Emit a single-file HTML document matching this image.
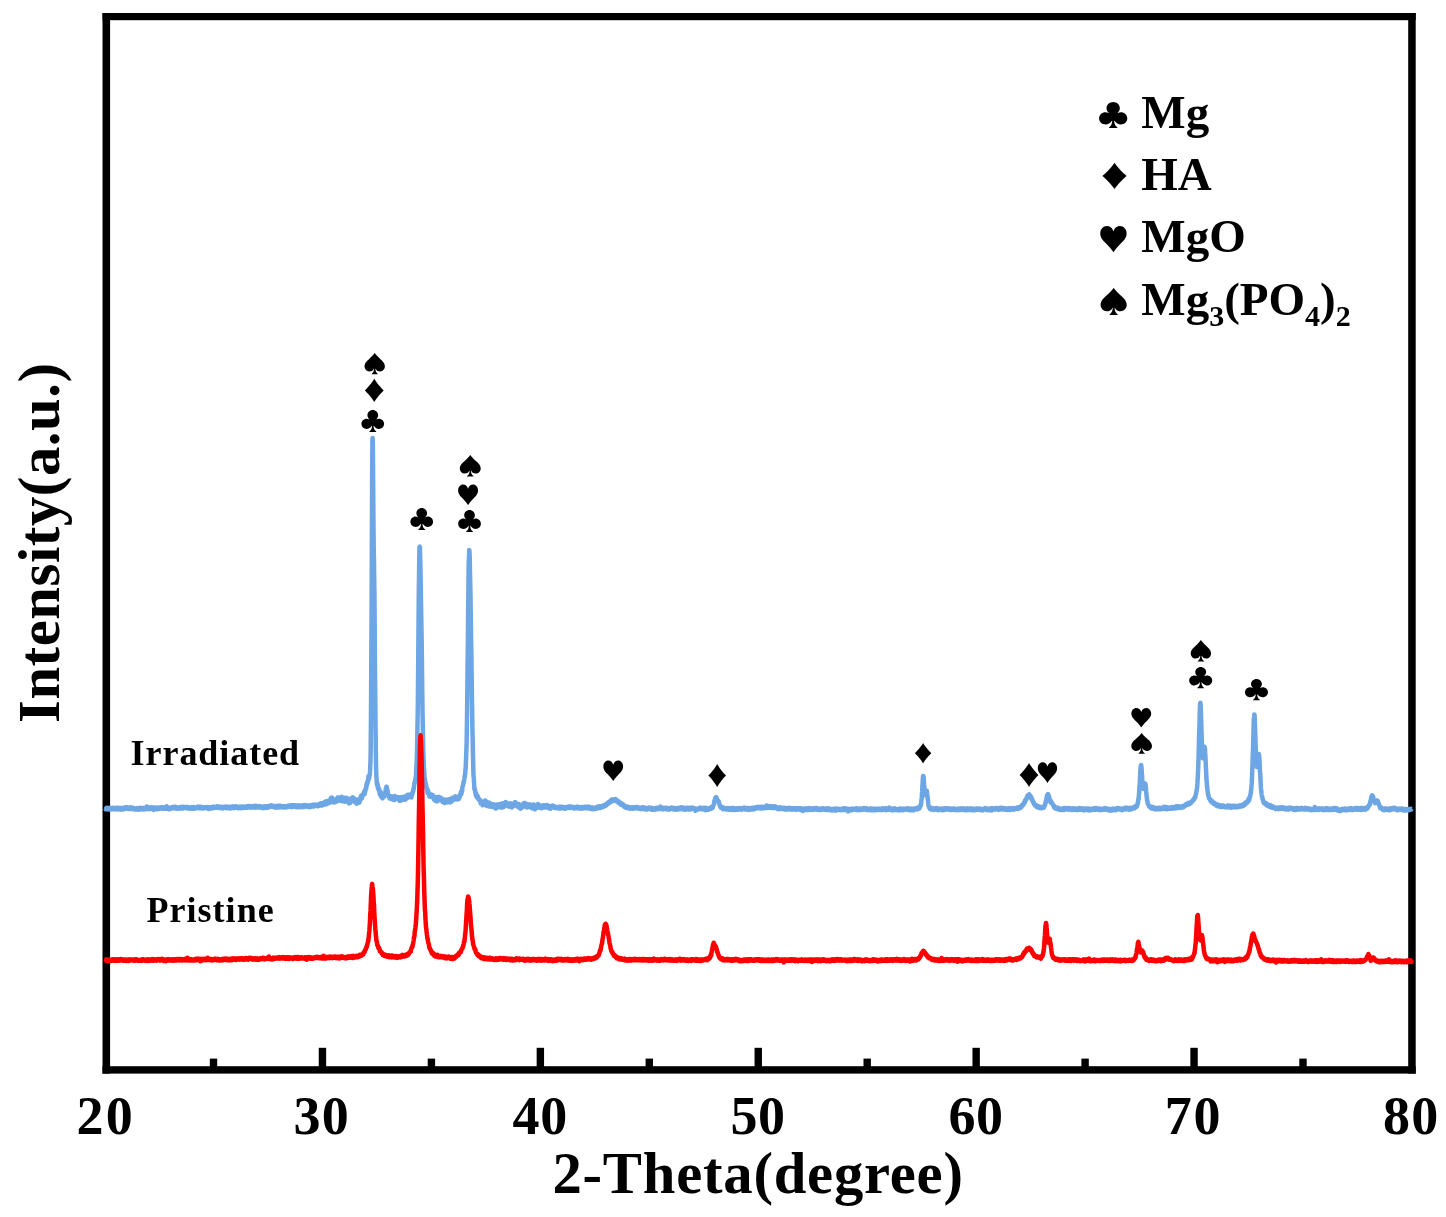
<!DOCTYPE html>
<html lang="en"><head><meta charset="utf-8"><title>XRD patterns: Irradiated vs Pristine</title>
<style>html,body{margin:0;padding:0;background:#fff}body{width:1446px;height:1217px;overflow:hidden}svg{display:block}text{font-family:'Liberation Serif','DejaVu Serif',serif;font-weight:bold;fill:#000}.s text{font-family:'Noto Sans CJK SC','DejaVu Sans',sans-serif;font-weight:normal}</style></head><body>
<svg width="1446" height="1217" viewBox="0 0 1446 1217">
<rect x="0" y="0" width="1446" height="1217" fill="#fff"/>
<g fill="#000">
<rect x="102.5" y="13.0" width="7.6" height="1060.6"/>
<rect x="1408.2" y="13.0" width="7.5" height="1060.6"/>
<rect x="102.5" y="13.0" width="1313.2" height="7.2"/>
<rect x="102.5" y="1066.2" width="1313.2" height="7.4"/>
<rect x="209.80" y="1058.6" width="7.4" height="8.6"/>
<rect x="318.75" y="1047.8" width="7.4" height="19.4"/>
<rect x="427.70" y="1058.6" width="7.4" height="8.6"/>
<rect x="536.65" y="1047.8" width="7.4" height="19.4"/>
<rect x="645.60" y="1058.6" width="7.4" height="8.6"/>
<rect x="754.55" y="1047.8" width="7.4" height="19.4"/>
<rect x="863.50" y="1058.6" width="7.4" height="8.6"/>
<rect x="972.45" y="1047.8" width="7.4" height="19.4"/>
<rect x="1081.40" y="1058.6" width="7.4" height="8.6"/>
<rect x="1190.35" y="1047.8" width="7.4" height="19.4"/>
<rect x="1299.30" y="1058.6" width="7.4" height="8.6"/>
</g>
<g fill="none" stroke-linejoin="round" stroke-linecap="butt">
<polyline stroke="#6da6e4" stroke-width="4.5" points="105.5,808.7 105.7,809.3 105.9,809.1 106.2,808.2 106.4,808.1 106.6,809.1 106.8,807.7 107.0,809.2 107.2,809.2 107.5,808.5 107.7,808.3 107.9,808.2 108.1,808.1 108.3,808.5 108.6,808.5 108.8,808.7 109.0,809.5 109.2,809.1 109.4,809.0 109.6,809.5 109.9,808.1 110.1,807.8 110.3,808.9 110.5,807.9 110.7,807.9 110.9,808.6 111.2,808.5 111.4,809.4 111.6,808.8 111.8,808.6 112.0,808.8 112.3,808.3 112.5,807.9 112.7,808.1 112.9,809.1 113.1,808.3 113.3,808.4 113.6,807.8 113.8,809.2 114.0,808.1 114.2,808.2 114.4,809.2 114.7,808.5 114.9,809.1 115.1,808.8 115.3,809.0 115.5,808.0 115.7,808.7 116.0,808.6 116.2,809.3 116.4,808.3 116.6,808.8 116.8,807.7 117.0,808.3 117.3,808.2 117.5,808.0 117.7,809.2 117.9,808.4 118.1,809.5 118.4,808.9 118.6,808.9 118.8,808.9 119.0,809.0 119.2,808.1 119.4,808.6 119.7,808.2 119.9,808.4 120.1,807.9 120.3,809.6 120.5,808.2 120.8,809.1 121.0,808.5 121.2,809.5 121.4,809.0 121.6,808.1 121.8,809.3 122.1,809.5 122.3,809.4 122.5,808.8 122.7,808.0 122.9,808.0 123.1,809.4 123.4,808.6 123.6,808.0 123.8,809.3 124.0,808.8 124.2,808.4 124.5,808.0 124.7,808.0 124.9,807.7 125.1,807.3 125.3,808.8 125.5,808.0 125.8,808.2 126.0,807.7 126.2,808.5 126.4,807.3 126.6,808.0 126.9,807.4 127.1,807.3 127.3,808.8 127.5,808.3 127.7,807.9 127.9,808.0 128.2,808.9 128.4,808.0 128.6,808.4 128.8,808.6 129.0,808.0 129.3,808.3 129.5,808.7 129.7,809.0 129.9,807.6 130.1,808.9 130.3,807.2 130.6,808.4 130.8,808.5 131.0,807.5 131.2,808.1 131.4,808.9 131.6,807.4 131.9,808.6 132.1,808.9 132.3,808.4 132.5,808.7 132.7,807.8 133.0,807.9 133.2,808.2 133.4,807.8 133.6,808.2 133.8,809.3 134.0,808.7 134.3,808.2 134.5,808.2 134.7,809.4 134.9,808.5 135.1,809.4 135.4,808.5 135.6,808.6 135.8,809.2 136.0,809.0 136.2,808.7 136.4,808.6 136.7,809.4 136.9,808.5 137.1,809.5 137.3,808.1 137.5,808.7 137.7,808.9 138.0,809.7 138.2,808.5 138.4,809.4 138.6,809.2 138.8,809.2 139.1,808.9 139.3,809.6 139.5,808.3 139.7,808.5 139.9,808.1 140.1,807.8 140.4,808.0 140.6,809.3 140.8,809.1 141.0,807.8 141.2,808.5 141.5,808.4 141.7,808.6 141.9,808.7 142.1,808.1 142.3,809.3 142.5,808.3 142.8,809.5 143.0,808.9 143.2,808.0 143.4,807.9 143.6,808.5 143.9,809.2 144.1,809.3 144.3,809.2 144.5,808.0 144.7,809.3 144.9,809.1 145.2,809.3 145.4,808.6 145.6,809.2 145.8,807.5 146.0,807.5 146.2,808.9 146.5,808.0 146.7,806.5 146.9,807.9 147.1,808.6 147.3,807.6 147.6,808.5 147.8,807.8 148.0,808.5 148.2,807.3 148.4,808.0 148.6,809.2 148.9,808.4 149.1,808.9 149.3,808.7 149.5,808.6 149.7,807.8 150.0,808.5 150.2,807.5 150.4,808.8 150.6,809.0 150.8,808.9 151.0,807.5 151.3,807.9 151.5,807.8 151.7,807.3 151.9,808.4 152.1,808.8 152.3,807.9 152.6,808.9 152.8,808.8 153.0,807.6 153.2,808.8 153.4,808.9 153.7,807.9 153.9,810.0 154.1,808.7 154.3,807.7 154.5,807.6 154.7,808.6 155.0,808.5 155.2,808.9 155.4,808.9 155.6,808.1 155.8,808.8 156.1,809.0 156.3,809.1 156.5,807.7 156.7,807.6 156.9,808.7 157.1,807.7 157.4,808.5 157.6,809.1 157.8,807.9 158.0,807.8 158.2,808.2 158.4,808.5 158.7,807.5 158.9,808.0 159.1,807.6 159.3,808.4 159.5,808.8 159.8,808.0 160.0,808.0 160.2,808.1 160.4,807.5 160.6,807.5 160.8,807.7 161.1,808.0 161.3,807.3 161.5,808.4 161.7,808.3 161.9,807.8 162.2,807.5 162.4,808.8 162.6,807.7 162.8,807.7 163.0,807.6 163.2,807.4 163.5,808.8 163.7,807.5 163.9,807.6 164.1,808.6 164.3,808.3 164.6,807.5 164.8,808.0 165.0,808.8 165.2,807.9 165.4,808.5 165.6,807.5 165.9,808.5 166.1,808.8 166.3,808.8 166.5,808.4 166.7,806.3 166.9,807.4 167.2,808.2 167.4,808.6 167.6,807.8 167.8,808.0 168.0,808.4 168.3,808.9 168.5,809.2 168.7,807.8 168.9,807.8 169.1,808.9 169.3,808.5 169.6,808.6 169.8,809.1 170.0,808.8 170.2,808.7 170.4,808.6 170.7,808.0 170.9,808.3 171.1,807.6 171.3,808.5 171.5,808.5 171.7,808.4 172.0,807.9 172.2,807.7 172.4,807.8 172.6,807.0 172.8,808.3 173.0,807.7 173.3,807.3 173.5,807.6 173.7,807.8 173.9,807.3 174.1,808.0 174.4,808.2 174.6,807.2 174.8,806.8 175.0,807.8 175.2,808.3 175.4,806.8 175.7,807.8 175.9,808.1 176.1,808.3 176.3,806.9 176.5,807.0 176.8,808.7 177.0,807.2 177.2,807.3 177.4,808.2 177.6,807.9 177.8,808.4 178.1,807.5 178.3,808.8 178.5,807.5 178.7,808.6 178.9,807.4 179.2,808.0 179.4,807.2 179.6,807.6 179.8,807.5 180.0,808.2 180.2,807.7 180.5,807.0 180.7,808.6 180.9,808.5 181.1,808.6 181.3,807.3 181.5,807.6 181.8,807.2 182.0,807.0 182.2,806.8 182.4,807.7 182.6,807.1 182.9,807.2 183.1,808.5 183.3,807.7 183.5,807.1 183.7,807.9 183.9,807.1 184.2,807.6 184.4,807.0 184.6,807.5 184.8,807.6 185.0,807.3 185.3,807.2 185.5,808.0 185.7,808.1 185.9,807.0 186.1,806.9 186.3,806.9 186.6,808.2 186.8,808.1 187.0,806.9 187.2,808.2 187.4,807.1 187.6,807.5 187.9,807.5 188.1,808.4 188.3,807.0 188.5,807.5 188.7,808.0 189.0,807.3 189.2,807.5 189.4,807.9 189.6,808.6 189.8,808.4 190.0,808.5 190.3,808.3 190.5,808.2 190.7,808.5 190.9,808.2 191.1,808.2 191.4,807.4 191.6,807.1 191.8,808.3 192.0,807.4 192.2,808.7 192.4,808.1 192.7,807.6 192.9,808.6 193.1,807.2 193.3,807.9 193.5,807.0 193.7,808.7 194.0,807.9 194.2,808.4 194.4,807.4 194.6,808.3 194.8,808.2 195.1,808.2 195.3,808.6 195.5,807.9 195.7,807.7 195.9,808.2 196.1,808.2 196.4,807.4 196.6,808.0 196.8,807.1 197.0,807.6 197.2,808.0 197.5,806.7 197.7,807.8 197.9,806.6 198.1,808.2 198.3,807.5 198.5,807.4 198.8,807.9 199.0,807.6 199.2,808.1 199.4,806.7 199.6,807.6 199.9,807.6 200.1,808.3 200.3,806.8 200.5,807.3 200.7,807.9 200.9,807.7 201.2,807.0 201.4,807.9 201.6,807.2 201.8,807.1 202.0,808.4 202.2,807.2 202.5,807.8 202.7,808.2 202.9,808.1 203.1,807.8 203.3,808.4 203.6,807.7 203.8,807.9 204.0,808.3 204.2,808.1 204.4,808.0 204.6,807.4 204.9,807.8 205.1,807.4 205.3,808.0 205.5,807.4 205.7,807.4 206.0,807.9 206.2,807.4 206.4,807.1 206.6,808.2 206.8,807.3 207.0,808.2 207.3,808.2 207.5,807.6 207.7,808.1 207.9,806.9 208.1,807.5 208.3,808.3 208.6,808.9 208.8,807.8 209.0,808.0 209.2,808.1 209.4,808.0 209.7,807.8 209.9,807.3 210.1,807.5 210.3,807.3 210.5,807.4 210.7,808.5 211.0,807.4 211.2,807.5 211.4,807.4 211.6,807.8 211.8,808.3 212.1,808.1 212.3,807.3 212.5,807.2 212.7,808.2 212.9,807.4 213.1,807.8 213.4,806.6 213.6,808.0 213.8,807.1 214.0,807.4 214.2,806.9 214.5,807.3 214.7,807.9 214.9,807.7 215.1,807.0 215.3,807.6 215.5,807.0 215.8,807.0 216.0,807.3 216.2,806.7 216.4,806.8 216.6,807.5 216.8,807.6 217.1,806.3 217.3,807.5 217.5,807.8 217.7,807.1 217.9,806.4 218.2,807.6 218.4,806.8 218.6,807.5 218.8,807.1 219.0,807.5 219.2,806.8 219.5,807.3 219.7,807.5 219.9,807.7 220.1,806.8 220.3,808.2 220.6,807.1 220.8,807.3 221.0,807.2 221.2,806.8 221.4,807.4 221.6,808.0 221.9,807.9 222.1,807.0 222.3,806.9 222.5,807.3 222.7,808.1 222.9,807.6 223.2,808.4 223.4,807.8 223.6,807.6 223.8,807.8 224.0,807.8 224.3,807.1 224.5,806.8 224.7,807.1 224.9,807.2 225.1,806.6 225.3,807.1 225.6,807.5 225.8,806.7 226.0,806.7 226.2,806.7 226.4,806.9 226.7,808.2 226.9,806.6 227.1,807.0 227.3,807.1 227.5,807.7 227.7,806.8 228.0,807.7 228.2,807.1 228.4,807.4 228.6,808.3 228.8,807.3 229.0,807.8 229.3,807.5 229.5,807.6 229.7,808.3 229.9,807.1 230.1,808.6 230.4,808.4 230.6,807.9 230.8,806.7 231.0,807.7 231.2,807.6 231.4,807.9 231.7,806.8 231.9,808.1 232.1,808.0 232.3,806.6 232.5,806.9 232.8,806.5 233.0,807.9 233.2,808.0 233.4,808.1 233.6,807.4 233.8,807.4 234.1,807.4 234.3,807.2 234.5,807.9 234.7,807.4 234.9,806.8 235.2,807.0 235.4,806.2 235.6,807.5 235.8,807.6 236.0,807.1 236.2,807.8 236.5,807.7 236.7,807.0 236.9,806.6 237.1,806.7 237.3,806.8 237.5,807.2 237.8,807.4 238.0,808.3 238.2,807.1 238.4,808.2 238.6,807.9 238.9,808.2 239.1,807.4 239.3,806.8 239.5,808.1 239.7,807.0 239.9,806.8 240.2,808.0 240.4,807.7 240.6,806.9 240.8,807.1 241.0,808.2 241.3,807.0 241.5,807.7 241.7,806.8 241.9,807.9 242.1,806.6 242.3,807.4 242.6,806.5 242.8,807.3 243.0,807.9 243.2,806.6 243.4,806.9 243.6,807.8 243.9,807.5 244.1,807.0 244.3,807.6 244.5,807.2 244.7,807.8 245.0,806.7 245.2,807.6 245.4,807.3 245.6,807.5 245.8,807.0 246.0,807.7 246.3,807.6 246.5,806.9 246.7,806.2 246.9,807.8 247.1,807.3 247.4,806.5 247.6,807.4 247.8,806.6 248.0,807.0 248.2,807.5 248.4,806.8 248.7,806.5 248.9,806.6 249.1,806.2 249.3,806.5 249.5,806.6 249.7,806.2 250.0,806.1 250.2,806.8 250.4,806.5 250.6,807.3 250.8,807.7 251.1,806.6 251.3,807.1 251.5,807.1 251.7,806.2 251.9,806.2 252.1,807.6 252.4,806.9 252.6,807.5 252.8,806.2 253.0,807.0 253.2,807.5 253.5,807.5 253.7,806.0 253.9,806.7 254.1,806.4 254.3,807.1 254.5,805.9 254.8,806.3 255.0,807.2 255.2,806.6 255.4,806.6 255.6,807.6 255.9,806.4 256.1,805.9 256.3,806.5 256.5,806.1 256.7,806.0 256.9,806.8 257.2,807.5 257.4,806.9 257.6,807.0 257.8,806.5 258.0,807.0 258.2,807.3 258.5,807.1 258.7,807.3 258.9,806.9 259.1,806.1 259.3,806.8 259.6,806.7 259.8,806.3 260.0,807.2 260.2,807.5 260.4,806.3 260.6,807.1 260.9,807.5 261.1,806.8 261.3,806.5 261.5,806.7 261.7,807.1 262.0,807.4 262.2,807.3 262.4,806.7 262.6,808.0 262.8,808.2 263.0,806.7 263.3,806.9 263.5,806.7 263.7,807.8 263.9,807.9 264.1,806.4 264.3,806.9 264.6,806.6 264.8,807.1 265.0,807.9 265.2,806.5 265.4,806.7 265.7,807.1 265.9,807.1 266.1,807.4 266.3,806.8 266.5,806.4 266.7,806.7 267.0,807.9 267.2,807.5 267.4,806.2 267.6,807.4 267.8,806.5 268.1,807.3 268.3,806.0 268.5,807.6 268.7,806.3 268.9,806.7 269.1,807.0 269.4,806.7 269.6,806.1 269.8,806.1 270.0,806.3 270.2,805.7 270.5,805.9 270.7,805.7 270.9,806.3 271.1,806.1 271.3,806.6 271.5,805.9 271.8,805.5 272.0,805.9 272.2,806.6 272.4,805.7 272.6,806.0 272.8,806.7 273.1,806.1 273.3,807.0 273.5,807.1 273.7,806.1 273.9,807.0 274.2,806.0 274.4,806.0 274.6,806.7 274.8,806.9 275.0,807.5 275.2,806.1 275.5,807.2 275.7,806.8 275.9,806.3 276.1,807.7 276.3,807.2 276.6,806.1 276.8,807.5 277.0,806.1 277.2,806.1 277.4,806.5 277.6,807.5 277.9,805.8 278.1,807.4 278.3,806.7 278.5,805.6 278.7,806.6 278.9,806.4 279.2,806.7 279.4,807.0 279.6,806.9 279.8,807.3 280.0,805.8 280.3,806.9 280.5,806.3 280.7,806.9 280.9,807.0 281.1,807.2 281.3,806.0 281.6,806.3 281.8,807.2 282.0,807.3 282.2,806.3 282.4,807.5 282.7,806.4 282.9,806.4 283.1,806.8 283.3,806.4 283.5,806.3 283.7,806.5 284.0,806.6 284.2,806.2 284.4,806.1 284.6,807.4 284.8,807.0 285.0,807.3 285.3,807.5 285.5,806.5 285.7,806.5 285.9,806.4 286.1,806.4 286.4,807.1 286.6,806.6 286.8,806.5 287.0,807.1 287.2,806.3 287.4,806.2 287.7,807.1 287.9,807.1 288.1,806.2 288.3,806.7 288.5,805.6 288.8,806.2 289.0,806.3 289.2,805.8 289.4,805.9 289.6,806.2 289.8,806.3 290.1,805.6 290.3,806.5 290.5,805.3 290.7,806.9 290.9,805.8 291.2,805.7 291.4,805.6 291.6,807.0 291.8,805.8 292.0,806.3 292.2,806.9 292.5,807.0 292.7,805.3 292.9,806.2 293.1,806.2 293.3,806.4 293.5,805.8 293.8,805.8 294.0,805.3 294.2,805.3 294.4,806.3 294.6,805.4 294.9,805.5 295.1,805.9 295.3,805.5 295.5,805.4 295.7,806.9 295.9,806.0 296.2,805.8 296.4,806.6 296.6,805.5 296.8,805.9 297.0,807.2 297.3,807.2 297.5,806.8 297.7,805.7 297.9,806.1 298.1,805.7 298.3,805.9 298.6,805.5 298.8,805.9 299.0,806.7 299.2,805.7 299.4,805.8 299.6,807.2 299.9,806.1 300.1,806.1 300.3,805.7 300.5,806.9 300.7,806.8 301.0,806.6 301.2,806.6 301.4,805.6 301.6,806.1 301.8,806.5 302.0,807.1 302.3,807.0 302.5,806.7 302.7,806.3 302.9,805.3 303.1,807.0 303.4,805.5 303.6,805.5 303.8,806.6 304.0,806.8 304.2,806.6 304.4,805.9 304.7,805.4 304.9,805.0 305.1,806.5 305.3,806.7 305.5,805.4 305.8,806.5 306.0,805.9 306.2,805.6 306.4,806.0 306.6,805.2 306.8,805.9 307.1,805.4 307.3,806.3 307.5,806.1 307.7,806.8 307.9,806.8 308.1,805.8 308.4,805.7 308.6,807.1 308.8,806.3 309.0,805.6 309.2,805.5 309.5,807.1 309.7,806.2 309.9,805.2 310.1,806.1 310.3,805.9 310.5,805.7 310.8,806.7 311.0,806.8 311.2,805.3 311.4,805.2 311.6,805.6 311.9,806.4 312.1,806.1 312.3,806.1 312.5,805.8 312.7,805.1 312.9,806.2 313.2,804.7 313.4,806.1 313.6,805.1 313.8,805.5 314.0,806.5 314.2,805.8 314.5,804.9 314.7,805.4 314.9,805.7 315.1,804.6 315.3,804.9 315.6,804.6 315.8,805.6 316.0,805.3 316.2,805.6 316.4,805.2 316.6,805.7 316.9,804.9 317.1,806.3 317.3,806.3 317.5,805.3 317.7,805.3 318.0,806.1 318.2,804.7 318.4,805.6 318.6,804.5 318.8,805.7 319.0,804.7 319.3,805.2 319.5,805.7 319.7,803.8 319.9,805.5 320.1,804.9 320.3,804.4 320.6,804.2 320.8,803.4 321.0,803.5 321.2,804.8 321.4,803.3 321.7,804.9 321.9,805.5 322.1,805.4 322.3,805.0 322.5,805.0 322.7,803.1 323.0,805.0 323.2,802.9 323.4,805.0 323.6,804.8 323.8,803.9 324.1,803.3 324.3,802.4 324.5,803.6 324.7,802.7 324.9,802.5 325.1,801.9 325.4,804.0 325.6,804.4 325.8,801.7 326.0,801.3 326.2,802.5 326.5,802.3 326.7,802.6 326.9,804.1 327.1,803.4 327.3,803.1 327.5,802.1 327.8,803.4 328.0,802.3 328.2,802.2 328.4,801.8 328.6,803.3 328.8,800.5 329.1,802.5 329.3,800.8 329.5,802.4 329.7,800.9 329.9,801.0 330.2,802.3 330.4,801.0 330.6,798.9 330.8,798.3 331.0,801.3 331.2,797.7 331.5,798.5 331.7,800.7 331.9,797.4 332.1,798.9 332.3,798.9 332.6,798.7 332.8,800.0 333.0,800.9 333.2,800.4 333.4,799.7 333.6,802.5 333.9,802.5 334.1,801.0 334.3,799.7 334.5,801.2 334.7,801.3 334.9,800.6 335.2,802.3 335.4,800.6 335.6,800.8 335.8,799.3 336.0,800.6 336.3,801.3 336.5,801.1 336.7,799.1 336.9,801.4 337.1,799.6 337.3,798.1 337.6,797.7 337.8,799.9 338.0,797.6 338.2,798.7 338.4,799.2 338.7,798.9 338.9,800.5 339.1,798.7 339.3,798.3 339.5,797.8 339.7,800.3 340.0,797.6 340.2,799.7 340.4,798.2 340.6,800.3 340.8,800.0 341.0,797.2 341.3,801.2 341.5,799.7 341.7,796.8 341.9,798.8 342.1,797.7 342.4,800.1 342.6,798.6 342.8,799.3 343.0,799.2 343.2,800.5 343.4,801.3 343.7,801.4 343.9,798.9 344.1,799.5 344.3,797.8 344.5,799.5 344.8,801.7 345.0,798.5 345.2,801.1 345.4,800.8 345.6,799.8 345.8,801.6 346.1,799.5 346.3,800.9 346.5,798.4 346.7,797.9 346.9,800.7 347.2,800.3 347.4,799.8 347.6,801.2 347.8,800.2 348.0,801.3 348.2,802.1 348.5,802.6 348.7,799.6 348.9,801.7 349.1,803.4 349.3,801.0 349.5,802.5 349.8,800.2 350.0,802.7 350.2,801.7 350.4,802.8 350.6,802.2 350.9,801.8 351.1,798.2 351.3,800.4 351.5,798.5 351.7,799.2 351.9,799.5 352.2,800.3 352.4,800.0 352.6,800.8 352.8,797.3 353.0,797.8 353.3,798.5 353.5,799.7 353.7,798.3 353.9,798.7 354.1,800.0 354.3,799.7 354.6,798.7 354.8,799.0 355.0,800.6 355.2,802.6 355.4,800.8 355.6,799.4 355.9,800.8 356.1,800.0 356.3,801.1 356.5,801.6 356.7,803.8 357.0,801.6 357.2,801.8 357.4,802.4 357.6,803.2 357.8,802.3 358.0,801.0 358.3,802.2 358.5,800.8 358.7,802.2 358.9,799.5 359.1,799.0 359.4,802.6 359.6,799.9 359.8,801.5 360.0,800.7 360.2,799.6 360.4,797.6 360.7,799.4 360.9,796.0 361.1,799.1 361.3,798.8 361.5,796.4 361.8,795.4 362.0,798.1 362.2,796.5 362.4,794.8 362.6,796.1 362.8,794.4 363.1,794.2 363.3,793.9 363.5,794.9 363.7,794.3 363.9,791.9 364.1,793.2 364.4,792.1 364.6,794.1 364.8,790.7 365.0,791.5 365.2,792.0 365.5,789.5 365.7,788.4 365.9,788.8 366.1,786.9 366.3,788.4 366.5,784.2 366.8,784.4 367.0,782.6 367.2,784.6 367.4,781.7 367.6,782.5 367.9,781.6 368.1,780.7 368.3,778.1 368.5,776.2 368.7,776.8 368.9,779.3 369.2,777.8 369.4,774.9 369.6,775.6 369.8,774.9 370.0,772.5 370.2,767.7 370.5,760.5 370.7,748.1 370.9,726.4 371.1,697.5 371.3,660.6 371.6,611.1 371.8,558.0 372.0,511.6 372.2,468.0 372.4,441.1 372.6,437.9 372.9,449.0 373.1,478.4 373.3,504.6 373.5,528.6 373.7,548.2 374.0,562.7 374.2,579.1 374.4,591.9 374.6,614.7 374.8,644.8 375.0,671.7 375.3,700.5 375.5,725.8 375.7,743.2 375.9,757.4 376.1,769.5 376.3,774.2 376.6,779.9 376.8,783.5 377.0,784.4 377.2,785.4 377.4,783.6 377.7,784.9 377.9,788.3 378.1,786.5 378.3,788.5 378.5,787.3 378.7,790.4 379.0,788.6 379.2,790.0 379.4,791.6 379.6,792.5 379.8,794.4 380.1,793.1 380.3,792.0 380.5,791.5 380.7,794.9 380.9,796.3 381.1,793.3 381.4,797.3 381.6,795.1 381.8,796.3 382.0,796.6 382.2,797.0 382.5,798.4 382.7,797.2 382.9,796.2 383.1,797.5 383.3,796.4 383.5,795.8 383.8,795.9 384.0,796.8 384.2,795.8 384.4,795.4 384.6,794.0 384.8,794.6 385.1,792.6 385.3,793.3 385.5,792.2 385.7,789.1 385.9,789.2 386.2,788.9 386.4,786.7 386.6,787.2 386.8,786.9 387.0,788.3 387.2,790.2 387.5,790.3 387.7,792.8 387.9,792.5 388.1,794.1 388.3,794.7 388.6,796.6 388.8,795.2 389.0,797.4 389.2,796.5 389.4,797.6 389.6,798.5 389.9,796.9 390.1,796.2 390.3,798.4 390.5,798.6 390.7,798.5 390.9,797.0 391.2,798.6 391.4,796.2 391.6,798.5 391.8,798.4 392.0,798.8 392.3,798.5 392.5,797.6 392.7,799.5 392.9,798.9 393.1,799.1 393.3,797.9 393.6,797.2 393.8,798.4 394.0,798.8 394.2,800.1 394.4,799.3 394.7,796.1 394.9,798.6 395.1,796.9 395.3,798.6 395.5,797.7 395.7,797.4 396.0,797.5 396.2,797.5 396.4,797.9 396.6,797.8 396.8,798.0 397.1,797.4 397.3,798.5 397.5,797.7 397.7,798.7 397.9,798.5 398.1,798.9 398.4,797.0 398.6,799.2 398.8,798.0 399.0,800.0 399.2,797.6 399.4,799.7 399.7,800.9 399.9,799.0 400.1,798.1 400.3,800.1 400.5,798.4 400.8,800.7 401.0,797.5 401.2,798.5 401.4,798.7 401.6,797.1 401.8,797.6 402.1,797.6 402.3,799.4 402.5,799.9 402.7,798.2 402.9,799.3 403.2,797.2 403.4,799.0 403.6,797.5 403.8,797.1 404.0,799.2 404.2,798.9 404.5,796.6 404.7,797.2 404.9,799.0 405.1,799.6 405.3,798.3 405.5,799.5 405.8,799.5 406.0,798.2 406.2,797.9 406.4,796.5 406.6,796.7 406.9,797.7 407.1,798.4 407.3,794.9 407.5,795.8 407.7,794.7 407.9,796.5 408.2,795.3 408.4,796.7 408.6,794.8 408.8,797.0 409.0,797.0 409.3,796.0 409.5,795.1 409.7,795.9 409.9,797.0 410.1,795.0 410.3,794.6 410.6,795.9 410.8,794.9 411.0,797.2 411.2,797.2 411.4,797.5 411.6,795.5 411.9,794.5 412.1,792.9 412.3,794.5 412.5,793.3 412.7,792.4 413.0,791.6 413.2,791.5 413.4,788.8 413.6,789.3 413.8,788.2 414.0,786.5 414.3,783.9 414.5,782.5 414.7,782.9 414.9,781.6 415.1,780.4 415.4,780.2 415.6,778.6 415.8,776.6 416.0,775.8 416.2,770.0 416.4,767.0 416.7,760.8 416.9,754.9 417.1,748.7 417.3,735.6 417.5,724.0 417.8,708.3 418.0,686.7 418.2,664.7 418.4,639.8 418.6,615.8 418.8,592.3 419.1,570.7 419.3,556.8 419.5,546.8 419.7,546.6 419.9,547.4 420.1,555.4 420.4,566.7 420.6,576.3 420.8,591.8 421.0,603.0 421.2,615.1 421.5,630.4 421.7,643.9 421.9,660.4 422.1,677.4 422.3,693.6 422.5,710.7 422.8,725.8 423.0,736.0 423.2,747.6 423.4,755.2 423.6,759.5 423.9,766.4 424.1,769.2 424.3,771.6 424.5,778.5 424.7,777.8 424.9,779.4 425.2,780.5 425.4,783.3 425.6,783.6 425.8,783.7 426.0,786.8 426.2,785.3 426.5,788.6 426.7,787.9 426.9,789.1 427.1,789.2 427.3,790.9 427.6,793.1 427.8,793.1 428.0,790.2 428.2,792.7 428.4,792.2 428.6,792.7 428.9,793.5 429.1,793.7 429.3,796.5 429.5,795.8 429.7,796.2 430.0,795.6 430.2,796.3 430.4,795.3 430.6,795.7 430.8,795.0 431.0,796.0 431.3,796.9 431.5,794.4 431.7,795.4 431.9,796.6 432.1,796.8 432.4,796.8 432.6,797.0 432.8,795.2 433.0,795.9 433.2,796.6 433.4,796.6 433.7,798.0 433.9,799.5 434.1,798.8 434.3,796.6 434.5,797.7 434.7,800.0 435.0,800.6 435.2,799.6 435.4,798.8 435.6,799.0 435.8,799.9 436.1,801.2 436.3,799.5 436.5,798.5 436.7,797.2 436.9,797.5 437.1,799.5 437.4,799.3 437.6,801.2 437.8,797.8 438.0,798.5 438.2,799.7 438.5,799.0 438.7,796.8 438.9,797.9 439.1,798.8 439.3,799.1 439.5,798.3 439.8,797.3 440.0,799.9 440.2,797.9 440.4,798.8 440.6,798.8 440.8,797.7 441.1,799.2 441.3,798.1 441.5,798.7 441.7,799.1 441.9,800.0 442.2,799.9 442.4,800.4 442.6,802.1 442.8,799.3 443.0,799.4 443.2,801.7 443.5,800.5 443.7,800.6 443.9,800.4 444.1,801.9 444.3,801.1 444.6,803.0 444.8,802.8 445.0,800.5 445.2,799.5 445.4,802.6 445.6,799.9 445.9,801.6 446.1,802.0 446.3,801.7 446.5,802.0 446.7,800.7 446.9,802.4 447.2,800.6 447.4,800.3 447.6,800.6 447.8,800.2 448.0,801.6 448.3,801.7 448.5,799.3 448.7,799.9 448.9,800.8 449.1,800.7 449.3,802.2 449.6,802.4 449.8,802.3 450.0,801.8 450.2,801.2 450.4,799.8 450.7,800.1 450.9,798.8 451.1,802.1 451.3,799.7 451.5,799.3 451.7,799.6 452.0,799.3 452.2,800.8 452.4,797.8 452.6,798.0 452.8,800.5 453.1,799.9 453.3,799.2 453.5,798.8 453.7,797.4 453.9,799.6 454.1,799.5 454.4,798.6 454.6,797.4 454.8,797.1 455.0,797.4 455.2,797.4 455.4,796.4 455.7,798.0 455.9,798.3 456.1,797.8 456.3,798.4 456.5,797.9 456.8,797.8 457.0,799.4 457.2,798.2 457.4,796.9 457.6,799.2 457.8,797.8 458.1,797.9 458.3,798.7 458.5,798.9 458.7,799.1 458.9,798.8 459.2,798.2 459.4,797.8 459.6,795.3 459.8,796.8 460.0,794.7 460.2,794.7 460.5,794.1 460.7,794.6 460.9,791.8 461.1,794.4 461.3,794.2 461.5,793.5 461.8,790.4 462.0,791.3 462.2,790.7 462.4,787.0 462.6,786.5 462.9,785.4 463.1,785.2 463.3,783.0 463.5,783.1 463.7,781.5 463.9,781.4 464.2,780.1 464.4,778.7 464.6,776.0 464.8,776.8 465.0,775.1 465.3,772.6 465.5,768.1 465.7,768.6 465.9,763.2 466.1,757.9 466.3,752.1 466.6,744.0 466.8,733.0 467.0,718.1 467.2,702.5 467.4,684.1 467.6,664.8 467.9,640.8 468.1,617.1 468.3,597.7 468.5,578.5 468.7,562.7 469.0,557.1 469.2,549.9 469.4,550.4 469.6,554.4 469.8,561.3 470.0,574.3 470.3,586.1 470.5,596.7 470.7,612.1 470.9,626.0 471.1,639.8 471.4,656.3 471.6,671.6 471.8,687.4 472.0,701.7 472.2,713.7 472.4,728.8 472.7,740.9 472.9,752.7 473.1,760.6 473.3,768.9 473.5,776.1 473.8,777.4 474.0,781.8 474.2,784.8 474.4,789.3 474.6,788.1 474.8,788.7 475.1,790.9 475.3,792.7 475.5,791.8 475.7,795.1 475.9,793.2 476.1,795.5 476.4,793.8 476.6,797.1 476.8,794.9 477.0,797.5 477.2,797.8 477.5,796.3 477.7,796.2 477.9,797.8 478.1,798.0 478.3,798.2 478.5,799.4 478.8,798.5 479.0,799.0 479.2,799.7 479.4,800.1 479.6,800.4 479.9,799.7 480.1,800.0 480.3,800.7 480.5,801.2 480.7,803.6 480.9,801.1 481.2,801.7 481.4,803.1 481.6,802.4 481.8,802.5 482.0,802.3 482.2,802.9 482.5,804.1 482.7,805.3 482.9,804.4 483.1,802.6 483.3,802.0 483.6,802.3 483.8,801.9 484.0,804.4 484.2,801.3 484.4,801.2 484.6,803.0 484.9,802.9 485.1,800.6 485.3,804.1 485.5,801.8 485.7,803.2 486.0,802.0 486.2,805.7 486.4,801.4 486.6,802.8 486.8,805.5 487.0,805.3 487.3,806.0 487.5,805.5 487.7,803.1 487.9,802.8 488.1,803.0 488.4,803.2 488.6,806.4 488.8,802.5 489.0,804.4 489.2,804.1 489.4,803.5 489.7,804.9 489.9,803.1 490.1,806.4 490.3,806.2 490.5,804.7 490.7,805.9 491.0,805.9 491.2,804.0 491.4,805.9 491.6,806.8 491.8,805.5 492.1,804.8 492.3,806.5 492.5,806.5 492.7,805.1 492.9,804.7 493.1,806.1 493.4,805.5 493.6,804.3 493.8,805.5 494.0,804.9 494.2,807.1 494.5,804.9 494.7,804.9 494.9,804.9 495.1,805.9 495.3,808.4 495.5,805.5 495.8,806.9 496.0,808.4 496.2,804.8 496.4,806.0 496.6,807.5 496.8,804.4 497.1,807.9 497.3,807.7 497.5,805.0 497.7,807.2 497.9,806.6 498.2,807.0 498.4,805.7 498.6,805.5 498.8,804.6 499.0,804.8 499.2,804.4 499.5,806.9 499.7,806.3 499.9,804.7 500.1,805.6 500.3,804.9 500.6,804.0 500.8,804.9 501.0,807.2 501.2,805.0 501.4,806.4 501.6,807.7 501.9,805.6 502.1,807.3 502.3,803.3 502.5,806.7 502.7,807.0 502.9,806.7 503.2,807.2 503.4,805.5 503.6,807.0 503.8,804.1 504.0,805.2 504.3,804.3 504.5,803.5 504.7,804.8 504.9,805.9 505.1,805.8 505.3,802.4 505.6,805.3 505.8,802.1 506.0,804.0 506.2,805.1 506.4,805.2 506.7,804.5 506.9,803.4 507.1,804.3 507.3,805.7 507.5,803.4 507.7,805.0 508.0,805.2 508.2,804.0 508.4,806.5 508.6,804.3 508.8,805.4 509.1,804.8 509.3,804.2 509.5,804.7 509.7,805.5 509.9,805.1 510.1,803.3 510.4,806.5 510.6,807.0 510.8,803.8 511.0,806.7 511.2,805.6 511.4,804.8 511.7,807.6 511.9,805.9 512.1,806.6 512.3,806.4 512.5,805.4 512.8,803.7 513.0,806.5 513.2,805.4 513.4,806.2 513.6,803.5 513.8,805.5 514.1,805.8 514.3,803.9 514.5,804.1 514.7,803.5 514.9,802.2 515.2,802.7 515.4,802.8 515.6,802.3 515.8,804.5 516.0,803.6 516.2,804.2 516.5,803.5 516.7,803.7 516.9,805.5 517.1,805.0 517.3,805.5 517.5,805.4 517.8,806.0 518.0,807.0 518.2,805.4 518.4,805.9 518.6,806.1 518.9,804.1 519.1,807.6 519.3,805.9 519.5,804.9 519.7,807.3 519.9,807.6 520.2,807.3 520.4,808.7 520.6,806.0 520.8,806.8 521.0,807.3 521.3,807.9 521.5,806.7 521.7,806.4 521.9,805.6 522.1,805.5 522.3,805.6 522.6,807.2 522.8,806.3 523.0,806.0 523.2,806.6 523.4,803.5 523.7,805.8 523.9,804.3 524.1,805.1 524.3,803.0 524.5,803.8 524.7,805.9 525.0,803.1 525.2,804.1 525.4,805.1 525.6,806.5 525.8,804.6 526.0,806.4 526.3,804.1 526.5,804.0 526.7,805.8 526.9,806.0 527.1,807.6 527.4,806.6 527.6,804.9 527.8,807.2 528.0,806.5 528.2,805.3 528.4,806.2 528.7,806.1 528.9,804.7 529.1,807.1 529.3,804.3 529.5,804.4 529.8,806.5 530.0,805.5 530.2,807.0 530.4,806.7 530.6,804.8 530.8,807.4 531.1,807.6 531.3,805.9 531.5,805.7 531.7,807.7 531.9,808.3 532.1,808.3 532.4,807.7 532.6,807.9 532.8,808.0 533.0,806.8 533.2,807.3 533.5,804.5 533.7,806.1 533.9,807.1 534.1,805.9 534.3,807.5 534.5,808.9 534.8,808.4 535.0,809.4 535.2,808.1 535.4,807.4 535.6,808.2 535.9,807.0 536.1,807.6 536.3,805.2 536.5,806.0 536.7,807.9 536.9,806.5 537.2,806.3 537.4,807.6 537.6,805.8 537.8,807.2 538.0,804.1 538.2,805.2 538.5,804.7 538.7,805.1 538.9,807.6 539.1,804.9 539.3,806.0 539.6,806.5 539.8,806.9 540.0,807.8 540.2,807.1 540.4,805.9 540.6,808.0 540.9,805.8 541.1,806.0 541.3,805.9 541.5,806.8 541.7,808.2 542.0,807.6 542.2,807.3 542.4,807.2 542.6,807.7 542.8,807.5 543.0,806.5 543.3,805.3 543.5,805.8 543.7,807.4 543.9,807.0 544.1,807.2 544.4,805.6 544.6,807.6 544.8,805.4 545.0,806.6 545.2,806.2 545.4,806.1 545.7,806.8 545.9,806.4 546.1,806.6 546.3,805.3 546.5,806.2 546.7,805.4 547.0,805.2 547.2,805.5 547.4,806.6 547.6,806.2 547.8,807.5 548.1,805.8 548.3,805.5 548.5,808.3 548.7,807.1 548.9,807.7 549.1,806.9 549.4,806.9 549.6,807.4 549.8,808.4 550.0,806.3 550.2,808.2 550.5,808.6 550.7,807.6 550.9,806.9 551.1,806.6 551.3,806.4 551.5,806.6 551.8,807.7 552.0,805.7 552.2,807.4 552.4,807.0 552.6,805.5 552.8,805.5 553.1,807.1 553.3,806.9 553.5,806.3 553.7,807.4 553.9,806.3 554.2,806.8 554.4,806.4 554.6,807.4 554.8,806.4 555.0,806.7 555.2,808.0 555.5,807.5 555.7,807.9 555.9,808.1 556.1,807.8 556.3,807.2 556.6,807.1 556.8,807.1 557.0,807.4 557.2,807.8 557.4,807.2 557.6,807.2 557.9,808.2 558.1,808.3 558.3,807.5 558.5,807.7 558.7,807.2 558.9,807.7 559.2,807.8 559.4,808.3 559.6,806.7 559.8,808.4 560.0,808.5 560.3,807.3 560.5,808.1 560.7,808.3 560.9,807.8 561.1,807.1 561.3,807.8 561.6,808.2 561.8,806.7 562.0,807.4 562.2,806.7 562.4,808.2 562.7,808.2 562.9,806.9 563.1,808.3 563.3,808.2 563.5,807.2 563.7,807.8 564.0,808.1 564.2,807.5 564.4,807.8 564.6,808.7 564.8,808.2 565.1,807.8 565.3,807.1 565.5,807.2 565.7,808.5 565.9,808.1 566.1,808.3 566.4,807.7 566.6,807.8 566.8,807.7 567.0,808.0 567.2,807.2 567.4,807.5 567.7,807.5 567.9,807.7 568.1,806.8 568.3,806.5 568.5,806.6 568.8,806.7 569.0,808.0 569.2,807.7 569.4,807.5 569.6,807.1 569.8,806.5 570.1,807.2 570.3,807.9 570.5,807.2 570.7,807.5 570.9,807.0 571.2,806.5 571.4,807.4 571.6,807.2 571.8,807.0 572.0,806.9 572.2,807.6 572.5,806.9 572.7,807.5 572.9,806.9 573.1,807.9 573.3,807.4 573.5,807.6 573.8,808.5 574.0,808.0 574.2,808.1 574.4,807.4 574.6,808.1 574.9,807.4 575.1,808.4 575.3,808.1 575.5,807.6 575.7,807.9 575.9,807.5 576.2,807.9 576.4,806.8 576.6,808.3 576.8,808.0 577.0,806.8 577.3,806.9 577.5,807.5 577.7,807.9 577.9,806.7 578.1,808.1 578.3,807.1 578.6,808.3 578.8,808.0 579.0,807.6 579.2,807.6 579.4,807.2 579.7,807.2 579.9,808.1 580.1,808.4 580.3,808.7 580.5,807.7 580.7,808.7 581.0,807.5 581.2,808.6 581.4,808.4 581.6,807.0 581.8,808.3 582.0,808.1 582.3,808.1 582.5,808.5 582.7,807.8 582.9,807.8 583.1,807.6 583.4,808.4 583.6,808.3 583.8,807.1 584.0,808.1 584.2,807.2 584.4,807.1 584.7,807.1 584.9,807.7 585.1,807.2 585.3,807.4 585.5,807.0 585.8,807.4 586.0,808.2 586.2,806.9 586.4,807.5 586.6,807.7 586.8,807.8 587.1,807.0 587.3,808.1 587.5,808.3 587.7,808.0 587.9,806.9 588.1,807.8 588.4,807.2 588.6,806.8 588.8,807.4 589.0,808.3 589.2,808.2 589.5,807.4 589.7,806.9 589.9,808.4 590.1,808.7 590.3,807.9 590.5,807.5 590.8,808.1 591.0,808.4 591.2,808.2 591.4,808.0 591.6,807.9 591.9,808.0 592.1,807.6 592.3,808.2 592.5,809.3 592.7,807.6 592.9,808.9 593.2,809.1 593.4,808.3 593.6,808.7 593.8,808.1 594.0,808.7 594.2,808.7 594.5,808.7 594.7,808.2 594.9,809.0 595.1,808.8 595.3,808.2 595.6,808.3 595.8,807.5 596.0,808.6 596.2,807.9 596.4,808.4 596.6,807.4 596.9,808.6 597.1,806.8 597.3,807.6 597.5,806.7 597.7,806.8 598.0,807.8 598.2,806.5 598.4,807.1 598.6,806.7 598.8,808.0 599.0,806.5 599.3,806.9 599.5,807.9 599.7,807.6 599.9,807.7 600.1,808.1 600.4,806.2 600.6,807.5 600.8,807.5 601.0,807.6 601.2,807.4 601.4,806.3 601.7,806.3 601.9,807.4 602.1,807.1 602.3,806.5 602.5,806.0 602.7,806.7 603.0,805.9 603.2,806.9 603.4,806.0 603.6,806.6 603.8,805.2 604.1,805.9 604.3,805.2 604.5,806.1 604.7,805.6 604.9,804.9 605.1,806.1 605.4,805.4 605.6,804.8 605.8,805.7 606.0,804.4 606.2,805.3 606.5,804.0 606.7,805.1 606.9,803.5 607.1,804.4 607.3,803.7 607.5,803.7 607.8,803.9 608.0,802.6 608.2,802.8 608.4,802.4 608.6,803.5 608.8,802.1 609.1,802.6 609.3,802.1 609.5,801.6 609.7,802.8 609.9,801.9 610.2,802.1 610.4,802.0 610.6,802.1 610.8,800.8 611.0,800.3 611.2,800.8 611.5,800.0 611.7,799.7 611.9,801.2 612.1,800.6 612.3,800.3 612.6,799.5 612.8,800.6 613.0,800.2 613.2,799.6 613.4,800.9 613.6,801.0 613.9,800.7 614.1,800.6 614.3,800.2 614.5,799.3 614.7,800.2 615.0,799.3 615.2,800.1 615.4,799.3 615.6,799.1 615.8,800.5 616.0,799.9 616.3,800.7 616.5,800.9 616.7,801.5 616.9,801.2 617.1,801.8 617.3,801.5 617.6,802.0 617.8,802.2 618.0,800.8 618.2,801.3 618.4,801.5 618.7,801.5 618.9,801.9 619.1,803.1 619.3,801.8 619.5,802.2 619.7,803.5 620.0,802.6 620.2,802.9 620.4,804.4 620.6,804.1 620.8,803.6 621.1,803.3 621.3,803.8 621.5,805.0 621.7,804.8 621.9,803.5 622.1,804.9 622.4,804.5 622.6,805.4 622.8,804.7 623.0,804.7 623.2,804.6 623.4,805.4 623.7,806.4 623.9,806.6 624.1,806.4 624.3,806.3 624.5,805.7 624.8,806.0 625.0,807.0 625.2,807.1 625.4,806.4 625.6,807.0 625.8,807.6 626.1,807.8 626.3,806.5 626.5,807.5 626.7,807.1 626.9,807.2 627.2,807.3 627.4,807.2 627.6,806.7 627.8,808.1 628.0,807.9 628.2,808.1 628.5,807.0 628.7,807.2 628.9,807.9 629.1,808.4 629.3,807.6 629.5,807.3 629.8,807.9 630.0,808.7 630.2,808.4 630.4,808.4 630.6,807.6 630.9,807.3 631.1,808.2 631.3,808.1 631.5,808.3 631.7,807.7 631.9,807.5 632.2,807.3 632.4,808.6 632.6,808.7 632.8,807.7 633.0,808.6 633.3,807.8 633.5,808.0 633.7,808.2 633.9,807.4 634.1,807.5 634.3,807.5 634.6,807.4 634.8,807.9 635.0,807.2 635.2,808.4 635.4,807.2 635.7,807.6 635.9,807.9 636.1,807.1 636.3,807.5 636.5,807.8 636.7,807.7 637.0,808.4 637.2,808.2 637.4,807.0 637.6,808.3 637.8,807.8 638.0,808.0 638.3,807.3 638.5,807.9 638.7,808.3 638.9,808.4 639.1,808.5 639.4,807.7 639.6,808.7 639.8,808.3 640.0,808.5 640.2,808.9 640.4,808.0 640.7,808.9 640.9,808.8 641.1,808.7 641.3,807.9 641.5,808.3 641.8,807.7 642.0,808.7 642.2,808.9 642.4,807.6 642.6,808.6 642.8,808.6 643.1,807.4 643.3,808.9 643.5,808.1 643.7,807.8 643.9,807.4 644.1,808.8 644.4,808.0 644.6,808.5 644.8,808.1 645.0,808.9 645.2,808.6 645.5,809.3 645.7,809.0 645.9,809.1 646.1,808.2 646.3,808.0 646.5,809.4 646.8,809.5 647.0,809.0 647.2,809.5 647.4,809.1 647.6,808.7 647.9,808.4 648.1,808.3 648.3,808.5 648.5,808.0 648.7,808.3 648.9,808.3 649.2,807.6 649.4,808.2 649.6,808.0 649.8,808.7 650.0,809.1 650.3,808.7 650.5,808.8 650.7,808.8 650.9,808.1 651.1,808.3 651.3,809.2 651.6,809.6 651.8,808.1 652.0,807.9 652.2,809.6 652.4,809.5 652.6,809.2 652.9,809.6 653.1,809.0 653.3,809.6 653.5,808.4 653.7,808.6 654.0,809.1 654.2,808.3 654.4,809.2 654.6,808.2 654.8,809.1 655.0,809.4 655.3,808.7 655.5,809.6 655.7,809.0 655.9,809.2 656.1,807.8 656.4,807.8 656.6,808.8 656.8,809.2 657.0,808.5 657.2,809.1 657.4,807.7 657.7,809.0 657.9,809.0 658.1,808.6 658.3,808.3 658.5,808.8 658.7,807.9 659.0,808.6 659.2,808.7 659.4,808.4 659.6,807.9 659.8,807.5 660.1,807.9 660.3,809.0 660.5,806.6 660.7,807.6 660.9,808.0 661.1,808.5 661.4,808.4 661.6,809.0 661.8,808.9 662.0,809.1 662.2,809.1 662.5,808.6 662.7,808.0 662.9,809.5 663.1,808.0 663.3,808.7 663.5,808.1 663.8,809.0 664.0,807.9 664.2,808.2 664.4,807.9 664.6,809.1 664.8,808.8 665.1,808.7 665.3,808.3 665.5,808.1 665.7,809.2 665.9,809.0 666.2,808.8 666.4,809.2 666.6,808.4 666.8,807.7 667.0,808.6 667.2,808.1 667.5,808.6 667.7,808.6 667.9,808.8 668.1,809.4 668.3,809.3 668.6,808.6 668.8,809.3 669.0,809.5 669.2,809.3 669.4,808.9 669.6,809.5 669.9,808.7 670.1,808.1 670.3,808.2 670.5,808.9 670.7,808.3 671.0,808.3 671.2,808.3 671.4,807.8 671.6,807.6 671.8,807.6 672.0,808.8 672.3,808.1 672.5,808.3 672.7,809.1 672.9,808.6 673.1,808.9 673.3,808.9 673.6,809.3 673.8,807.9 674.0,808.5 674.2,809.6 674.4,808.7 674.7,809.5 674.9,808.3 675.1,808.0 675.3,809.4 675.5,808.6 675.7,808.8 676.0,809.5 676.2,808.4 676.4,809.7 676.6,808.7 676.8,808.4 677.1,808.4 677.3,808.9 677.5,808.7 677.7,809.4 677.9,807.8 678.1,807.7 678.4,808.0 678.6,808.8 678.8,809.1 679.0,808.6 679.2,808.8 679.4,808.9 679.7,807.7 679.9,808.1 680.1,809.3 680.3,808.0 680.5,809.1 680.8,808.3 681.0,807.7 681.2,807.3 681.4,807.7 681.6,807.9 681.8,808.2 682.1,808.4 682.3,808.5 682.5,808.3 682.7,807.5 682.9,808.0 683.2,809.4 683.4,807.7 683.6,809.0 683.8,808.6 684.0,809.0 684.2,808.4 684.5,808.4 684.7,808.8 684.9,809.7 685.1,808.5 685.3,808.0 685.5,807.9 685.8,809.4 686.0,808.4 686.2,808.1 686.4,808.9 686.6,809.4 686.9,808.8 687.1,807.9 687.3,808.4 687.5,808.2 687.7,807.8 687.9,809.3 688.2,808.5 688.4,807.9 688.6,809.1 688.8,809.3 689.0,809.0 689.3,808.1 689.5,808.1 689.7,808.6 689.9,808.7 690.1,809.3 690.3,809.5 690.6,809.4 690.8,808.2 691.0,808.7 691.2,807.7 691.4,808.3 691.7,807.5 691.9,807.6 692.1,807.7 692.3,808.1 692.5,808.1 692.7,808.8 693.0,807.8 693.2,807.8 693.4,808.7 693.6,809.0 693.8,809.2 694.0,809.2 694.3,809.2 694.5,809.1 694.7,809.5 694.9,808.5 695.1,808.8 695.4,810.8 695.6,809.0 695.8,809.5 696.0,809.0 696.2,809.2 696.4,809.8 696.7,809.4 696.9,809.0 697.1,808.8 697.3,809.7 697.5,809.2 697.8,808.6 698.0,809.3 698.2,808.8 698.4,809.4 698.6,808.7 698.8,809.1 699.1,808.5 699.3,808.8 699.5,808.9 699.7,807.7 699.9,808.3 700.1,808.6 700.4,807.5 700.6,808.9 700.8,808.7 701.0,809.0 701.2,808.1 701.5,808.2 701.7,809.2 701.9,808.3 702.1,809.2 702.3,808.6 702.5,808.4 702.8,808.3 703.0,808.2 703.2,808.6 703.4,808.1 703.6,809.2 703.9,809.5 704.1,807.9 704.3,808.0 704.5,807.8 704.7,809.4 704.9,808.1 705.2,809.2 705.4,808.5 705.6,808.2 705.8,808.4 706.0,810.3 706.3,807.9 706.5,809.4 706.7,808.9 706.9,808.3 707.1,808.4 707.3,809.1 707.6,808.9 707.8,808.5 708.0,808.5 708.2,808.8 708.4,809.7 708.6,809.1 708.9,809.4 709.1,808.8 709.3,808.7 709.5,808.5 709.7,808.8 710.0,808.3 710.2,808.6 710.4,807.6 710.6,807.8 710.8,808.7 711.0,807.6 711.3,808.4 711.5,808.6 711.7,807.8 711.9,807.0 712.1,808.0 712.4,807.6 712.6,806.7 712.8,807.6 713.0,806.8 713.2,805.6 713.4,805.1 713.7,804.6 713.9,804.5 714.1,804.1 714.3,801.7 714.5,800.5 714.7,800.6 715.0,799.3 715.2,798.0 715.4,798.3 715.6,797.9 715.8,798.2 716.1,798.0 716.3,797.1 716.5,797.9 716.7,799.2 716.9,800.3 717.1,799.2 717.4,800.4 717.6,800.5 717.8,800.9 718.0,800.6 718.2,800.7 718.5,801.0 718.7,801.4 718.9,802.4 719.1,802.8 719.3,804.1 719.5,804.4 719.8,805.6 720.0,805.1 720.2,806.6 720.4,806.0 720.6,806.8 720.8,807.6 721.1,807.0 721.3,807.3 721.5,807.8 721.7,807.0 721.9,807.8 722.2,807.1 722.4,807.4 722.6,808.1 722.8,808.9 723.0,809.2 723.2,807.8 723.5,808.5 723.7,808.2 723.9,808.0 724.1,807.9 724.3,808.8 724.6,808.9 724.8,808.5 725.0,808.7 725.2,808.7 725.4,808.9 725.6,809.3 725.9,809.5 726.1,809.6 726.3,809.6 726.5,808.2 726.7,809.0 727.0,809.5 727.2,808.7 727.4,809.2 727.6,808.3 727.8,808.5 728.0,808.9 728.3,808.2 728.5,808.9 728.7,808.6 728.9,809.8 729.1,808.9 729.3,808.8 729.6,809.6 729.8,809.1 730.0,808.1 730.2,808.4 730.4,809.0 730.7,808.2 730.9,808.3 731.1,808.9 731.3,808.8 731.5,808.4 731.7,810.1 732.0,809.0 732.2,808.2 732.4,808.5 732.6,808.5 732.8,809.5 733.1,807.9 733.3,808.6 733.5,808.5 733.7,809.3 733.9,809.7 734.1,808.3 734.4,809.9 734.6,809.5 734.8,808.7 735.0,810.1 735.2,809.0 735.4,809.9 735.7,808.6 735.9,809.2 736.1,809.1 736.3,809.7 736.5,809.5 736.8,809.0 737.0,808.2 737.2,808.9 737.4,808.6 737.6,809.7 737.8,809.2 738.1,808.8 738.3,808.5 738.5,809.4 738.7,808.3 738.9,809.6 739.2,809.3 739.4,808.9 739.6,809.4 739.8,808.9 740.0,808.4 740.2,808.9 740.5,808.2 740.7,808.3 740.9,808.8 741.1,809.5 741.3,808.3 741.6,808.8 741.8,809.6 742.0,809.3 742.2,809.5 742.4,808.8 742.6,808.5 742.9,808.4 743.1,808.5 743.3,808.1 743.5,808.0 743.7,807.7 743.9,807.6 744.2,808.2 744.4,809.0 744.6,808.6 744.8,807.9 745.0,809.1 745.3,807.9 745.5,809.4 745.7,809.0 745.9,808.8 746.1,808.6 746.3,809.5 746.6,808.2 746.8,808.1 747.0,809.0 747.2,808.6 747.4,808.8 747.7,809.1 747.9,808.1 748.1,809.7 748.3,809.1 748.5,808.1 748.7,809.4 749.0,808.9 749.2,809.2 749.4,809.4 749.6,809.8 749.8,808.2 750.0,809.6 750.3,808.6 750.5,808.1 750.7,808.5 750.9,808.6 751.1,809.5 751.4,808.8 751.6,808.0 751.8,809.1 752.0,808.7 752.2,809.3 752.4,807.9 752.7,809.3 752.9,809.4 753.1,807.8 753.3,808.6 753.5,807.9 753.8,808.5 754.0,807.9 754.2,809.2 754.4,807.7 754.6,808.6 754.8,808.5 755.1,808.0 755.3,807.8 755.5,808.9 755.7,807.2 755.9,807.6 756.1,807.7 756.4,808.0 756.6,807.5 756.8,807.2 757.0,807.8 757.2,808.1 757.5,808.1 757.7,807.8 757.9,807.4 758.1,806.8 758.3,807.5 758.5,807.7 758.8,807.3 759.0,808.3 759.2,807.0 759.4,808.2 759.6,808.0 759.9,808.4 760.1,808.3 760.3,807.0 760.5,808.4 760.7,807.4 760.9,807.9 761.2,808.3 761.4,807.7 761.6,807.5 761.8,806.7 762.0,807.7 762.3,807.2 762.5,807.4 762.7,807.4 762.9,808.4 763.1,807.6 763.3,807.9 763.6,807.0 763.8,807.3 764.0,808.2 764.2,807.0 764.4,808.3 764.6,807.5 764.9,807.4 765.1,807.5 765.3,807.4 765.5,807.6 765.7,807.5 766.0,807.8 766.2,807.1 766.4,805.4 766.6,807.1 766.8,806.6 767.0,807.3 767.3,807.4 767.5,807.8 767.7,806.4 767.9,806.8 768.1,807.7 768.4,806.9 768.6,807.6 768.8,807.3 769.0,806.1 769.2,806.6 769.4,807.2 769.7,806.7 769.9,807.1 770.1,807.7 770.3,807.2 770.5,807.0 770.7,807.7 771.0,806.8 771.2,806.1 771.4,806.4 771.6,807.2 771.8,807.9 772.1,807.3 772.3,806.8 772.5,808.0 772.7,806.9 772.9,806.5 773.1,807.2 773.4,806.9 773.6,807.8 773.8,807.7 774.0,807.5 774.2,807.9 774.5,806.4 774.7,807.8 774.9,807.7 775.1,806.6 775.3,807.3 775.5,807.6 775.8,807.1 776.0,806.7 776.2,808.2 776.4,806.9 776.6,807.5 776.8,807.5 777.1,808.4 777.3,808.0 777.5,807.9 777.7,808.6 777.9,809.1 778.2,808.7 778.4,807.7 778.6,808.7 778.8,808.9 779.0,808.8 779.2,808.2 779.5,807.8 779.7,808.3 779.9,808.9 780.1,807.9 780.3,807.4 780.6,807.6 780.8,809.0 781.0,807.4 781.2,807.5 781.4,807.5 781.6,809.0 781.9,808.2 782.1,808.8 782.3,808.9 782.5,808.4 782.7,808.9 783.0,808.7 783.2,808.6 783.4,808.3 783.6,807.8 783.8,808.6 784.0,808.2 784.3,808.3 784.5,809.5 784.7,808.5 784.9,808.1 785.1,808.9 785.3,808.8 785.6,808.1 785.8,808.5 786.0,809.0 786.2,808.4 786.4,809.5 786.7,809.2 786.9,808.7 787.1,809.4 787.3,808.0 787.5,808.4 787.7,809.5 788.0,808.8 788.2,808.0 788.4,808.8 788.6,809.1 788.8,809.0 789.1,808.1 789.3,808.1 789.5,808.7 789.7,808.0 789.9,808.1 790.1,809.0 790.4,808.6 790.6,808.1 790.8,809.6 791.0,808.7 791.2,809.6 791.4,809.1 791.7,809.2 791.9,808.8 792.1,809.3 792.3,808.5 792.5,808.4 792.8,809.4 793.0,808.2 793.2,808.5 793.4,809.1 793.6,808.3 793.8,808.6 794.1,809.5 794.3,808.3 794.5,808.3 794.7,809.3 794.9,808.2 795.2,808.3 795.4,809.2 795.6,808.3 795.8,809.7 796.0,809.4 796.2,809.5 796.5,808.5 796.7,808.5 796.9,809.4 797.1,809.6 797.3,808.5 797.6,808.6 797.8,808.6 798.0,808.5 798.2,809.0 798.4,809.1 798.6,809.2 798.9,808.4 799.1,808.6 799.3,808.5 799.5,808.6 799.7,808.4 799.9,809.7 800.2,808.9 800.4,808.4 800.6,809.2 800.8,809.9 801.0,809.6 801.3,809.2 801.5,808.7 801.7,808.8 801.9,808.6 802.1,809.5 802.3,809.5 802.6,809.0 802.8,811.1 803.0,809.2 803.2,809.2 803.4,808.7 803.7,808.6 803.9,808.6 804.1,809.6 804.3,809.5 804.5,809.8 804.7,809.6 805.0,809.5 805.2,809.0 805.4,809.6 805.6,808.5 805.8,809.4 806.0,808.4 806.3,810.0 806.5,809.9 806.7,808.6 806.9,809.8 807.1,809.9 807.4,808.5 807.6,809.3 807.8,809.2 808.0,809.5 808.2,809.9 808.4,809.6 808.7,808.6 808.9,809.2 809.1,809.2 809.3,808.1 809.5,808.3 809.8,808.8 810.0,808.4 810.2,808.6 810.4,809.3 810.6,809.8 810.8,808.9 811.1,809.1 811.3,809.4 811.5,809.3 811.7,809.3 811.9,808.2 812.1,809.7 812.4,808.4 812.6,808.6 812.8,809.1 813.0,809.2 813.2,809.6 813.5,808.7 813.7,809.8 813.9,809.1 814.1,809.5 814.3,808.9 814.5,808.2 814.8,808.0 815.0,809.1 815.2,808.7 815.4,808.6 815.6,808.4 815.9,808.2 816.1,808.6 816.3,808.3 816.5,809.3 816.7,808.1 816.9,809.7 817.2,809.6 817.4,808.9 817.6,809.6 817.8,809.4 818.0,809.1 818.3,809.8 818.5,809.8 818.7,808.8 818.9,810.1 819.1,808.6 819.3,808.7 819.6,809.5 819.8,809.1 820.0,809.3 820.2,809.4 820.4,809.3 820.6,810.1 820.9,810.1 821.1,808.9 821.3,808.7 821.5,809.3 821.7,808.5 822.0,808.9 822.2,809.4 822.4,808.2 822.6,809.5 822.8,809.4 823.0,808.9 823.3,808.5 823.5,809.2 823.7,808.7 823.9,809.6 824.1,809.2 824.4,808.8 824.6,809.7 824.8,809.3 825.0,808.5 825.2,809.1 825.4,809.2 825.7,809.9 825.9,808.8 826.1,809.2 826.3,810.0 826.5,809.1 826.7,809.7 827.0,808.4 827.2,808.9 827.4,808.6 827.6,809.9 827.8,809.3 828.1,808.6 828.3,808.4 828.5,809.0 828.7,808.6 828.9,809.4 829.1,809.8 829.4,809.1 829.6,808.9 829.8,809.2 830.0,808.9 830.2,810.2 830.5,808.9 830.7,810.1 830.9,809.5 831.1,810.1 831.3,810.2 831.5,809.1 831.8,810.1 832.0,810.5 832.2,809.9 832.4,810.0 832.6,809.4 832.9,809.1 833.1,810.0 833.3,810.1 833.5,809.1 833.7,808.9 833.9,809.2 834.2,809.6 834.4,809.1 834.6,810.3 834.8,809.8 835.0,810.1 835.2,809.6 835.5,810.7 835.7,810.1 835.9,808.5 836.1,809.4 836.3,808.7 836.6,809.8 836.8,808.8 837.0,809.7 837.2,809.0 837.4,809.5 837.6,809.6 837.9,810.1 838.1,810.1 838.3,809.3 838.5,809.7 838.7,808.9 839.0,808.8 839.2,809.7 839.4,810.0 839.6,809.8 839.8,809.4 840.0,809.6 840.3,809.9 840.5,809.6 840.7,809.1 840.9,809.9 841.1,809.1 841.3,810.2 841.6,809.8 841.8,809.8 842.0,809.8 842.2,809.9 842.4,809.9 842.7,808.9 842.9,808.6 843.1,809.4 843.3,810.0 843.5,809.4 843.7,808.3 844.0,808.4 844.2,809.2 844.4,809.6 844.6,809.9 844.8,809.1 845.1,809.2 845.3,809.1 845.5,808.6 845.7,808.4 845.9,809.4 846.1,809.4 846.4,810.0 846.6,809.0 846.8,810.1 847.0,809.1 847.2,809.5 847.4,809.8 847.7,808.9 847.9,810.4 848.1,811.4 848.3,810.5 848.5,809.0 848.8,810.2 849.0,810.2 849.2,810.7 849.4,809.4 849.6,809.1 849.8,810.4 850.1,809.5 850.3,809.1 850.5,809.1 850.7,810.2 850.9,809.9 851.2,810.2 851.4,810.3 851.6,808.8 851.8,810.2 852.0,810.1 852.2,810.1 852.5,809.6 852.7,808.9 852.9,808.6 853.1,809.8 853.3,808.8 853.6,808.9 853.8,809.3 854.0,809.3 854.2,809.3 854.4,809.2 854.6,809.0 854.9,809.5 855.1,808.7 855.3,808.6 855.5,809.7 855.7,809.8 855.9,809.5 856.2,808.7 856.4,808.5 856.6,810.0 856.8,810.1 857.0,808.9 857.3,809.7 857.5,808.6 857.7,809.2 857.9,809.7 858.1,809.2 858.3,810.0 858.6,810.1 858.8,808.7 859.0,809.7 859.2,809.0 859.4,808.8 859.7,809.0 859.9,809.3 860.1,809.9 860.3,809.7 860.5,808.4 860.7,808.4 861.0,810.0 861.2,809.3 861.4,809.4 861.6,808.9 861.8,809.7 862.0,809.2 862.3,809.2 862.5,808.6 862.7,809.7 862.9,808.6 863.1,808.4 863.4,809.2 863.6,809.5 863.8,808.4 864.0,808.4 864.2,808.2 864.4,809.0 864.7,809.5 864.9,808.3 865.1,809.0 865.3,809.0 865.5,808.3 865.8,809.2 866.0,809.7 866.2,808.7 866.4,810.0 866.6,808.3 866.8,808.8 867.1,809.4 867.3,808.9 867.5,809.6 867.7,810.0 867.9,809.0 868.2,809.2 868.4,810.0 868.6,810.2 868.8,810.1 869.0,809.1 869.2,809.8 869.5,810.0 869.7,808.9 869.9,810.1 870.1,808.5 870.3,809.5 870.5,808.9 870.8,808.9 871.0,808.7 871.2,810.2 871.4,808.8 871.6,810.2 871.9,808.9 872.1,809.2 872.3,808.9 872.5,810.2 872.7,808.7 872.9,810.2 873.2,809.1 873.4,810.2 873.6,809.9 873.8,809.2 874.0,809.7 874.3,809.3 874.5,809.6 874.7,808.9 874.9,810.2 875.1,809.9 875.3,809.2 875.6,808.8 875.8,810.3 876.0,808.9 876.2,809.4 876.4,808.8 876.6,809.3 876.9,809.2 877.1,809.5 877.3,809.2 877.5,809.0 877.7,809.9 878.0,808.9 878.2,808.9 878.4,809.2 878.6,808.9 878.8,809.6 879.0,808.6 879.3,809.1 879.5,809.3 879.7,809.0 879.9,810.0 880.1,809.1 880.4,809.2 880.6,809.3 880.8,809.9 881.0,808.8 881.2,809.9 881.4,810.1 881.7,808.8 881.9,808.6 882.1,809.6 882.3,808.7 882.5,808.5 882.7,808.3 883.0,809.2 883.2,809.7 883.4,809.7 883.6,809.0 883.8,808.8 884.1,809.8 884.3,809.4 884.5,809.9 884.7,809.4 884.9,809.4 885.1,809.4 885.4,808.3 885.6,808.7 885.8,808.3 886.0,809.9 886.2,810.1 886.5,809.4 886.7,808.6 886.9,808.7 887.1,809.3 887.3,809.1 887.5,808.8 887.8,808.5 888.0,809.4 888.2,809.6 888.4,808.3 888.6,808.6 888.9,808.7 889.1,807.5 889.3,809.3 889.5,808.9 889.7,809.8 889.9,809.1 890.2,808.9 890.4,809.7 890.6,809.7 890.8,809.7 891.0,808.5 891.2,808.8 891.5,809.3 891.7,810.2 891.9,809.6 892.1,809.5 892.3,809.0 892.6,810.4 892.8,808.8 893.0,809.4 893.2,809.5 893.4,809.7 893.6,809.7 893.9,810.0 894.1,808.6 894.3,809.9 894.5,809.2 894.7,808.8 895.0,808.5 895.2,809.6 895.4,809.8 895.6,809.4 895.8,809.1 896.0,809.6 896.3,810.1 896.5,809.3 896.7,809.8 896.9,809.1 897.1,809.8 897.3,809.4 897.6,809.9 897.8,809.9 898.0,810.1 898.2,810.2 898.4,808.9 898.7,808.8 898.9,809.7 899.1,810.1 899.3,808.7 899.5,809.6 899.7,809.1 900.0,810.4 900.2,809.2 900.4,808.7 900.6,809.9 900.8,809.1 901.1,809.4 901.3,808.8 901.5,809.1 901.7,808.8 901.9,809.1 902.1,809.8 902.4,809.1 902.6,809.7 902.8,810.1 903.0,809.5 903.2,808.6 903.4,810.2 903.7,808.8 903.9,809.1 904.1,809.5 904.3,809.7 904.5,809.2 904.8,809.3 905.0,809.5 905.2,809.3 905.4,808.9 905.6,809.0 905.8,808.9 906.1,808.7 906.3,809.3 906.5,809.2 906.7,808.9 906.9,809.6 907.2,809.5 907.4,809.3 907.6,808.7 907.8,809.8 908.0,808.3 908.2,809.5 908.5,808.9 908.7,810.1 908.9,809.8 909.1,809.3 909.3,810.0 909.6,810.1 909.8,808.7 910.0,809.4 910.2,809.9 910.4,808.7 910.6,809.6 910.9,810.2 911.1,809.0 911.3,808.6 911.5,809.1 911.7,809.2 911.9,809.1 912.2,809.4 912.4,810.1 912.6,809.5 912.8,809.5 913.0,808.9 913.3,808.7 913.5,810.1 913.7,809.1 913.9,810.2 914.1,809.0 914.3,809.5 914.6,809.5 914.8,808.6 915.0,808.5 915.2,809.2 915.4,808.6 915.7,808.7 915.9,808.5 916.1,808.6 916.3,808.8 916.5,808.6 916.7,808.8 917.0,808.9 917.2,809.0 917.4,807.9 917.6,809.4 917.8,808.2 918.0,809.2 918.3,807.6 918.5,807.4 918.7,807.2 918.9,808.4 919.1,807.5 919.4,808.3 919.6,807.6 919.8,806.3 920.0,806.6 920.2,806.2 920.4,805.9 920.7,805.7 920.9,803.8 921.1,804.2 921.3,801.9 921.5,799.5 921.8,798.1 922.0,793.9 922.2,791.2 922.4,786.7 922.6,783.0 922.8,779.3 923.1,776.1 923.3,776.0 923.5,776.5 923.7,778.4 923.9,782.5 924.2,785.7 924.4,787.7 924.6,792.5 924.8,792.5 925.0,795.3 925.2,795.2 925.5,795.3 925.7,795.1 925.9,794.4 926.1,792.7 926.3,792.3 926.5,792.1 926.8,790.7 927.0,792.0 927.2,794.2 927.4,795.8 927.6,797.4 927.9,799.8 928.1,801.9 928.3,804.0 928.5,805.5 928.7,806.3 928.9,806.3 929.2,807.7 929.4,807.9 929.6,807.3 929.8,808.8 930.0,807.7 930.3,808.5 930.5,808.8 930.7,809.1 930.9,808.9 931.1,809.5 931.3,807.9 931.6,808.1 931.8,808.5 932.0,809.0 932.2,808.8 932.4,808.1 932.6,808.4 932.9,809.1 933.1,808.8 933.3,809.6 933.5,809.1 933.7,809.9 934.0,809.7 934.2,809.3 934.4,809.0 934.6,808.8 934.8,808.9 935.0,808.9 935.3,808.8 935.5,808.4 935.7,808.8 935.9,808.2 936.1,809.6 936.4,809.0 936.6,808.1 936.8,808.6 937.0,808.5 937.2,808.3 937.4,809.0 937.7,808.4 937.9,808.5 938.1,810.3 938.3,809.0 938.5,809.4 938.7,809.0 939.0,809.1 939.2,808.9 939.4,809.1 939.6,809.2 939.8,808.9 940.1,809.7 940.3,808.8 940.5,808.8 940.7,808.9 940.9,809.7 941.1,809.9 941.4,809.4 941.6,809.1 941.8,809.6 942.0,809.7 942.2,808.6 942.5,809.4 942.7,809.4 942.9,810.2 943.1,808.5 943.3,809.3 943.5,808.6 943.8,808.9 944.0,809.2 944.2,809.9 944.4,808.5 944.6,808.4 944.9,809.2 945.1,809.9 945.3,808.3 945.5,809.2 945.7,808.2 945.9,809.1 946.2,808.3 946.4,809.3 946.6,808.8 946.8,809.4 947.0,808.5 947.2,808.3 947.5,808.4 947.7,808.6 947.9,808.4 948.1,808.6 948.3,809.2 948.6,809.1 948.8,809.7 949.0,809.1 949.2,809.2 949.4,809.6 949.6,809.8 949.9,809.3 950.1,808.4 950.3,809.3 950.5,808.6 950.7,809.6 951.0,808.7 951.2,809.6 951.4,808.9 951.6,810.1 951.8,808.8 952.0,809.7 952.3,809.8 952.5,809.0 952.7,809.6 952.9,809.2 953.1,809.0 953.3,809.0 953.6,808.5 953.8,809.7 954.0,808.6 954.2,808.8 954.4,808.5 954.7,809.9 954.9,809.3 955.1,809.2 955.3,809.5 955.5,809.9 955.7,809.5 956.0,809.3 956.2,809.0 956.4,809.3 956.6,810.1 956.8,809.3 957.1,809.2 957.3,810.0 957.5,808.7 957.7,808.8 957.9,810.0 958.1,810.2 958.4,808.7 958.6,808.6 958.8,808.7 959.0,809.6 959.2,808.8 959.5,809.5 959.7,809.7 959.9,808.7 960.1,810.1 960.3,809.1 960.5,809.6 960.8,809.2 961.0,809.1 961.2,808.9 961.4,808.2 961.6,809.0 961.8,808.8 962.1,808.9 962.3,808.5 962.5,808.8 962.7,809.3 962.9,810.0 963.2,808.7 963.4,810.0 963.6,809.6 963.8,808.7 964.0,808.5 964.2,810.1 964.5,808.9 964.7,808.8 964.9,809.8 965.1,809.9 965.3,810.2 965.6,809.3 965.8,809.0 966.0,809.0 966.2,808.9 966.4,809.6 966.6,810.3 966.9,808.6 967.1,809.2 967.3,809.1 967.5,808.4 967.7,809.2 967.9,810.0 968.2,808.8 968.4,809.6 968.6,809.9 968.8,808.8 969.0,810.0 969.3,809.7 969.5,809.6 969.7,808.6 969.9,808.6 970.1,808.5 970.3,809.9 970.6,809.6 970.8,808.5 971.0,809.3 971.2,808.7 971.4,809.7 971.7,809.5 971.9,810.2 972.1,809.6 972.3,808.6 972.5,809.1 972.7,809.5 973.0,810.2 973.2,809.3 973.4,808.9 973.6,809.2 973.8,809.3 974.0,809.0 974.3,809.3 974.5,809.3 974.7,809.6 974.9,810.3 975.1,810.3 975.4,808.9 975.6,809.5 975.8,809.7 976.0,809.7 976.2,809.4 976.4,808.9 976.7,809.0 976.9,808.8 977.1,809.5 977.3,808.5 977.5,809.0 977.8,809.2 978.0,808.8 978.2,809.8 978.4,808.7 978.6,808.7 978.8,809.3 979.1,808.9 979.3,809.3 979.5,808.6 979.7,808.5 979.9,809.5 980.2,808.9 980.4,809.9 980.6,808.9 980.8,809.1 981.0,810.3 981.2,809.5 981.5,809.1 981.7,809.2 981.9,810.1 982.1,809.1 982.3,809.5 982.5,810.0 982.8,809.6 983.0,809.9 983.2,810.3 983.4,808.9 983.6,809.9 983.9,809.5 984.1,808.8 984.3,808.5 984.5,808.9 984.7,808.3 984.9,809.3 985.2,808.9 985.4,808.0 985.6,809.5 985.8,809.2 986.0,809.0 986.3,808.7 986.5,809.2 986.7,810.1 986.9,809.5 987.1,809.3 987.3,809.6 987.6,809.5 987.8,809.7 988.0,809.0 988.2,808.9 988.4,808.6 988.6,810.2 988.9,808.8 989.1,809.4 989.3,809.7 989.5,809.5 989.7,810.2 990.0,808.9 990.2,808.7 990.4,808.7 990.6,809.1 990.8,808.7 991.0,809.0 991.3,809.5 991.5,808.7 991.7,810.6 991.9,808.1 992.1,809.0 992.4,809.7 992.6,809.8 992.8,809.0 993.0,809.6 993.2,808.6 993.4,808.7 993.7,808.9 993.9,809.1 994.1,809.5 994.3,808.9 994.5,808.2 994.7,809.2 995.0,808.4 995.2,809.6 995.4,808.5 995.6,808.6 995.8,808.4 996.1,808.7 996.3,809.3 996.5,808.7 996.7,808.2 996.9,809.3 997.1,809.3 997.4,808.3 997.6,808.8 997.8,808.1 998.0,808.1 998.2,808.8 998.5,808.8 998.7,809.9 998.9,808.3 999.1,809.4 999.3,809.6 999.5,808.9 999.8,808.9 1000.0,808.3 1000.2,808.3 1000.4,807.9 1000.6,809.4 1000.9,807.9 1001.1,808.2 1001.3,809.0 1001.5,808.6 1001.7,808.6 1001.9,808.3 1002.2,808.1 1002.4,809.1 1002.6,807.8 1002.8,808.2 1003.0,809.0 1003.2,808.2 1003.5,809.5 1003.7,808.3 1003.9,809.0 1004.1,808.9 1004.3,808.9 1004.6,809.3 1004.8,808.2 1005.0,809.1 1005.2,809.6 1005.4,808.3 1005.6,809.3 1005.9,809.1 1006.1,809.0 1006.3,809.2 1006.5,809.4 1006.7,809.4 1007.0,809.7 1007.2,809.4 1007.4,810.0 1007.6,809.4 1007.8,808.8 1008.0,808.5 1008.3,808.5 1008.5,808.9 1008.7,808.4 1008.9,809.3 1009.1,809.4 1009.3,809.4 1009.6,808.9 1009.8,809.0 1010.0,808.7 1010.2,810.0 1010.4,808.5 1010.7,809.0 1010.9,809.5 1011.1,808.5 1011.3,809.7 1011.5,809.0 1011.7,808.9 1012.0,808.4 1012.2,808.7 1012.4,809.4 1012.6,808.9 1012.8,808.4 1013.1,809.2 1013.3,808.7 1013.5,809.6 1013.7,809.3 1013.9,809.4 1014.1,809.6 1014.4,809.2 1014.6,808.4 1014.8,808.8 1015.0,808.3 1015.2,808.3 1015.5,808.2 1015.7,808.0 1015.9,808.1 1016.1,808.1 1016.3,808.7 1016.5,808.0 1016.8,807.7 1017.0,808.2 1017.2,807.8 1017.4,808.6 1017.6,807.7 1017.8,808.3 1018.1,807.7 1018.3,808.3 1018.5,808.9 1018.7,807.7 1018.9,807.9 1019.2,807.7 1019.4,806.9 1019.6,806.9 1019.8,808.2 1020.0,807.3 1020.2,807.7 1020.5,807.0 1020.7,807.6 1020.9,806.3 1021.1,806.6 1021.3,806.6 1021.6,806.9 1021.8,805.2 1022.0,805.5 1022.2,805.7 1022.4,805.6 1022.6,804.5 1022.9,805.0 1023.1,805.1 1023.3,804.9 1023.5,803.5 1023.7,803.5 1023.9,803.0 1024.2,802.5 1024.4,802.4 1024.6,802.9 1024.8,801.1 1025.0,802.3 1025.3,800.0 1025.5,799.8 1025.7,799.8 1025.9,799.2 1026.1,799.8 1026.3,799.6 1026.6,798.7 1026.8,797.5 1027.0,796.7 1027.2,797.1 1027.4,797.3 1027.7,795.6 1027.9,796.4 1028.1,795.2 1028.3,796.3 1028.5,795.9 1028.7,796.3 1029.0,796.0 1029.2,794.3 1029.4,795.4 1029.6,795.3 1029.8,795.7 1030.0,795.4 1030.3,796.4 1030.5,796.5 1030.7,796.2 1030.9,797.6 1031.1,798.5 1031.4,797.3 1031.6,799.4 1031.8,799.1 1032.0,799.0 1032.2,800.7 1032.4,800.3 1032.7,800.6 1032.9,801.0 1033.1,802.5 1033.3,801.8 1033.5,802.3 1033.8,802.8 1034.0,802.8 1034.2,804.3 1034.4,804.1 1034.6,804.6 1034.8,805.4 1035.1,805.1 1035.3,804.8 1035.5,805.3 1035.7,805.6 1035.9,805.1 1036.2,805.2 1036.4,805.7 1036.6,806.5 1036.8,805.6 1037.0,807.2 1037.2,805.9 1037.5,806.1 1037.7,805.9 1037.9,806.6 1038.1,806.5 1038.3,807.2 1038.5,807.6 1038.8,806.5 1039.0,807.6 1039.2,806.9 1039.4,807.1 1039.6,806.7 1039.9,808.1 1040.1,807.4 1040.3,808.1 1040.5,806.9 1040.7,808.0 1040.9,807.0 1041.2,807.5 1041.4,807.9 1041.6,807.2 1041.8,807.7 1042.0,808.2 1042.3,807.0 1042.5,807.6 1042.7,807.1 1042.9,807.0 1043.1,807.4 1043.3,807.3 1043.6,807.3 1043.8,807.7 1044.0,807.2 1044.2,806.0 1044.4,806.0 1044.6,805.7 1044.9,805.5 1045.1,804.6 1045.3,803.7 1045.5,802.2 1045.7,802.8 1046.0,800.5 1046.2,799.8 1046.4,799.8 1046.6,797.1 1046.8,797.5 1047.0,795.5 1047.3,794.9 1047.5,795.0 1047.7,795.4 1047.9,794.0 1048.1,795.0 1048.4,794.7 1048.6,796.0 1048.8,795.9 1049.0,797.8 1049.2,797.2 1049.4,799.1 1049.7,799.1 1049.9,800.2 1050.1,800.2 1050.3,801.6 1050.5,802.4 1050.8,800.8 1051.0,801.6 1051.2,802.6 1051.4,802.6 1051.6,803.1 1051.8,802.6 1052.1,803.4 1052.3,803.2 1052.5,804.0 1052.7,804.8 1052.9,804.6 1053.1,805.4 1053.4,805.3 1053.6,805.4 1053.8,805.6 1054.0,807.1 1054.2,805.9 1054.5,807.8 1054.7,808.0 1054.9,808.3 1055.1,808.3 1055.3,807.1 1055.5,807.4 1055.8,808.0 1056.0,807.6 1056.2,807.4 1056.4,808.9 1056.6,808.9 1056.9,808.7 1057.1,807.8 1057.3,809.0 1057.5,809.0 1057.7,808.1 1057.9,807.9 1058.2,807.8 1058.4,808.5 1058.6,809.3 1058.8,808.1 1059.0,808.8 1059.2,808.7 1059.5,809.8 1059.7,808.4 1059.9,809.5 1060.1,808.9 1060.3,809.4 1060.6,809.7 1060.8,809.8 1061.0,809.9 1061.2,809.0 1061.4,808.9 1061.6,808.7 1061.9,808.7 1062.1,808.6 1062.3,809.7 1062.5,808.4 1062.7,808.7 1063.0,809.8 1063.2,809.5 1063.4,809.8 1063.6,808.9 1063.8,808.2 1064.0,809.6 1064.3,809.9 1064.5,809.5 1064.7,808.1 1064.9,808.1 1065.1,809.1 1065.3,809.3 1065.6,809.0 1065.8,809.0 1066.0,809.2 1066.2,808.3 1066.4,808.1 1066.7,808.5 1066.9,808.9 1067.1,808.5 1067.3,808.3 1067.5,808.7 1067.7,808.7 1068.0,808.4 1068.2,809.7 1068.4,809.7 1068.6,808.2 1068.8,808.9 1069.1,808.5 1069.3,808.6 1069.5,808.1 1069.7,808.2 1069.9,808.3 1070.1,808.5 1070.4,809.4 1070.6,808.4 1070.8,809.8 1071.0,809.6 1071.2,808.8 1071.5,809.5 1071.7,809.9 1071.9,808.4 1072.1,809.2 1072.3,809.0 1072.5,808.7 1072.8,808.7 1073.0,808.3 1073.2,809.5 1073.4,808.7 1073.6,809.2 1073.8,809.9 1074.1,808.9 1074.3,808.9 1074.5,809.8 1074.7,809.3 1074.9,809.2 1075.2,808.6 1075.4,809.5 1075.6,809.2 1075.8,809.6 1076.0,809.1 1076.2,808.6 1076.5,810.0 1076.7,809.7 1076.9,810.2 1077.1,808.8 1077.3,808.8 1077.6,808.6 1077.8,808.9 1078.0,809.0 1078.2,808.6 1078.4,808.8 1078.6,808.8 1078.9,809.7 1079.1,809.1 1079.3,809.5 1079.5,808.1 1079.7,808.2 1079.9,809.8 1080.2,808.4 1080.4,808.5 1080.6,809.1 1080.8,808.5 1081.0,808.4 1081.3,809.1 1081.5,809.3 1081.7,808.5 1081.9,809.1 1082.1,809.1 1082.3,809.9 1082.6,808.6 1082.8,809.0 1083.0,809.6 1083.2,808.6 1083.4,810.0 1083.7,810.3 1083.9,809.1 1084.1,809.7 1084.3,808.7 1084.5,810.0 1084.7,808.7 1085.0,808.5 1085.2,808.6 1085.4,809.2 1085.6,808.5 1085.8,810.0 1086.1,809.3 1086.3,809.3 1086.5,809.4 1086.7,808.9 1086.9,809.7 1087.1,809.5 1087.4,809.1 1087.6,808.9 1087.8,808.6 1088.0,809.0 1088.2,809.2 1088.4,808.7 1088.7,810.4 1088.9,809.2 1089.1,809.7 1089.3,808.8 1089.5,809.7 1089.8,810.0 1090.0,809.1 1090.2,810.5 1090.4,809.0 1090.6,809.2 1090.8,810.0 1091.1,809.3 1091.3,810.0 1091.5,808.8 1091.7,809.0 1091.9,809.8 1092.2,809.9 1092.4,809.9 1092.6,808.8 1092.8,809.0 1093.0,809.1 1093.2,809.5 1093.5,808.6 1093.7,809.6 1093.9,809.3 1094.1,808.3 1094.3,808.5 1094.5,808.6 1094.8,809.7 1095.0,808.8 1095.2,809.1 1095.4,809.8 1095.6,808.8 1095.9,809.7 1096.1,808.6 1096.3,808.1 1096.5,808.4 1096.7,809.5 1096.9,808.8 1097.2,809.5 1097.4,809.0 1097.6,809.4 1097.8,808.9 1098.0,809.4 1098.3,809.6 1098.5,809.1 1098.7,809.1 1098.9,808.5 1099.1,809.9 1099.3,808.8 1099.6,808.6 1099.8,809.9 1100.0,809.3 1100.2,810.1 1100.4,809.7 1100.6,808.9 1100.9,809.8 1101.1,809.3 1101.3,809.6 1101.5,809.8 1101.7,809.2 1102.0,809.8 1102.2,808.9 1102.4,808.8 1102.6,809.4 1102.8,809.0 1103.0,809.4 1103.3,809.1 1103.5,809.3 1103.7,809.5 1103.9,809.1 1104.1,809.7 1104.4,809.6 1104.6,809.7 1104.8,808.0 1105.0,808.0 1105.2,809.1 1105.4,808.5 1105.7,809.5 1105.9,808.7 1106.1,809.3 1106.3,808.5 1106.5,809.2 1106.8,809.6 1107.0,809.7 1107.2,808.9 1107.4,809.1 1107.6,809.2 1107.8,808.8 1108.1,809.0 1108.3,809.8 1108.5,810.0 1108.7,809.2 1108.9,809.9 1109.1,810.5 1109.4,809.6 1109.6,810.5 1109.8,810.4 1110.0,810.5 1110.2,809.0 1110.5,810.4 1110.7,810.5 1110.9,809.2 1111.1,809.7 1111.3,809.0 1111.5,809.8 1111.8,809.9 1112.0,810.0 1112.2,810.3 1112.4,809.0 1112.6,808.8 1112.9,810.0 1113.1,808.6 1113.3,809.0 1113.5,809.0 1113.7,809.9 1113.9,809.4 1114.2,810.0 1114.4,809.9 1114.6,810.1 1114.8,809.9 1115.0,810.2 1115.2,809.0 1115.5,809.2 1115.7,809.6 1115.9,809.6 1116.1,809.8 1116.3,809.9 1116.6,808.8 1116.8,808.3 1117.0,809.3 1117.2,809.3 1117.4,808.4 1117.6,807.9 1117.9,807.9 1118.1,808.2 1118.3,808.3 1118.5,808.3 1118.7,808.2 1119.0,808.5 1119.2,808.7 1119.4,808.4 1119.6,808.6 1119.8,809.0 1120.0,809.7 1120.3,809.7 1120.5,809.1 1120.7,808.7 1120.9,808.9 1121.1,809.6 1121.3,809.2 1121.6,809.6 1121.8,809.8 1122.0,809.8 1122.2,810.2 1122.4,808.6 1122.7,808.9 1122.9,808.5 1123.1,809.2 1123.3,809.3 1123.5,808.7 1123.7,808.4 1124.0,809.0 1124.2,808.3 1124.4,808.2 1124.6,808.3 1124.8,809.4 1125.1,808.1 1125.3,808.7 1125.5,808.0 1125.7,808.1 1125.9,807.6 1126.1,809.2 1126.4,808.9 1126.6,808.4 1126.8,808.2 1127.0,809.3 1127.2,809.2 1127.5,807.9 1127.7,808.1 1127.9,808.5 1128.1,808.0 1128.3,808.5 1128.5,808.3 1128.8,809.4 1129.0,808.1 1129.2,809.8 1129.4,808.5 1129.6,808.6 1129.8,808.0 1130.1,809.5 1130.3,809.1 1130.5,807.7 1130.7,808.4 1130.9,808.2 1131.2,808.7 1131.4,808.1 1131.6,809.3 1131.8,807.9 1132.0,809.0 1132.2,808.0 1132.5,808.6 1132.7,808.1 1132.9,808.3 1133.1,808.0 1133.3,808.0 1133.6,807.2 1133.8,807.1 1134.0,808.5 1134.2,807.3 1134.4,807.3 1134.6,807.0 1134.9,807.6 1135.1,808.0 1135.3,806.8 1135.5,806.8 1135.7,806.5 1135.9,805.9 1136.2,805.8 1136.4,805.6 1136.6,805.8 1136.8,806.8 1137.0,804.9 1137.3,805.1 1137.5,803.8 1137.7,802.8 1137.9,803.5 1138.1,801.1 1138.3,799.6 1138.6,799.0 1138.8,796.0 1139.0,793.7 1139.2,792.3 1139.4,787.6 1139.7,784.8 1139.9,780.0 1140.1,775.9 1140.3,771.9 1140.5,768.9 1140.7,766.7 1141.0,765.3 1141.2,765.0 1141.4,767.3 1141.6,769.2 1141.8,773.0 1142.1,776.0 1142.3,780.6 1142.5,783.4 1142.7,786.0 1142.9,788.2 1143.1,788.6 1143.4,788.8 1143.6,788.6 1143.8,788.8 1144.0,788.6 1144.2,786.6 1144.4,785.1 1144.7,784.7 1144.9,783.8 1145.1,783.4 1145.3,783.8 1145.5,784.1 1145.8,787.0 1146.0,788.6 1146.2,791.7 1146.4,793.3 1146.6,796.7 1146.8,797.0 1147.1,800.1 1147.3,801.5 1147.5,801.1 1147.7,803.7 1147.9,803.9 1148.2,804.5 1148.4,804.5 1148.6,805.0 1148.8,805.6 1149.0,806.1 1149.2,806.5 1149.5,806.7 1149.7,807.0 1149.9,806.5 1150.1,806.5 1150.3,807.4 1150.5,807.8 1150.8,806.7 1151.0,807.1 1151.2,807.0 1151.4,808.4 1151.6,806.7 1151.9,808.2 1152.1,808.0 1152.3,807.3 1152.5,807.9 1152.7,807.5 1152.9,807.9 1153.2,807.7 1153.4,808.7 1153.6,807.6 1153.8,808.3 1154.0,808.0 1154.3,807.8 1154.5,808.9 1154.7,807.7 1154.9,809.1 1155.1,809.3 1155.3,808.9 1155.6,808.3 1155.8,808.6 1156.0,809.2 1156.2,808.2 1156.4,809.1 1156.6,809.0 1156.9,809.1 1157.1,808.5 1157.3,808.8 1157.5,807.9 1157.7,807.8 1158.0,808.0 1158.2,809.0 1158.4,808.2 1158.6,809.1 1158.8,807.8 1159.0,807.8 1159.3,809.2 1159.5,808.5 1159.7,808.2 1159.9,809.1 1160.1,808.1 1160.4,809.3 1160.6,808.0 1160.8,809.1 1161.0,808.3 1161.2,809.2 1161.4,808.2 1161.7,809.2 1161.9,808.0 1162.1,808.2 1162.3,808.5 1162.5,808.4 1162.8,808.4 1163.0,808.5 1163.2,807.7 1163.4,807.1 1163.6,808.5 1163.8,808.1 1164.1,808.2 1164.3,808.1 1164.5,808.9 1164.7,806.8 1164.9,808.7 1165.1,807.4 1165.4,808.3 1165.6,808.8 1165.8,807.4 1166.0,808.6 1166.2,807.8 1166.5,807.5 1166.7,808.2 1166.9,808.7 1167.1,807.9 1167.3,809.3 1167.5,807.6 1167.8,808.0 1168.0,808.1 1168.2,808.2 1168.4,808.0 1168.6,807.5 1168.9,807.9 1169.1,808.0 1169.3,808.6 1169.5,808.1 1169.7,808.7 1169.9,808.0 1170.2,807.9 1170.4,807.6 1170.6,807.7 1170.8,808.9 1171.0,808.2 1171.2,807.8 1171.5,807.5 1171.7,808.6 1171.9,808.2 1172.1,807.0 1172.3,808.6 1172.6,807.5 1172.8,808.5 1173.0,807.3 1173.2,808.3 1173.4,807.8 1173.6,808.3 1173.9,807.7 1174.1,807.8 1174.3,808.2 1174.5,808.5 1174.7,807.3 1175.0,806.9 1175.2,806.7 1175.4,807.7 1175.6,808.2 1175.8,806.6 1176.0,807.0 1176.3,806.7 1176.5,808.2 1176.7,806.7 1176.9,806.4 1177.1,807.6 1177.4,808.0 1177.6,807.3 1177.8,806.2 1178.0,806.6 1178.2,807.0 1178.4,807.7 1178.7,807.6 1178.9,806.3 1179.1,807.2 1179.3,807.4 1179.5,807.0 1179.7,807.3 1180.0,807.9 1180.2,807.9 1180.4,807.7 1180.6,807.1 1180.8,806.7 1181.1,806.5 1181.3,806.4 1181.5,807.2 1181.7,807.4 1181.9,807.4 1182.1,807.5 1182.4,806.3 1182.6,806.1 1182.8,806.0 1183.0,806.7 1183.2,807.4 1183.5,806.9 1183.7,806.2 1183.9,805.5 1184.1,806.6 1184.3,806.6 1184.5,806.4 1184.8,805.2 1185.0,805.4 1185.2,805.6 1185.4,805.8 1185.6,804.7 1185.8,805.0 1186.1,804.3 1186.3,803.9 1186.5,804.3 1186.7,805.1 1186.9,804.8 1187.2,804.5 1187.4,804.1 1187.6,803.9 1187.8,804.7 1188.0,804.0 1188.2,803.1 1188.5,804.0 1188.7,804.5 1188.9,802.7 1189.1,804.3 1189.3,802.7 1189.6,803.0 1189.8,803.9 1190.0,803.7 1190.2,802.4 1190.4,803.2 1190.6,802.8 1190.9,802.3 1191.1,803.1 1191.3,802.2 1191.5,801.5 1191.7,801.7 1191.9,801.9 1192.2,801.5 1192.4,801.1 1192.6,801.3 1192.8,799.9 1193.0,799.9 1193.3,799.7 1193.5,800.1 1193.7,799.5 1193.9,799.6 1194.1,799.6 1194.3,797.9 1194.6,798.0 1194.8,797.5 1195.0,797.5 1195.2,797.7 1195.4,796.1 1195.7,794.8 1195.9,794.1 1196.1,793.5 1196.3,792.6 1196.5,790.8 1196.7,790.4 1197.0,788.4 1197.2,786.2 1197.4,783.7 1197.6,779.8 1197.8,776.7 1198.1,770.4 1198.3,765.3 1198.5,758.9 1198.7,752.1 1198.9,744.1 1199.1,734.8 1199.4,727.2 1199.6,719.8 1199.8,711.5 1200.0,706.2 1200.2,703.0 1200.4,702.8 1200.7,705.5 1200.9,712.2 1201.1,718.5 1201.3,724.4 1201.5,732.0 1201.8,738.9 1202.0,745.9 1202.2,750.5 1202.4,754.2 1202.6,756.8 1202.8,758.2 1203.1,756.6 1203.3,756.9 1203.5,754.4 1203.7,753.6 1203.9,750.0 1204.2,748.8 1204.4,746.8 1204.6,747.2 1204.8,748.4 1205.0,749.2 1205.2,754.0 1205.5,757.7 1205.7,763.2 1205.9,767.6 1206.1,771.2 1206.3,776.0 1206.5,779.8 1206.8,782.5 1207.0,785.6 1207.2,787.4 1207.4,789.6 1207.6,791.6 1207.9,792.5 1208.1,795.0 1208.3,794.6 1208.5,795.8 1208.7,796.8 1208.9,797.5 1209.2,798.5 1209.4,798.3 1209.6,799.2 1209.8,798.5 1210.0,799.7 1210.3,799.1 1210.5,800.9 1210.7,800.5 1210.9,800.0 1211.1,801.6 1211.3,801.1 1211.6,801.3 1211.8,800.6 1212.0,802.5 1212.2,801.8 1212.4,802.5 1212.6,801.6 1212.9,802.9 1213.1,802.7 1213.3,803.0 1213.5,803.7 1213.7,804.1 1214.0,804.1 1214.2,803.1 1214.4,804.2 1214.6,803.1 1214.8,803.0 1215.0,803.5 1215.3,803.6 1215.5,804.7 1215.7,804.7 1215.9,804.4 1216.1,805.2 1216.4,805.7 1216.6,805.3 1216.8,805.4 1217.0,805.7 1217.2,804.8 1217.4,806.1 1217.7,804.7 1217.9,804.6 1218.1,806.4 1218.3,805.2 1218.5,805.7 1218.8,806.1 1219.0,805.3 1219.2,805.8 1219.4,805.9 1219.6,805.4 1219.8,806.2 1220.1,806.1 1220.3,805.7 1220.5,806.9 1220.7,806.4 1220.9,805.5 1221.1,807.1 1221.4,806.3 1221.6,805.7 1221.8,806.0 1222.0,805.9 1222.2,805.6 1222.5,806.0 1222.7,805.7 1222.9,805.9 1223.1,806.8 1223.3,805.9 1223.5,805.7 1223.8,806.0 1224.0,806.3 1224.2,806.0 1224.4,806.8 1224.6,807.2 1224.9,807.1 1225.1,806.5 1225.3,807.0 1225.5,806.8 1225.7,806.7 1225.9,807.1 1226.2,806.2 1226.4,807.0 1226.6,806.5 1226.8,806.8 1227.0,806.8 1227.2,805.7 1227.5,807.2 1227.7,805.6 1227.9,806.5 1228.1,807.0 1228.3,807.3 1228.6,805.9 1228.8,807.2 1229.0,806.6 1229.2,805.9 1229.4,806.5 1229.6,807.0 1229.9,805.8 1230.1,807.2 1230.3,806.0 1230.5,806.4 1230.7,806.6 1231.0,806.2 1231.2,807.7 1231.4,807.6 1231.6,807.5 1231.8,806.1 1232.0,807.1 1232.3,806.2 1232.5,806.1 1232.7,806.8 1232.9,805.7 1233.1,805.8 1233.4,807.4 1233.6,806.3 1233.8,806.9 1234.0,806.4 1234.2,805.8 1234.4,806.6 1234.7,806.0 1234.9,805.8 1235.1,805.8 1235.3,806.4 1235.5,806.2 1235.7,806.2 1236.0,807.5 1236.2,807.3 1236.4,806.9 1236.6,806.1 1236.8,806.8 1237.1,806.8 1237.3,806.5 1237.5,806.1 1237.7,806.1 1237.9,806.3 1238.1,806.1 1238.4,807.1 1238.6,806.0 1238.8,806.5 1239.0,806.6 1239.2,806.4 1239.5,805.7 1239.7,805.8 1239.9,806.8 1240.1,805.2 1240.3,805.4 1240.5,806.1 1240.8,806.6 1241.0,806.5 1241.2,806.4 1241.4,806.2 1241.6,805.7 1241.8,805.2 1242.1,806.0 1242.3,804.8 1242.5,806.1 1242.7,804.9 1242.9,804.7 1243.2,806.1 1243.4,804.6 1243.6,805.1 1243.8,804.1 1244.0,805.3 1244.2,803.7 1244.5,804.7 1244.7,804.9 1244.9,803.3 1245.1,802.7 1245.3,802.6 1245.6,802.5 1245.8,803.7 1246.0,803.1 1246.2,803.6 1246.4,803.0 1246.6,802.5 1246.9,801.6 1247.1,801.4 1247.3,802.6 1247.5,802.4 1247.7,801.3 1247.9,801.7 1248.2,801.3 1248.4,800.1 1248.6,798.4 1248.8,800.1 1249.0,800.3 1249.3,799.9 1249.5,798.3 1249.7,797.1 1249.9,797.1 1250.1,795.5 1250.3,795.8 1250.6,793.9 1250.8,793.3 1251.0,790.8 1251.2,789.9 1251.4,786.8 1251.7,783.7 1251.9,780.0 1252.1,775.7 1252.3,769.3 1252.5,763.3 1252.7,756.6 1253.0,750.6 1253.2,742.8 1253.4,734.8 1253.6,726.9 1253.8,719.8 1254.1,717.0 1254.3,714.6 1254.5,714.7 1254.7,718.8 1254.9,723.1 1255.1,729.7 1255.4,737.4 1255.6,743.8 1255.8,748.6 1256.0,755.1 1256.2,759.9 1256.4,763.1 1256.7,764.8 1256.9,767.1 1257.1,766.2 1257.3,766.0 1257.5,764.7 1257.8,762.8 1258.0,760.0 1258.2,758.5 1258.4,756.1 1258.6,753.9 1258.8,753.9 1259.1,756.1 1259.3,758.3 1259.5,760.5 1259.7,765.6 1259.9,770.1 1260.2,773.7 1260.4,777.0 1260.6,781.3 1260.8,786.1 1261.0,788.4 1261.2,790.1 1261.5,793.3 1261.7,794.8 1261.9,795.5 1262.1,796.6 1262.3,797.4 1262.5,798.8 1262.8,799.6 1263.0,799.8 1263.2,801.5 1263.4,802.0 1263.6,801.7 1263.9,802.9 1264.1,802.8 1264.3,803.5 1264.5,803.3 1264.7,803.2 1264.9,803.5 1265.2,804.1 1265.4,804.0 1265.6,804.2 1265.8,803.5 1266.0,803.1 1266.3,804.0 1266.5,805.1 1266.7,805.2 1266.9,804.6 1267.1,804.5 1267.3,804.0 1267.6,805.8 1267.8,805.4 1268.0,806.0 1268.2,805.6 1268.4,805.5 1268.7,806.1 1268.9,806.3 1269.1,806.5 1269.3,805.7 1269.5,805.8 1269.7,806.8 1270.0,804.9 1270.2,806.5 1270.4,806.3 1270.6,807.1 1270.8,805.7 1271.0,805.7 1271.3,805.9 1271.5,806.6 1271.7,806.6 1271.9,807.6 1272.1,807.7 1272.4,806.3 1272.6,807.8 1272.8,807.4 1273.0,807.9 1273.2,807.0 1273.4,807.9 1273.7,806.7 1273.9,807.4 1274.1,807.3 1274.3,807.3 1274.5,807.4 1274.8,808.0 1275.0,808.0 1275.2,808.0 1275.4,808.5 1275.6,808.7 1275.8,809.1 1276.1,808.7 1276.3,807.9 1276.5,808.5 1276.7,808.2 1276.9,808.0 1277.1,808.2 1277.4,808.0 1277.6,808.7 1277.8,807.8 1278.0,808.7 1278.2,808.4 1278.5,807.7 1278.7,808.0 1278.9,809.1 1279.1,808.3 1279.3,807.5 1279.5,808.4 1279.8,808.5 1280.0,807.5 1280.2,808.0 1280.4,807.6 1280.6,808.2 1280.9,808.6 1281.1,807.6 1281.3,807.5 1281.5,807.4 1281.7,808.3 1281.9,807.3 1282.2,808.1 1282.4,808.6 1282.6,808.7 1282.8,808.5 1283.0,807.4 1283.2,808.2 1283.5,807.9 1283.7,808.3 1283.9,807.7 1284.1,807.7 1284.3,809.2 1284.6,809.2 1284.8,807.8 1285.0,809.0 1285.2,807.8 1285.4,808.2 1285.6,809.5 1285.9,809.4 1286.1,808.5 1286.3,809.0 1286.5,808.4 1286.7,809.3 1287.0,808.5 1287.2,808.4 1287.4,808.1 1287.6,809.0 1287.8,808.7 1288.0,809.5 1288.3,807.9 1288.5,809.1 1288.7,809.5 1288.9,809.2 1289.1,807.9 1289.4,808.0 1289.6,807.9 1289.8,808.4 1290.0,809.1 1290.2,808.0 1290.4,808.5 1290.7,807.8 1290.9,808.8 1291.1,807.7 1291.3,808.9 1291.5,808.6 1291.7,807.9 1292.0,808.8 1292.2,808.5 1292.4,808.9 1292.6,808.9 1292.8,808.4 1293.1,808.8 1293.3,809.4 1293.5,809.7 1293.7,809.5 1293.9,809.1 1294.1,809.6 1294.4,808.4 1294.6,809.9 1294.8,808.2 1295.0,810.0 1295.2,809.7 1295.5,809.1 1295.7,809.9 1295.9,810.0 1296.1,808.5 1296.3,809.1 1296.5,808.1 1296.8,809.1 1297.0,808.1 1297.2,809.3 1297.4,808.0 1297.6,808.8 1297.8,809.5 1298.1,808.5 1298.3,809.6 1298.5,808.8 1298.7,808.2 1298.9,809.6 1299.2,808.2 1299.4,808.9 1299.6,809.6 1299.8,809.6 1300.0,809.0 1300.2,808.4 1300.5,808.8 1300.7,808.4 1300.9,808.4 1301.1,808.5 1301.3,808.3 1301.6,807.9 1301.8,809.2 1302.0,807.9 1302.2,808.9 1302.4,808.5 1302.6,808.8 1302.9,808.7 1303.1,808.8 1303.3,809.3 1303.5,808.9 1303.7,809.5 1304.0,808.8 1304.2,809.3 1304.4,809.4 1304.6,809.0 1304.8,808.5 1305.0,808.7 1305.3,807.9 1305.5,809.2 1305.7,809.1 1305.9,809.4 1306.1,808.3 1306.3,808.3 1306.6,809.4 1306.8,809.5 1307.0,808.2 1307.2,808.2 1307.4,808.8 1307.7,809.0 1307.9,808.5 1308.1,808.6 1308.3,808.8 1308.5,808.5 1308.7,808.8 1309.0,808.6 1309.2,809.2 1309.4,809.8 1309.6,809.8 1309.8,809.7 1310.1,809.4 1310.3,809.0 1310.5,808.7 1310.7,808.8 1310.9,810.3 1311.1,810.0 1311.4,809.6 1311.6,809.7 1311.8,809.9 1312.0,810.0 1312.2,809.0 1312.4,809.9 1312.7,809.7 1312.9,809.0 1313.1,809.0 1313.3,808.8 1313.5,809.4 1313.8,810.0 1314.0,809.6 1314.2,808.5 1314.4,808.4 1314.6,808.8 1314.8,807.1 1315.1,808.5 1315.3,809.4 1315.5,808.7 1315.7,809.0 1315.9,808.7 1316.2,809.9 1316.4,809.2 1316.6,808.4 1316.8,809.6 1317.0,808.7 1317.2,809.1 1317.5,808.7 1317.7,809.2 1317.9,808.9 1318.1,809.0 1318.3,808.7 1318.5,810.0 1318.8,808.6 1319.0,808.6 1319.2,810.0 1319.4,808.4 1319.6,808.7 1319.9,808.9 1320.1,809.2 1320.3,809.1 1320.5,808.9 1320.7,809.3 1320.9,809.4 1321.2,808.6 1321.4,808.7 1321.6,809.4 1321.8,809.1 1322.0,809.8 1322.3,808.4 1322.5,809.3 1322.7,808.9 1322.9,808.9 1323.1,810.1 1323.3,809.1 1323.6,809.8 1323.8,810.0 1324.0,810.2 1324.2,808.7 1324.4,808.8 1324.7,808.6 1324.9,809.1 1325.1,810.0 1325.3,809.5 1325.5,808.7 1325.7,808.4 1326.0,809.6 1326.2,809.3 1326.4,808.3 1326.6,809.5 1326.8,808.7 1327.0,808.8 1327.3,808.3 1327.5,810.0 1327.7,809.1 1327.9,809.3 1328.1,808.6 1328.4,808.8 1328.6,809.4 1328.8,809.6 1329.0,809.9 1329.2,808.7 1329.4,808.8 1329.7,809.1 1329.9,809.1 1330.1,810.0 1330.3,809.2 1330.5,809.1 1330.8,809.3 1331.0,809.4 1331.2,809.1 1331.4,808.5 1331.6,809.7 1331.8,808.7 1332.1,810.0 1332.3,808.9 1332.5,808.9 1332.7,809.3 1332.9,809.9 1333.1,809.0 1333.4,809.0 1333.6,808.8 1333.8,808.1 1334.0,808.4 1334.2,809.5 1334.5,809.7 1334.7,808.5 1334.9,809.7 1335.1,808.1 1335.3,809.4 1335.5,808.2 1335.8,808.8 1336.0,808.7 1336.2,808.8 1336.4,809.7 1336.6,808.7 1336.9,808.3 1337.1,808.6 1337.3,809.8 1337.5,808.9 1337.7,808.8 1337.9,809.2 1338.2,810.7 1338.4,809.8 1338.6,809.3 1338.8,810.3 1339.0,809.8 1339.2,810.1 1339.5,810.9 1339.7,810.3 1339.9,810.2 1340.1,811.1 1340.3,810.2 1340.6,810.1 1340.8,810.6 1341.0,810.7 1341.2,810.4 1341.4,809.7 1341.6,809.6 1341.9,808.8 1342.1,809.0 1342.3,809.7 1342.5,809.3 1342.7,810.0 1343.0,809.6 1343.2,809.3 1343.4,809.7 1343.6,809.3 1343.8,809.7 1344.0,809.4 1344.3,809.0 1344.5,809.8 1344.7,808.5 1344.9,810.2 1345.1,810.2 1345.4,809.9 1345.6,809.2 1345.8,809.2 1346.0,809.2 1346.2,809.3 1346.4,808.9 1346.7,809.9 1346.9,810.2 1347.1,809.5 1347.3,810.1 1347.5,808.9 1347.7,809.8 1348.0,809.9 1348.2,809.4 1348.4,809.9 1348.6,809.5 1348.8,809.3 1349.1,808.9 1349.3,808.3 1349.5,808.5 1349.7,809.8 1349.9,808.6 1350.1,809.5 1350.4,808.6 1350.6,809.5 1350.8,809.8 1351.0,809.3 1351.2,808.3 1351.5,809.6 1351.7,809.2 1351.9,809.9 1352.1,808.6 1352.3,808.9 1352.5,810.0 1352.8,809.9 1353.0,809.9 1353.2,809.2 1353.4,809.3 1353.6,809.9 1353.8,809.3 1354.1,808.3 1354.3,808.3 1354.5,808.2 1354.7,808.3 1354.9,808.1 1355.2,808.6 1355.4,809.1 1355.6,809.4 1355.8,808.6 1356.0,808.1 1356.2,809.4 1356.5,809.4 1356.7,809.6 1356.9,808.0 1357.1,809.1 1357.3,809.3 1357.6,809.0 1357.8,808.5 1358.0,809.7 1358.2,809.0 1358.4,808.0 1358.6,808.7 1358.9,809.4 1359.1,808.5 1359.3,809.5 1359.5,808.6 1359.7,809.0 1360.0,808.8 1360.2,808.7 1360.4,810.0 1360.6,808.9 1360.8,809.5 1361.0,809.7 1361.3,808.5 1361.5,807.9 1361.7,808.9 1361.9,808.5 1362.1,809.7 1362.3,808.5 1362.6,809.5 1362.8,808.3 1363.0,808.6 1363.2,808.4 1363.4,809.5 1363.7,809.1 1363.9,809.2 1364.1,808.0 1364.3,808.4 1364.5,809.5 1364.7,809.0 1365.0,809.3 1365.2,809.0 1365.4,808.6 1365.6,809.6 1365.8,808.3 1366.1,807.9 1366.3,808.8 1366.5,807.8 1366.7,808.8 1366.9,808.8 1367.1,808.2 1367.4,808.4 1367.6,808.2 1367.8,807.2 1368.0,806.8 1368.2,807.2 1368.4,806.1 1368.7,806.2 1368.9,806.0 1369.1,806.0 1369.3,805.2 1369.5,804.2 1369.8,804.5 1370.0,803.9 1370.2,802.6 1370.4,801.8 1370.6,800.2 1370.8,800.2 1371.1,798.3 1371.3,797.0 1371.5,797.0 1371.7,796.0 1371.9,795.7 1372.2,795.3 1372.4,795.9 1372.6,795.8 1372.8,796.2 1373.0,796.3 1373.2,797.3 1373.5,799.3 1373.7,799.1 1373.9,800.4 1374.1,800.1 1374.3,801.4 1374.5,801.8 1374.8,802.4 1375.0,803.3 1375.2,802.5 1375.4,802.3 1375.6,801.8 1375.9,801.7 1376.1,801.9 1376.3,802.6 1376.5,801.6 1376.7,801.9 1376.9,801.9 1377.2,800.4 1377.4,800.9 1377.6,801.6 1377.8,801.1 1378.0,801.9 1378.3,803.2 1378.5,803.8 1378.7,803.4 1378.9,803.9 1379.1,805.5 1379.3,805.5 1379.6,805.6 1379.8,806.7 1380.0,807.1 1380.2,808.1 1380.4,806.8 1380.7,808.1 1380.9,807.8 1381.1,807.7 1381.3,808.4 1381.5,807.7 1381.7,808.0 1382.0,808.1 1382.2,809.4 1382.4,809.5 1382.6,808.7 1382.8,808.7 1383.0,809.7 1383.3,808.9 1383.5,809.0 1383.7,810.2 1383.9,809.5 1384.1,809.4 1384.4,809.6 1384.6,808.6 1384.8,809.3 1385.0,810.0 1385.2,809.7 1385.4,810.0 1385.7,809.1 1385.9,808.5 1386.1,809.0 1386.3,808.9 1386.5,808.6 1386.8,808.8 1387.0,808.7 1387.2,809.4 1387.4,809.2 1387.6,809.8 1387.8,809.9 1388.1,809.5 1388.3,809.9 1388.5,809.4 1388.7,809.1 1388.9,809.4 1389.1,809.6 1389.4,810.3 1389.6,809.9 1389.8,808.4 1390.0,809.3 1390.2,808.4 1390.5,809.4 1390.7,809.9 1390.9,809.6 1391.1,808.3 1391.3,808.8 1391.5,808.4 1391.8,809.1 1392.0,809.1 1392.2,809.1 1392.4,808.3 1392.6,808.8 1392.9,808.0 1393.1,809.2 1393.3,809.2 1393.5,807.8 1393.7,808.8 1393.9,809.2 1394.2,808.3 1394.4,807.9 1394.6,807.8 1394.8,809.3 1395.0,808.2 1395.3,808.7 1395.5,809.5 1395.7,808.3 1395.9,809.6 1396.1,809.2 1396.3,809.3 1396.6,809.3 1396.8,809.1 1397.0,810.2 1397.2,809.8 1397.4,809.3 1397.6,808.7 1397.9,809.3 1398.1,810.3 1398.3,810.0 1398.5,808.7 1398.7,809.0 1399.0,809.1 1399.2,809.2 1399.4,808.6 1399.6,808.6 1399.8,809.2 1400.0,809.5 1400.3,809.5 1400.5,809.5 1400.7,809.7 1400.9,808.4 1401.1,808.8 1401.4,808.9 1401.6,808.8 1401.8,809.2 1402.0,809.1 1402.2,809.1 1402.4,808.5 1402.7,810.2 1402.9,810.3 1403.1,809.8 1403.3,809.2 1403.5,809.6 1403.7,810.3 1404.0,809.7 1404.2,810.0 1404.4,810.0 1404.6,810.5 1404.8,810.0 1405.1,809.0 1405.3,809.9 1405.5,810.6 1405.7,809.2 1405.9,809.0 1406.1,809.1 1406.4,809.0 1406.6,809.2 1406.8,810.2 1407.0,809.8 1407.2,810.0 1407.5,809.5 1407.7,809.3 1407.9,810.1 1408.1,808.9 1408.3,809.3 1408.5,809.3 1408.8,809.8 1409.0,810.1 1409.2,809.7 1409.4,809.6 1409.6,809.0 1409.8,809.5 1410.1,809.7 1410.3,809.2 1410.5,809.6 1410.7,809.3 1410.9,809.4 1411.2,809.5 1411.4,808.9 1411.6,809.0 1411.8,808.9"/>
<polyline stroke="#ff0000" stroke-width="4.5" points="105.5,959.6 105.7,960.1 105.9,960.3 106.2,959.4 106.4,959.5 106.6,960.8 106.8,959.4 107.0,959.7 107.2,961.0 107.5,960.5 107.7,960.1 107.9,960.2 108.1,960.5 108.3,959.9 108.6,959.7 108.8,960.8 109.0,960.7 109.2,960.5 109.4,960.9 109.6,960.5 109.9,961.2 110.1,959.9 110.3,960.5 110.5,960.3 110.7,960.1 110.9,960.4 111.2,959.8 111.4,960.6 111.6,960.7 111.8,959.5 112.0,960.0 112.3,959.7 112.5,959.3 112.7,960.6 112.9,959.8 113.1,959.4 113.3,960.3 113.6,959.6 113.8,960.7 114.0,959.7 114.2,959.4 114.4,959.7 114.7,959.8 114.9,960.0 115.1,960.7 115.3,960.5 115.5,959.9 115.7,959.4 116.0,959.6 116.2,960.9 116.4,960.1 116.6,960.5 116.8,959.4 117.0,959.4 117.3,960.7 117.5,960.2 117.7,959.8 117.9,959.7 118.1,959.4 118.4,959.5 118.6,959.3 118.8,960.7 119.0,960.0 119.2,959.4 119.4,960.4 119.7,959.5 119.9,959.3 120.1,960.2 120.3,960.6 120.5,959.1 120.8,960.4 121.0,959.4 121.2,959.3 121.4,959.2 121.6,959.5 121.8,960.3 122.1,959.8 122.3,960.4 122.5,959.5 122.7,959.6 122.9,959.5 123.1,960.7 123.4,960.6 123.6,959.7 123.8,960.0 124.0,959.8 124.2,960.6 124.5,959.4 124.7,959.4 124.9,960.0 125.1,959.7 125.3,960.8 125.5,960.7 125.8,960.4 126.0,960.5 126.2,960.5 126.4,960.7 126.6,960.9 126.9,959.6 127.1,960.4 127.3,959.7 127.5,960.1 127.7,960.5 127.9,960.7 128.2,960.6 128.4,959.4 128.6,959.8 128.8,959.5 129.0,960.9 129.3,959.5 129.5,959.6 129.7,959.7 129.9,959.3 130.1,960.6 130.3,960.2 130.6,959.5 130.8,960.2 131.0,959.5 131.2,960.3 131.4,959.7 131.6,959.4 131.9,959.4 132.1,960.2 132.3,960.4 132.5,959.9 132.7,960.4 133.0,959.9 133.2,959.5 133.4,959.8 133.6,960.0 133.8,960.8 134.0,959.5 134.3,959.5 134.5,960.1 134.7,960.8 134.9,960.6 135.1,960.3 135.4,959.3 135.6,960.5 135.8,960.3 136.0,959.4 136.2,959.9 136.4,959.3 136.7,960.5 136.9,960.3 137.1,960.5 137.3,960.5 137.5,959.8 137.7,960.7 138.0,959.8 138.2,959.8 138.4,960.2 138.6,960.4 138.8,960.1 139.1,960.5 139.3,960.6 139.5,960.0 139.7,960.7 139.9,960.1 140.1,960.8 140.4,960.0 140.6,960.8 140.8,960.2 141.0,960.4 141.2,960.5 141.5,960.2 141.7,959.7 141.9,960.9 142.1,959.4 142.3,959.6 142.5,960.0 142.8,959.2 143.0,959.5 143.2,960.4 143.4,960.4 143.6,960.0 143.9,960.5 144.1,960.4 144.3,959.7 144.5,960.3 144.7,959.9 144.9,960.5 145.2,960.0 145.4,959.7 145.6,960.9 145.8,960.5 146.0,960.6 146.2,960.3 146.5,960.7 146.7,960.1 146.9,960.3 147.1,959.5 147.3,960.4 147.6,959.3 147.8,960.6 148.0,960.8 148.2,960.2 148.4,960.9 148.6,959.5 148.9,960.8 149.1,959.9 149.3,959.5 149.5,960.3 149.7,960.0 150.0,960.1 150.2,960.8 150.4,959.6 150.6,960.4 150.8,959.9 151.0,960.1 151.3,959.9 151.5,959.3 151.7,959.9 151.9,960.4 152.1,959.3 152.3,959.0 152.6,959.2 152.8,959.8 153.0,960.7 153.2,959.2 153.4,960.7 153.7,959.9 153.9,959.2 154.1,959.6 154.3,959.3 154.5,960.1 154.7,959.8 155.0,959.5 155.2,959.6 155.4,960.5 155.6,960.3 155.8,959.8 156.1,959.8 156.3,960.3 156.5,960.6 156.7,959.2 156.9,959.2 157.1,959.5 157.4,959.8 157.6,959.1 157.8,959.2 158.0,959.4 158.2,959.7 158.4,960.3 158.7,960.1 158.9,959.1 159.1,959.1 159.3,959.8 159.5,960.4 159.8,960.4 160.0,959.3 160.2,960.2 160.4,960.3 160.6,959.4 160.8,960.0 161.1,959.4 161.3,959.0 161.5,959.7 161.7,958.9 161.9,959.8 162.2,960.1 162.4,960.3 162.6,959.5 162.8,959.1 163.0,960.5 163.2,960.4 163.5,960.8 163.7,960.2 163.9,960.5 164.1,959.9 164.3,959.6 164.6,959.8 164.8,960.5 165.0,959.8 165.2,960.5 165.4,960.3 165.6,960.3 165.9,961.1 166.1,959.8 166.3,960.2 166.5,959.7 166.7,960.8 166.9,960.1 167.2,959.7 167.4,959.4 167.6,960.1 167.8,959.8 168.0,959.4 168.3,959.2 168.5,959.8 168.7,960.1 168.9,960.1 169.1,960.6 169.3,960.6 169.6,960.6 169.8,960.4 170.0,959.8 170.2,959.9 170.4,959.7 170.7,959.8 170.9,959.2 171.1,960.5 171.3,959.6 171.5,959.3 171.7,960.1 172.0,960.5 172.2,960.0 172.4,959.9 172.6,960.3 172.8,959.6 173.0,959.3 173.3,960.3 173.5,960.1 173.7,960.7 173.9,960.0 174.1,960.7 174.4,959.4 174.6,959.3 174.8,960.1 175.0,959.4 175.2,959.2 175.4,959.3 175.7,959.6 175.9,959.7 176.1,960.2 176.3,960.6 176.5,959.8 176.8,959.4 177.0,960.1 177.2,959.1 177.4,959.7 177.6,959.4 177.8,959.6 178.1,959.0 178.3,959.9 178.5,959.9 178.7,960.2 178.9,960.5 179.2,959.5 179.4,960.0 179.6,959.7 179.8,959.2 180.0,960.2 180.2,960.0 180.5,960.3 180.7,960.2 180.9,960.4 181.1,959.1 181.3,959.1 181.5,959.5 181.8,959.8 182.0,960.2 182.2,959.8 182.4,960.0 182.6,960.5 182.9,959.3 183.1,960.2 183.3,959.2 183.5,959.5 183.7,960.3 183.9,960.3 184.2,959.8 184.4,959.5 184.6,960.2 184.8,959.3 185.0,959.0 185.3,959.3 185.5,958.9 185.7,960.1 185.9,959.0 186.1,960.4 186.3,959.2 186.6,959.3 186.8,959.8 187.0,959.4 187.2,959.5 187.4,957.7 187.6,959.5 187.9,958.9 188.1,959.2 188.3,960.4 188.5,959.5 188.7,958.6 189.0,960.2 189.2,960.4 189.4,959.5 189.6,959.7 189.8,960.3 190.0,960.4 190.3,960.0 190.5,959.3 190.7,959.3 190.9,960.1 191.1,960.1 191.4,960.4 191.6,960.3 191.8,959.8 192.0,959.4 192.2,960.5 192.4,960.3 192.7,959.9 192.9,960.1 193.1,959.6 193.3,959.5 193.5,959.9 193.7,959.8 194.0,960.1 194.2,960.5 194.4,960.3 194.6,959.6 194.8,959.6 195.1,960.4 195.3,959.5 195.5,960.0 195.7,958.9 195.9,959.3 196.1,959.5 196.4,959.9 196.6,960.1 196.8,958.9 197.0,959.6 197.2,959.5 197.5,958.6 197.7,959.7 197.9,959.3 198.1,960.0 198.3,958.8 198.5,959.5 198.8,959.1 199.0,959.7 199.2,959.6 199.4,959.5 199.6,959.1 199.9,959.4 200.1,959.2 200.3,961.3 200.5,959.5 200.7,959.4 200.9,959.1 201.2,959.1 201.4,960.4 201.6,959.3 201.8,960.2 202.0,959.8 202.2,960.4 202.5,958.9 202.7,960.3 202.9,960.0 203.1,959.7 203.3,959.8 203.6,959.9 203.8,959.4 204.0,959.7 204.2,959.1 204.4,958.8 204.6,959.8 204.9,959.4 205.1,960.1 205.3,959.0 205.5,959.8 205.7,960.2 206.0,960.0 206.2,960.0 206.4,958.8 206.6,958.8 206.8,959.0 207.0,959.2 207.3,958.7 207.5,957.7 207.7,958.7 207.9,960.1 208.1,959.2 208.3,959.6 208.6,959.4 208.8,960.0 209.0,960.0 209.2,959.4 209.4,959.7 209.7,958.9 209.9,959.2 210.1,959.2 210.3,959.4 210.5,959.4 210.7,959.8 211.0,959.4 211.2,959.5 211.4,960.4 211.6,959.0 211.8,959.0 212.1,959.1 212.3,960.2 212.5,959.8 212.7,960.0 212.9,960.3 213.1,959.2 213.4,960.3 213.6,959.3 213.8,959.7 214.0,959.8 214.2,959.9 214.5,958.9 214.7,959.3 214.9,958.7 215.1,959.0 215.3,960.0 215.5,959.8 215.8,959.3 216.0,959.7 216.2,960.0 216.4,959.1 216.6,960.2 216.8,959.5 217.1,959.0 217.3,959.6 217.5,959.7 217.7,959.8 217.9,959.7 218.2,958.8 218.4,959.8 218.6,960.2 218.8,959.8 219.0,960.3 219.2,959.6 219.5,960.1 219.7,959.2 219.9,960.5 220.1,959.8 220.3,960.4 220.6,959.5 220.8,959.9 221.0,960.2 221.2,959.9 221.4,959.7 221.6,960.3 221.9,959.0 222.1,959.1 222.3,959.8 222.5,960.4 222.7,960.0 222.9,959.4 223.2,958.9 223.4,959.5 223.6,959.4 223.8,959.3 224.0,959.5 224.3,958.9 224.5,959.8 224.7,958.9 224.9,958.7 225.1,959.1 225.3,960.0 225.6,958.8 225.8,958.9 226.0,960.0 226.2,959.0 226.4,959.9 226.7,958.5 226.9,959.8 227.1,958.9 227.3,958.8 227.5,959.8 227.7,960.2 228.0,960.2 228.2,959.8 228.4,960.2 228.6,960.3 228.8,959.7 229.0,959.0 229.3,960.2 229.5,959.3 229.7,959.1 229.9,959.4 230.1,958.7 230.4,958.7 230.6,959.1 230.8,959.6 231.0,959.8 231.2,960.2 231.4,959.9 231.7,960.1 231.9,959.5 232.1,959.6 232.3,959.3 232.5,958.5 232.8,958.4 233.0,959.6 233.2,958.8 233.4,959.9 233.6,959.4 233.8,958.7 234.1,959.5 234.3,959.2 234.5,958.5 234.7,958.9 234.9,958.9 235.2,959.0 235.4,959.4 235.6,958.6 235.8,959.1 236.0,959.4 236.2,960.0 236.5,958.6 236.7,958.6 236.9,958.7 237.1,958.6 237.3,958.5 237.5,958.4 237.8,958.5 238.0,958.5 238.2,959.1 238.4,959.3 238.6,958.9 238.9,958.4 239.1,958.3 239.3,958.6 239.5,958.5 239.7,959.0 239.9,959.7 240.2,959.3 240.4,958.6 240.6,958.3 240.8,958.3 241.0,958.9 241.3,958.8 241.5,959.3 241.7,958.3 241.9,958.6 242.1,959.4 242.3,959.2 242.6,959.0 242.8,959.7 243.0,958.4 243.2,958.4 243.4,959.1 243.6,958.9 243.9,959.6 244.1,959.7 244.3,959.0 244.5,959.2 244.7,959.2 245.0,958.2 245.2,959.1 245.4,958.7 245.6,958.8 245.8,958.3 246.0,958.1 246.3,958.1 246.5,959.4 246.7,959.3 246.9,958.5 247.1,958.8 247.4,958.4 247.6,959.2 247.8,959.5 248.0,959.4 248.2,959.6 248.4,958.5 248.7,959.1 248.9,958.1 249.1,958.7 249.3,957.9 249.5,958.5 249.7,958.5 250.0,958.1 250.2,958.1 250.4,958.6 250.6,958.4 250.8,958.3 251.1,957.9 251.3,958.2 251.5,959.2 251.7,959.3 251.9,958.3 252.1,959.1 252.4,959.3 252.6,958.3 252.8,958.5 253.0,959.1 253.2,958.5 253.5,959.6 253.7,958.7 253.9,959.3 254.1,959.2 254.3,958.5 254.5,959.5 254.8,958.7 255.0,958.4 255.2,958.3 255.4,958.9 255.6,959.3 255.9,958.8 256.1,959.6 256.3,958.6 256.5,959.6 256.7,958.4 256.9,958.8 257.2,958.6 257.4,959.1 257.6,959.0 257.8,959.1 258.0,959.9 258.2,959.4 258.5,959.4 258.7,958.9 258.9,959.5 259.1,959.0 259.3,959.4 259.6,959.6 259.8,958.9 260.0,958.6 260.2,958.3 260.4,959.3 260.6,958.9 260.9,959.1 261.1,958.2 261.3,958.5 261.5,959.2 261.7,958.3 262.0,959.0 262.2,958.6 262.4,958.1 262.6,958.5 262.8,958.0 263.0,959.0 263.3,959.0 263.5,957.9 263.7,958.4 263.9,959.2 264.1,958.3 264.3,958.9 264.6,959.4 264.8,958.9 265.0,958.1 265.2,959.3 265.4,959.0 265.7,958.6 265.9,958.3 266.1,958.7 266.3,958.5 266.5,958.0 266.7,958.0 267.0,957.8 267.2,958.0 267.4,958.2 267.6,958.8 267.8,958.7 268.1,958.6 268.3,958.9 268.5,957.8 268.7,958.3 268.9,956.6 269.1,958.5 269.4,958.1 269.6,958.0 269.8,958.2 270.0,958.7 270.2,959.2 270.5,958.5 270.7,959.3 270.9,958.4 271.1,958.5 271.3,958.9 271.5,958.3 271.8,958.8 272.0,959.1 272.2,959.4 272.4,958.0 272.6,959.1 272.8,958.6 273.1,958.6 273.3,957.6 273.5,959.0 273.7,958.0 273.9,958.3 274.2,958.2 274.4,958.7 274.6,958.2 274.8,958.9 275.0,957.8 275.2,958.3 275.5,958.2 275.7,958.1 275.9,958.3 276.1,958.1 276.3,957.9 276.6,958.5 276.8,957.5 277.0,958.2 277.2,958.3 277.4,957.8 277.6,958.4 277.9,958.5 278.1,957.7 278.3,957.9 278.5,957.5 278.7,958.3 278.9,957.4 279.2,957.6 279.4,957.9 279.6,957.7 279.8,957.1 280.0,958.7 280.3,957.5 280.5,958.2 280.7,957.6 280.9,958.1 281.1,957.8 281.3,957.7 281.6,957.8 281.8,958.0 282.0,958.2 282.2,958.3 282.4,957.7 282.7,957.2 282.9,957.6 283.1,957.8 283.3,958.3 283.5,958.1 283.7,957.8 284.0,957.5 284.2,958.2 284.4,957.3 284.6,957.9 284.8,958.3 285.0,958.2 285.3,957.4 285.5,957.8 285.7,958.9 285.9,957.4 286.1,958.3 286.4,958.0 286.6,958.4 286.8,957.9 287.0,957.5 287.2,958.2 287.4,957.3 287.7,958.8 287.9,958.6 288.1,958.0 288.3,958.3 288.5,958.3 288.8,958.9 289.0,957.3 289.2,957.8 289.4,958.1 289.6,958.7 289.8,958.6 290.1,958.1 290.3,957.5 290.5,958.5 290.7,958.1 290.9,957.6 291.2,958.5 291.4,958.2 291.6,957.9 291.8,957.9 292.0,958.2 292.2,957.9 292.5,958.1 292.7,959.0 292.9,958.1 293.1,957.7 293.3,958.0 293.5,958.6 293.8,958.4 294.0,958.2 294.2,958.4 294.4,958.3 294.6,958.3 294.9,957.7 295.1,957.2 295.3,958.1 295.5,957.9 295.7,958.4 295.9,957.4 296.2,958.2 296.4,957.2 296.6,958.4 296.8,958.6 297.0,956.9 297.3,957.4 297.5,958.6 297.7,958.5 297.9,958.1 298.1,957.4 298.3,957.2 298.6,957.5 298.8,958.8 299.0,958.5 299.2,957.9 299.4,958.5 299.6,958.6 299.9,957.6 300.1,958.6 300.3,957.7 300.5,957.8 300.7,957.3 301.0,957.5 301.2,958.2 301.4,957.4 301.6,958.3 301.8,957.6 302.0,958.5 302.3,957.4 302.5,957.6 302.7,957.6 302.9,958.2 303.1,958.5 303.4,958.4 303.6,958.5 303.8,958.5 304.0,958.4 304.2,957.9 304.4,957.6 304.7,958.7 304.9,958.0 305.1,958.3 305.3,957.3 305.5,957.8 305.8,957.4 306.0,957.6 306.2,959.1 306.4,957.6 306.6,959.8 306.8,957.2 307.1,957.6 307.3,957.8 307.5,957.9 307.7,957.3 307.9,957.9 308.1,958.3 308.4,958.3 308.6,957.0 308.8,957.7 309.0,957.6 309.2,958.1 309.5,957.2 309.7,958.3 309.9,958.0 310.1,958.8 310.3,957.3 310.5,958.0 310.8,958.0 311.0,958.6 311.2,958.5 311.4,957.6 311.6,957.9 311.9,958.7 312.1,958.1 312.3,957.7 312.5,958.8 312.7,958.7 312.9,957.8 313.2,958.0 313.4,958.7 313.6,957.4 313.8,958.5 314.0,958.4 314.2,958.1 314.5,958.0 314.7,958.1 314.9,957.8 315.1,957.8 315.3,957.1 315.6,957.8 315.8,957.8 316.0,957.4 316.2,957.8 316.4,957.5 316.6,957.9 316.9,957.9 317.1,956.9 317.3,958.1 317.5,957.4 317.7,956.9 318.0,956.9 318.2,957.3 318.4,957.7 318.6,957.4 318.8,957.3 319.0,958.2 319.3,957.5 319.5,958.1 319.7,957.2 319.9,958.0 320.1,957.3 320.3,958.2 320.6,957.9 320.8,957.9 321.0,957.0 321.2,958.0 321.4,957.4 321.7,958.0 321.9,958.4 322.1,957.1 322.3,956.9 322.5,958.1 322.7,958.5 323.0,958.3 323.2,957.5 323.4,958.3 323.6,955.7 323.8,957.2 324.1,958.0 324.3,957.9 324.5,958.4 324.7,957.4 324.9,957.7 325.1,958.5 325.4,957.4 325.6,957.7 325.8,957.9 326.0,958.5 326.2,957.0 326.5,957.8 326.7,957.3 326.9,957.3 327.1,957.1 327.3,957.5 327.5,957.6 327.8,957.2 328.0,957.5 328.2,957.6 328.4,958.0 328.6,957.6 328.8,957.2 329.1,958.2 329.3,956.8 329.5,956.6 329.7,958.0 329.9,956.9 330.2,956.8 330.4,957.2 330.6,957.1 330.8,957.2 331.0,958.0 331.2,957.1 331.5,956.8 331.7,956.9 331.9,958.1 332.1,957.2 332.3,957.1 332.6,957.7 332.8,958.1 333.0,957.2 333.2,957.7 333.4,956.8 333.6,957.0 333.9,957.4 334.1,956.8 334.3,956.9 334.5,956.6 334.7,956.9 334.9,957.8 335.2,957.5 335.4,956.5 335.6,957.1 335.8,957.8 336.0,958.1 336.3,957.4 336.5,957.8 336.7,957.0 336.9,958.0 337.1,958.0 337.3,957.3 337.6,957.2 337.8,956.9 338.0,957.8 338.2,957.7 338.4,956.8 338.7,957.7 338.9,958.5 339.1,957.0 339.3,957.1 339.5,956.8 339.7,957.4 340.0,957.2 340.2,958.1 340.4,956.8 340.6,957.0 340.8,958.1 341.0,956.4 341.3,956.9 341.5,956.9 341.7,956.4 341.9,957.1 342.1,957.8 342.4,957.8 342.6,957.7 342.8,957.7 343.0,957.6 343.2,956.6 343.4,957.8 343.7,957.7 343.9,957.2 344.1,957.4 344.3,957.0 344.5,958.2 344.8,957.3 345.0,957.2 345.2,958.2 345.4,958.2 345.6,958.3 345.8,957.8 346.1,957.3 346.3,957.4 346.5,957.6 346.7,957.5 346.9,958.1 347.2,956.9 347.4,957.7 347.6,956.4 347.8,956.5 348.0,957.7 348.2,956.5 348.5,956.8 348.7,957.6 348.9,957.2 349.1,956.9 349.3,957.2 349.5,957.8 349.8,957.7 350.0,956.4 350.2,956.3 350.4,956.5 350.6,956.3 350.9,957.4 351.1,957.5 351.3,956.3 351.5,956.2 351.7,956.8 351.9,957.5 352.2,957.8 352.4,957.2 352.6,957.6 352.8,957.9 353.0,957.8 353.3,956.4 353.5,955.8 353.7,957.5 353.9,957.7 354.1,956.7 354.3,956.5 354.6,957.0 354.8,956.8 355.0,956.8 355.2,957.5 355.4,957.3 355.6,957.2 355.9,957.0 356.1,956.1 356.3,955.9 356.5,956.4 356.7,957.1 357.0,956.9 357.2,957.0 357.4,956.8 357.6,957.0 357.8,957.2 358.0,956.7 358.3,956.6 358.5,956.8 358.7,956.3 358.9,956.4 359.1,955.0 359.4,954.8 359.6,956.4 359.8,955.2 360.0,955.5 360.2,955.1 360.4,955.8 360.7,954.7 360.9,955.9 361.1,955.0 361.3,955.6 361.5,955.7 361.8,955.2 362.0,954.6 362.2,954.7 362.4,955.1 362.6,954.7 362.8,953.5 363.1,953.3 363.3,954.4 363.5,953.5 363.7,952.2 363.9,952.8 364.1,952.5 364.4,951.7 364.6,952.1 364.8,950.8 365.0,949.9 365.2,949.9 365.5,949.4 365.7,949.8 365.9,949.0 366.1,947.7 366.3,947.7 366.5,946.6 366.8,946.8 367.0,946.3 367.2,944.6 367.4,944.6 367.6,943.1 367.9,942.1 368.1,941.6 368.3,941.0 368.5,938.5 368.7,937.7 368.9,935.2 369.2,932.6 369.4,930.9 369.6,927.0 369.8,924.3 370.0,920.5 370.2,915.0 370.5,910.9 370.7,906.1 370.9,901.9 371.1,896.1 371.3,892.8 371.6,888.9 371.8,887.0 372.0,884.8 372.2,883.9 372.4,885.6 372.6,887.1 372.9,888.5 373.1,891.3 373.3,894.4 373.5,896.9 373.7,902.3 374.0,905.0 374.2,909.8 374.4,914.3 374.6,918.8 374.8,920.8 375.0,924.2 375.3,928.7 375.5,930.8 375.7,932.8 375.9,935.9 376.1,937.0 376.3,940.0 376.6,941.0 376.8,942.1 377.0,942.4 377.2,944.0 377.4,945.4 377.7,945.6 377.9,946.2 378.1,945.8 378.3,947.4 378.5,948.2 378.7,948.1 379.0,947.8 379.2,949.1 379.4,949.0 379.6,949.2 379.8,951.1 380.1,951.3 380.3,951.2 380.5,951.6 380.7,952.0 380.9,952.1 381.1,951.7 381.4,952.3 381.6,953.3 381.8,953.4 382.0,953.0 382.2,952.8 382.5,953.7 382.7,953.7 382.9,955.1 383.1,954.0 383.3,954.5 383.5,954.8 383.8,954.3 384.0,954.9 384.2,955.2 384.4,954.4 384.6,956.0 384.8,955.4 385.1,954.6 385.3,956.1 385.5,954.8 385.7,955.8 385.9,955.6 386.2,955.3 386.4,955.3 386.6,955.7 386.8,955.4 387.0,956.8 387.2,955.7 387.5,955.9 387.7,956.5 387.9,955.4 388.1,955.3 388.3,956.8 388.6,955.4 388.8,956.4 389.0,956.5 389.2,957.3 389.4,955.9 389.6,957.0 389.9,955.6 390.1,955.9 390.3,956.9 390.5,956.1 390.7,957.0 390.9,956.8 391.2,955.8 391.4,956.9 391.6,956.4 391.8,957.4 392.0,955.6 392.3,955.8 392.5,956.9 392.7,956.3 392.9,956.3 393.1,957.2 393.3,956.4 393.6,955.9 393.8,956.2 394.0,956.9 394.2,957.3 394.4,957.2 394.7,956.6 394.9,956.4 395.1,956.3 395.3,956.4 395.5,956.4 395.7,957.6 396.0,956.7 396.2,956.2 396.4,957.2 396.6,956.9 396.8,956.2 397.1,957.9 397.3,957.8 397.5,956.6 397.7,957.5 397.9,956.8 398.1,957.3 398.4,957.2 398.6,957.3 398.8,956.8 399.0,956.2 399.2,957.3 399.4,956.6 399.7,956.7 399.9,957.3 400.1,956.8 400.3,957.4 400.5,956.2 400.8,956.6 401.0,955.6 401.2,955.6 401.4,955.9 401.6,955.9 401.8,956.1 402.1,955.6 402.3,956.9 402.5,955.9 402.7,954.9 402.9,956.5 403.2,956.2 403.4,956.2 403.6,956.4 403.8,956.0 404.0,955.3 404.2,956.6 404.5,955.1 404.7,956.4 404.9,955.6 405.1,955.6 405.3,955.6 405.5,955.1 405.8,955.9 406.0,955.8 406.2,955.9 406.4,954.6 406.6,955.0 406.9,954.4 407.1,955.5 407.3,954.3 407.5,954.7 407.7,954.1 407.9,955.2 408.2,954.8 408.4,953.5 408.6,954.4 408.8,952.9 409.0,953.5 409.3,952.7 409.5,952.7 409.7,952.7 409.9,952.0 410.1,951.5 410.3,951.6 410.6,951.5 410.8,951.7 411.0,950.0 411.2,949.1 411.4,948.5 411.6,948.2 411.9,947.4 412.1,946.7 412.3,947.0 412.5,945.4 412.7,945.3 413.0,943.9 413.2,942.5 413.4,941.7 413.6,940.6 413.8,939.2 414.0,937.1 414.3,936.8 414.5,936.0 414.7,932.1 414.9,930.9 415.1,929.9 415.4,927.7 415.6,925.6 415.8,924.8 416.0,921.0 416.2,919.4 416.4,915.5 416.7,911.3 416.9,906.8 417.1,902.3 417.3,897.3 417.5,891.2 417.8,881.4 418.0,872.0 418.2,861.2 418.4,849.0 418.6,835.2 418.8,821.6 419.1,805.9 419.3,791.0 419.5,775.0 419.7,761.2 419.9,749.6 420.1,742.0 420.4,736.9 420.6,735.3 420.8,738.9 421.0,742.5 421.2,748.2 421.5,754.8 421.7,765.2 421.9,773.4 422.1,783.0 422.3,795.3 422.5,807.6 422.8,820.8 423.0,831.8 423.2,845.8 423.4,855.9 423.6,868.3 423.9,877.0 424.1,885.3 424.3,893.0 424.5,898.8 424.7,904.1 424.9,909.8 425.2,912.5 425.4,917.4 425.6,920.9 425.8,924.1 426.0,927.2 426.2,928.0 426.5,930.9 426.7,932.7 426.9,934.5 427.1,935.8 427.3,938.3 427.6,938.4 427.8,938.8 428.0,941.5 428.2,942.1 428.4,943.1 428.6,943.4 428.9,944.5 429.1,946.2 429.3,947.4 429.5,948.0 429.7,948.5 430.0,949.2 430.2,948.7 430.4,949.4 430.6,949.8 430.8,950.8 431.0,951.0 431.3,951.7 431.5,951.8 431.7,953.0 431.9,953.4 432.1,952.0 432.4,953.5 432.6,953.2 432.8,952.6 433.0,953.7 433.2,954.5 433.4,954.6 433.7,953.5 433.9,953.8 434.1,955.4 434.3,955.9 434.5,954.3 434.7,954.5 435.0,955.6 435.2,955.8 435.4,956.4 435.6,954.9 435.8,955.8 436.1,956.5 436.3,955.7 436.5,955.8 436.7,955.4 436.9,956.8 437.1,956.1 437.4,954.8 437.6,956.5 437.8,956.9 438.0,956.8 438.2,955.9 438.5,956.4 438.7,956.2 438.9,957.2 439.1,957.0 439.3,956.8 439.5,957.1 439.8,956.6 440.0,956.6 440.2,956.1 440.4,956.9 440.6,956.1 440.8,956.9 441.1,956.0 441.3,956.7 441.5,957.3 441.7,957.2 441.9,957.2 442.2,956.8 442.4,957.5 442.6,957.5 442.8,957.3 443.0,956.9 443.2,956.6 443.5,957.4 443.7,956.4 443.9,957.8 444.1,956.9 444.3,957.0 444.6,957.4 444.8,956.5 445.0,957.9 445.2,958.2 445.4,957.7 445.6,957.5 445.9,958.1 446.1,957.0 446.3,957.2 446.5,956.8 446.7,957.4 446.9,958.4 447.2,957.7 447.4,957.7 447.6,957.8 447.8,958.1 448.0,958.0 448.3,957.6 448.5,957.8 448.7,957.2 448.9,956.7 449.1,958.1 449.3,957.5 449.6,957.5 449.8,958.4 450.0,957.4 450.2,957.6 450.4,958.6 450.7,957.3 450.9,957.5 451.1,958.6 451.3,957.8 451.5,958.6 451.7,958.5 452.0,957.0 452.2,957.3 452.4,959.1 452.6,957.9 452.8,957.8 453.1,959.1 453.3,957.4 453.5,958.7 453.7,957.9 453.9,958.1 454.1,957.0 454.4,958.1 454.6,958.5 454.8,957.8 455.0,957.0 455.2,956.9 455.4,956.5 455.7,956.9 455.9,957.3 456.1,955.8 456.3,956.0 456.5,955.7 456.8,955.6 457.0,955.6 457.2,955.4 457.4,954.9 457.6,955.8 457.8,955.0 458.1,954.2 458.3,955.3 458.5,954.4 458.7,953.4 458.9,954.6 459.2,953.4 459.4,952.9 459.6,952.5 459.8,951.9 460.0,951.9 460.2,951.8 460.5,951.6 460.7,952.4 460.9,951.7 461.1,950.4 461.3,950.2 461.5,950.0 461.8,949.0 462.0,948.8 462.2,948.6 462.4,948.6 462.6,947.5 462.9,947.0 463.1,946.6 463.3,945.1 463.5,944.9 463.7,943.8 463.9,942.3 464.2,941.5 464.4,941.9 464.6,939.0 464.8,938.6 465.0,935.7 465.3,933.2 465.5,932.2 465.7,928.7 465.9,925.1 466.1,922.4 466.3,918.9 466.6,914.0 466.8,911.1 467.0,907.4 467.2,902.6 467.4,900.8 467.6,899.1 467.9,898.2 468.1,896.5 468.3,897.2 468.5,897.3 468.7,898.0 469.0,899.9 469.2,901.4 469.4,903.8 469.6,905.1 469.8,908.3 470.0,910.8 470.3,915.3 470.5,917.2 470.7,920.4 470.9,924.5 471.1,926.1 471.4,928.8 471.6,931.6 471.8,933.2 472.0,936.6 472.2,937.5 472.4,939.5 472.7,941.1 472.9,941.6 473.1,944.3 473.3,944.0 473.5,945.2 473.8,946.6 474.0,946.7 474.2,947.7 474.4,947.6 474.6,949.1 474.8,949.2 475.1,949.9 475.3,949.5 475.5,950.2 475.7,951.4 475.9,952.4 476.1,952.8 476.4,953.2 476.6,953.1 476.8,953.5 477.0,953.9 477.2,954.3 477.5,955.0 477.7,954.0 477.9,954.8 478.1,955.4 478.3,954.9 478.5,954.8 478.8,956.2 479.0,955.1 479.2,956.5 479.4,956.5 479.6,955.6 479.9,956.6 480.1,956.2 480.3,956.2 480.5,957.6 480.7,957.6 480.9,957.7 481.2,957.1 481.4,958.2 481.6,957.6 481.8,958.3 482.0,958.1 482.2,957.0 482.5,958.3 482.7,958.4 482.9,958.5 483.1,958.3 483.3,957.3 483.6,958.9 483.8,958.1 484.0,957.7 484.2,957.9 484.4,957.9 484.6,959.1 484.9,957.6 485.1,959.1 485.3,957.4 485.5,958.6 485.7,957.8 486.0,958.5 486.2,957.9 486.4,959.3 486.6,958.1 486.8,958.5 487.0,958.8 487.3,958.5 487.5,958.2 487.7,958.4 487.9,959.3 488.1,957.9 488.4,957.8 488.6,959.3 488.8,959.3 489.0,958.9 489.2,958.7 489.4,959.4 489.7,958.4 489.9,957.7 490.1,958.2 490.3,958.6 490.5,958.8 490.7,959.5 491.0,958.1 491.2,959.4 491.4,958.9 491.6,959.4 491.8,958.9 492.1,958.6 492.3,958.7 492.5,958.4 492.7,958.7 492.9,959.1 493.1,959.6 493.4,958.8 493.6,959.4 493.8,959.5 494.0,960.0 494.2,959.8 494.5,959.7 494.7,959.6 494.9,959.1 495.1,959.7 495.3,959.8 495.5,959.3 495.8,958.4 496.0,959.0 496.2,958.7 496.4,958.8 496.6,959.1 496.8,959.9 497.1,958.9 497.3,958.8 497.5,958.6 497.7,958.4 497.9,959.1 498.2,958.8 498.4,959.6 498.6,959.1 498.8,959.7 499.0,959.5 499.2,958.9 499.5,958.0 499.7,958.3 499.9,958.1 500.1,959.1 500.3,958.0 500.6,958.8 500.8,958.3 501.0,958.7 501.2,959.3 501.4,958.5 501.6,958.3 501.9,958.4 502.1,959.6 502.3,958.8 502.5,958.5 502.7,958.3 502.9,958.1 503.2,958.6 503.4,959.0 503.6,958.8 503.8,959.4 504.0,959.8 504.3,959.2 504.5,958.7 504.7,959.6 504.9,958.5 505.1,959.7 505.3,959.7 505.6,959.5 505.8,958.5 506.0,959.3 506.2,959.8 506.4,959.0 506.7,959.9 506.9,958.6 507.1,959.3 507.3,959.3 507.5,959.7 507.7,959.1 508.0,958.7 508.2,959.5 508.4,958.7 508.6,959.2 508.8,959.3 509.1,959.8 509.3,959.2 509.5,959.6 509.7,959.7 509.9,959.6 510.1,960.1 510.4,959.4 510.6,959.4 510.8,958.6 511.0,959.1 511.2,959.2 511.4,959.2 511.7,959.7 511.9,959.3 512.1,960.0 512.3,960.4 512.5,959.0 512.8,959.3 513.0,959.7 513.2,959.1 513.4,959.2 513.6,959.9 513.8,959.6 514.1,960.3 514.3,959.7 514.5,960.0 514.7,959.4 514.9,959.3 515.2,960.0 515.4,959.6 515.6,960.1 515.8,958.9 516.0,958.6 516.2,959.5 516.5,958.6 516.7,958.4 516.9,959.0 517.1,959.5 517.3,958.9 517.5,959.5 517.8,959.2 518.0,958.9 518.2,959.3 518.4,959.5 518.6,958.6 518.9,959.4 519.1,958.8 519.3,960.2 519.5,959.4 519.7,958.8 519.9,958.5 520.2,958.9 520.4,959.2 520.6,959.6 520.8,959.7 521.0,959.8 521.3,959.4 521.5,959.7 521.7,959.5 521.9,959.1 522.1,959.1 522.3,959.4 522.6,959.9 522.8,958.8 523.0,959.7 523.2,958.8 523.4,959.2 523.7,960.0 523.9,960.2 524.1,960.2 524.3,960.1 524.5,959.5 524.7,960.7 525.0,959.9 525.2,960.5 525.4,960.5 525.6,959.3 525.8,960.5 526.0,958.9 526.3,959.8 526.5,959.2 526.7,959.1 526.9,959.9 527.1,959.3 527.4,960.1 527.6,959.6 527.8,959.4 528.0,958.9 528.2,960.0 528.4,959.9 528.7,960.1 528.9,959.6 529.1,960.4 529.3,958.9 529.5,960.4 529.8,960.3 530.0,959.2 530.2,960.7 530.4,959.2 530.6,960.2 530.8,959.4 531.1,960.1 531.3,960.4 531.5,959.2 531.7,959.4 531.9,960.3 532.1,959.6 532.4,959.0 532.6,959.0 532.8,959.1 533.0,959.1 533.2,959.4 533.5,960.1 533.7,959.7 533.9,959.2 534.1,959.6 534.3,959.8 534.5,959.7 534.8,960.1 535.0,960.2 535.2,960.3 535.4,959.9 535.6,959.2 535.9,960.4 536.1,960.4 536.3,960.3 536.5,959.8 536.7,960.6 536.9,959.4 537.2,960.6 537.4,960.3 537.6,960.3 537.8,959.1 538.0,960.5 538.2,959.0 538.5,959.3 538.7,959.7 538.9,959.8 539.1,959.1 539.3,959.4 539.6,960.4 539.8,959.4 540.0,959.6 540.2,959.1 540.4,959.9 540.6,959.9 540.9,960.0 541.1,959.1 541.3,959.3 541.5,959.9 541.7,960.6 542.0,960.2 542.2,959.3 542.4,959.0 542.6,959.5 542.8,959.9 543.0,959.5 543.3,960.3 543.5,959.5 543.7,959.3 543.9,960.1 544.1,960.3 544.4,959.4 544.6,959.7 544.8,959.5 545.0,959.3 545.2,960.4 545.4,959.4 545.7,958.7 545.9,960.3 546.1,960.1 546.3,959.2 546.5,959.2 546.7,960.0 547.0,960.1 547.2,959.3 547.4,959.3 547.6,959.2 547.8,959.9 548.1,960.7 548.3,959.8 548.5,959.8 548.7,960.8 548.9,959.5 549.1,959.9 549.4,960.8 549.6,960.4 549.8,959.6 550.0,960.2 550.2,959.6 550.5,960.4 550.7,959.3 550.9,959.6 551.1,959.4 551.3,959.4 551.5,960.4 551.8,960.1 552.0,960.5 552.2,960.9 552.4,959.6 552.6,960.6 552.8,961.1 553.1,960.1 553.3,959.7 553.5,960.4 553.7,960.6 553.9,960.8 554.2,960.5 554.4,960.1 554.6,959.8 554.8,960.1 555.0,960.2 555.2,959.6 555.5,959.8 555.7,960.7 555.9,959.9 556.1,959.4 556.3,960.3 556.6,959.6 556.8,959.8 557.0,959.7 557.2,959.2 557.4,960.2 557.6,959.9 557.9,960.4 558.1,958.8 558.3,959.8 558.5,959.5 558.7,959.4 558.9,959.9 559.2,959.2 559.4,959.5 559.6,959.1 559.8,959.9 560.0,959.7 560.3,959.1 560.5,959.4 560.7,959.5 560.9,959.7 561.1,959.0 561.3,959.9 561.6,960.3 561.8,959.6 562.0,959.2 562.2,959.4 562.4,960.4 562.7,960.0 562.9,959.2 563.1,959.3 563.3,960.4 563.5,960.0 563.7,960.0 564.0,959.2 564.2,960.5 564.4,959.4 564.6,959.6 564.8,959.2 565.1,960.3 565.3,959.9 565.5,959.7 565.7,959.4 565.9,960.0 566.1,959.6 566.4,959.6 566.6,959.0 566.8,960.2 567.0,959.0 567.2,960.4 567.4,960.4 567.7,959.8 567.9,959.0 568.1,959.1 568.3,959.0 568.5,960.0 568.8,959.6 569.0,960.7 569.2,959.6 569.4,959.6 569.6,960.1 569.8,960.4 570.1,959.8 570.3,959.2 570.5,959.4 570.7,960.3 570.9,960.4 571.2,960.8 571.4,960.2 571.6,960.5 571.8,960.3 572.0,960.2 572.2,960.6 572.5,959.6 572.7,959.4 572.9,959.6 573.1,959.7 573.3,960.7 573.5,960.4 573.8,960.3 574.0,960.4 574.2,959.6 574.4,960.6 574.6,960.5 574.9,959.2 575.1,959.5 575.3,959.4 575.5,959.2 575.7,960.5 575.9,959.6 576.2,960.4 576.4,959.9 576.6,959.1 576.8,959.6 577.0,960.1 577.3,959.3 577.5,959.3 577.7,958.8 577.9,959.6 578.1,960.2 578.3,958.8 578.6,960.1 578.8,959.6 579.0,959.1 579.2,961.3 579.4,960.1 579.7,960.2 579.9,959.3 580.1,959.3 580.3,959.7 580.5,960.0 580.7,959.1 581.0,959.2 581.2,959.4 581.4,958.8 581.6,960.1 581.8,959.5 582.0,959.6 582.3,959.9 582.5,960.2 582.7,960.0 582.9,959.4 583.1,959.3 583.4,959.3 583.6,959.6 583.8,960.0 584.0,958.6 584.2,959.5 584.4,959.8 584.7,959.2 584.9,959.0 585.1,959.1 585.3,959.2 585.5,959.4 585.8,958.5 586.0,959.6 586.2,959.2 586.4,958.7 586.6,959.6 586.8,958.8 587.1,959.4 587.3,958.6 587.5,958.9 587.7,958.3 587.9,958.5 588.1,958.6 588.4,958.2 588.6,959.4 588.8,958.7 589.0,958.6 589.2,959.0 589.5,958.2 589.7,958.6 589.9,958.8 590.1,958.8 590.3,958.5 590.5,959.1 590.8,959.4 591.0,959.7 591.2,959.0 591.4,959.5 591.6,959.4 591.9,959.0 592.1,958.2 592.3,958.9 592.5,958.7 592.7,958.8 592.9,958.0 593.2,959.1 593.4,958.1 593.6,959.0 593.8,957.7 594.0,957.9 594.2,958.2 594.5,957.5 594.7,957.5 594.9,957.8 595.1,957.9 595.3,958.1 595.6,957.6 595.8,958.3 596.0,956.8 596.2,957.2 596.4,957.3 596.6,956.3 596.9,957.4 597.1,957.2 597.3,956.6 597.5,956.7 597.7,956.3 598.0,955.5 598.2,955.8 598.4,954.9 598.6,954.9 598.8,955.1 599.0,953.7 599.3,953.6 599.5,953.1 599.7,951.6 599.9,950.8 600.1,950.2 600.4,950.2 600.6,950.3 600.8,948.2 601.0,948.1 601.2,946.3 601.4,945.3 601.7,944.3 601.9,943.7 602.1,943.0 602.3,941.3 602.5,939.4 602.7,938.8 603.0,936.7 603.2,935.2 603.4,933.9 603.6,931.6 603.8,931.4 604.1,930.2 604.3,927.7 604.5,927.7 604.7,925.5 604.9,924.6 605.1,924.6 605.4,925.7 605.6,923.7 605.8,924.6 606.0,924.8 606.2,924.6 606.5,927.0 606.7,926.2 606.9,928.2 607.1,928.8 607.3,930.6 607.5,931.3 607.8,932.4 608.0,933.8 608.2,935.1 608.4,935.2 608.6,936.7 608.8,938.4 609.1,939.3 609.3,941.3 609.5,943.1 609.7,943.7 609.9,944.1 610.2,945.3 610.4,947.0 610.6,948.1 610.8,949.2 611.0,949.8 611.2,950.5 611.5,951.4 611.7,951.5 611.9,952.3 612.1,951.4 612.3,953.0 612.6,952.5 612.8,953.1 613.0,953.7 613.2,954.2 613.4,953.9 613.6,955.3 613.9,955.0 614.1,954.9 614.3,956.1 614.5,956.1 614.7,955.5 615.0,955.4 615.2,956.3 615.4,956.8 615.6,956.7 615.8,956.5 616.0,956.4 616.3,956.6 616.5,957.9 616.7,957.0 616.9,958.3 617.1,958.1 617.3,957.7 617.6,957.4 617.8,957.9 618.0,958.7 618.2,957.7 618.4,957.8 618.7,957.7 618.9,958.8 619.1,959.2 619.3,958.6 619.5,958.3 619.7,959.3 620.0,958.8 620.2,959.4 620.4,958.4 620.6,958.1 620.8,958.2 621.1,958.3 621.3,958.8 621.5,959.4 621.7,958.7 621.9,958.6 622.1,959.7 622.4,959.3 622.6,959.4 622.8,959.7 623.0,959.5 623.2,958.8 623.4,960.0 623.7,958.9 623.9,958.9 624.1,959.7 624.3,959.7 624.5,959.1 624.8,958.7 625.0,958.9 625.2,959.6 625.4,960.4 625.6,960.3 625.8,959.8 626.1,960.2 626.3,960.0 626.5,959.5 626.7,960.5 626.9,960.1 627.2,960.1 627.4,960.6 627.6,959.8 627.8,959.4 628.0,959.7 628.2,959.7 628.5,960.2 628.7,960.3 628.9,959.6 629.1,959.7 629.3,959.0 629.5,960.0 629.8,960.3 630.0,959.3 630.2,959.9 630.4,959.2 630.6,960.3 630.9,960.2 631.1,960.6 631.3,959.5 631.5,959.5 631.7,960.1 631.9,959.1 632.2,960.4 632.4,959.5 632.6,959.3 632.8,959.3 633.0,960.2 633.3,959.0 633.5,959.6 633.7,959.1 633.9,960.1 634.1,958.9 634.3,959.1 634.6,960.0 634.8,959.4 635.0,958.9 635.2,960.3 635.4,959.4 635.7,959.4 635.9,960.0 636.1,959.6 636.3,960.1 636.5,959.7 636.7,959.1 637.0,959.6 637.2,960.1 637.4,959.2 637.6,959.9 637.8,959.8 638.0,960.0 638.3,959.4 638.5,959.3 638.7,960.0 638.9,960.2 639.1,959.6 639.4,959.0 639.6,960.1 639.8,959.8 640.0,960.1 640.2,959.2 640.4,960.3 640.7,959.6 640.9,960.4 641.1,959.4 641.3,959.1 641.5,959.6 641.8,960.2 642.0,960.2 642.2,960.3 642.4,959.2 642.6,959.8 642.8,959.0 643.1,959.3 643.3,959.1 643.5,960.0 643.7,960.4 643.9,959.8 644.1,959.8 644.4,959.0 644.6,959.5 644.8,959.8 645.0,960.2 645.2,959.2 645.5,960.1 645.7,959.2 645.9,959.8 646.1,960.4 646.3,959.9 646.5,959.6 646.8,959.3 647.0,960.0 647.2,959.8 647.4,960.4 647.6,959.3 647.9,960.3 648.1,959.4 648.3,960.1 648.5,959.3 648.7,960.7 648.9,960.0 649.2,959.9 649.4,959.2 649.6,960.4 649.8,959.5 650.0,959.8 650.3,960.2 650.5,960.4 650.7,959.8 650.9,959.2 651.1,960.8 651.3,959.7 651.6,959.3 651.8,960.1 652.0,960.6 652.2,959.4 652.4,959.4 652.6,960.5 652.9,960.2 653.1,959.8 653.3,959.7 653.5,960.5 653.7,959.3 654.0,958.7 654.2,959.7 654.4,960.4 654.6,959.7 654.8,959.2 655.0,960.3 655.3,960.2 655.5,959.2 655.7,960.2 655.9,960.0 656.1,959.6 656.4,959.9 656.6,959.9 656.8,960.5 657.0,960.7 657.2,959.8 657.4,959.4 657.7,959.9 657.9,960.3 658.1,959.8 658.3,959.5 658.5,959.6 658.7,960.7 659.0,960.5 659.2,959.6 659.4,959.8 659.6,959.8 659.8,959.6 660.1,960.8 660.3,959.9 660.5,960.2 660.7,959.8 660.9,959.2 661.1,959.1 661.4,960.2 661.6,960.0 661.8,959.8 662.0,959.3 662.2,959.5 662.5,959.8 662.7,960.2 662.9,959.9 663.1,960.2 663.3,959.3 663.5,960.4 663.8,959.6 664.0,960.3 664.2,960.2 664.4,958.8 664.6,959.7 664.8,959.1 665.1,959.8 665.3,960.2 665.5,959.6 665.7,960.0 665.9,959.9 666.2,959.2 666.4,959.7 666.6,959.4 666.8,959.8 667.0,960.2 667.2,959.3 667.5,959.9 667.7,959.9 667.9,959.7 668.1,960.5 668.3,959.7 668.6,960.5 668.8,959.3 669.0,960.0 669.2,959.4 669.4,960.5 669.6,960.2 669.9,959.4 670.1,959.7 670.3,959.2 670.5,960.5 670.7,960.5 671.0,960.6 671.2,960.1 671.4,959.6 671.6,960.0 671.8,960.3 672.0,960.0 672.3,959.4 672.5,960.2 672.7,959.5 672.9,959.7 673.1,960.6 673.3,960.3 673.6,960.6 673.8,960.5 674.0,960.6 674.2,959.9 674.4,960.6 674.7,959.7 674.9,959.6 675.1,960.1 675.3,959.8 675.5,960.5 675.7,959.8 676.0,959.4 676.2,960.6 676.4,960.8 676.6,960.4 676.8,960.8 677.1,960.5 677.3,960.7 677.5,960.2 677.7,960.3 677.9,960.2 678.1,959.2 678.4,959.5 678.6,960.0 678.8,959.4 679.0,960.3 679.2,958.8 679.4,959.0 679.7,959.4 679.9,959.4 680.1,960.3 680.3,959.0 680.5,960.2 680.8,960.5 681.0,959.1 681.2,960.7 681.4,960.2 681.6,959.4 681.8,960.5 682.1,959.3 682.3,959.6 682.5,959.4 682.7,959.7 682.9,959.3 683.2,959.7 683.4,960.0 683.6,959.8 683.8,959.8 684.0,960.4 684.2,960.3 684.5,959.1 684.7,960.2 684.9,960.3 685.1,960.5 685.3,959.7 685.5,960.6 685.8,960.0 686.0,960.0 686.2,960.1 686.4,959.9 686.6,960.4 686.9,960.1 687.1,960.8 687.3,960.1 687.5,959.4 687.7,959.7 687.9,960.1 688.2,960.3 688.4,960.9 688.6,960.5 688.8,959.7 689.0,959.9 689.3,960.2 689.5,960.6 689.7,960.5 689.9,960.4 690.1,959.7 690.3,960.3 690.6,959.7 690.8,959.5 691.0,960.5 691.2,960.4 691.4,960.9 691.7,960.6 691.9,959.7 692.1,959.3 692.3,959.9 692.5,959.8 692.7,960.1 693.0,959.9 693.2,959.4 693.4,959.4 693.6,959.9 693.8,960.2 694.0,959.7 694.3,959.7 694.5,959.6 694.7,960.5 694.9,960.6 695.1,960.0 695.4,959.3 695.6,960.7 695.8,960.6 696.0,959.5 696.2,959.1 696.4,959.9 696.7,959.4 696.9,959.7 697.1,959.7 697.3,959.6 697.5,960.6 697.8,959.9 698.0,959.4 698.2,960.1 698.4,960.7 698.6,959.6 698.8,960.1 699.1,960.0 699.3,960.4 699.5,959.7 699.7,959.7 699.9,960.9 700.1,960.8 700.4,960.6 700.6,960.4 700.8,960.9 701.0,959.4 701.2,960.0 701.5,960.3 701.7,959.4 701.9,960.8 702.1,960.2 702.3,960.2 702.5,960.5 702.8,959.8 703.0,960.4 703.2,959.5 703.4,960.4 703.6,959.8 703.9,960.1 704.1,959.3 704.3,959.6 704.5,959.6 704.7,959.3 704.9,960.0 705.2,959.3 705.4,959.9 705.6,958.7 705.8,958.8 706.0,958.9 706.3,958.9 706.5,959.6 706.7,958.8 706.9,959.6 707.1,959.9 707.3,960.1 707.6,958.5 707.8,958.9 708.0,959.0 708.2,958.0 708.4,959.2 708.6,958.9 708.9,958.8 709.1,957.9 709.3,957.5 709.5,958.5 709.7,957.9 710.0,956.9 710.2,957.5 710.4,955.7 710.6,955.5 710.8,954.6 711.0,954.7 711.3,955.3 711.5,952.5 711.7,952.1 711.9,951.3 712.1,949.1 712.4,949.0 712.6,946.8 712.8,946.4 713.0,945.2 713.2,944.2 713.4,944.2 713.7,942.7 713.9,943.5 714.1,943.5 714.3,944.1 714.5,944.7 714.7,945.8 715.0,945.8 715.2,946.2 715.4,945.9 715.6,946.3 715.8,947.6 716.1,947.0 716.3,949.2 716.5,948.8 716.7,949.4 716.9,949.9 717.1,951.8 717.4,952.3 717.6,952.1 717.8,953.7 718.0,953.4 718.2,954.7 718.5,955.2 718.7,955.9 718.9,955.5 719.1,956.9 719.3,957.5 719.5,957.8 719.8,957.5 720.0,957.5 720.2,958.1 720.4,958.6 720.6,958.8 720.8,958.4 721.1,959.0 721.3,959.2 721.5,959.1 721.7,959.5 721.9,959.0 722.2,958.8 722.4,958.2 722.6,959.9 722.8,960.2 723.0,959.1 723.2,959.7 723.5,959.7 723.7,960.2 723.9,958.9 724.1,959.9 724.3,960.3 724.6,960.4 724.8,959.5 725.0,959.5 725.2,960.0 725.4,960.2 725.6,959.2 725.9,960.3 726.1,959.1 726.3,958.9 726.5,958.9 726.7,959.1 727.0,959.1 727.2,959.2 727.4,959.3 727.6,960.4 727.8,960.2 728.0,959.0 728.3,959.4 728.5,960.1 728.7,960.0 728.9,959.8 729.1,959.9 729.3,960.3 729.6,960.0 729.8,960.3 730.0,959.3 730.2,959.5 730.4,959.7 730.7,960.2 730.9,960.4 731.1,960.8 731.3,960.8 731.5,960.7 731.7,959.8 732.0,959.5 732.2,960.8 732.4,960.8 732.6,959.4 732.8,959.3 733.1,959.5 733.3,959.9 733.5,960.4 733.7,959.8 733.9,960.0 734.1,960.3 734.4,959.2 734.6,959.4 734.8,960.4 735.0,959.7 735.2,959.7 735.4,959.8 735.7,958.7 735.9,960.0 736.1,960.2 736.3,960.0 736.5,960.1 736.8,959.9 737.0,959.4 737.2,960.2 737.4,959.3 737.6,959.6 737.8,959.9 738.1,960.2 738.3,960.7 738.5,960.1 738.7,960.6 738.9,960.4 739.2,960.4 739.4,961.3 739.6,960.9 739.8,959.8 740.0,961.1 740.2,960.5 740.5,961.3 740.7,960.0 740.9,961.3 741.1,960.8 741.3,960.7 741.6,960.4 741.8,961.2 742.0,960.9 742.2,960.3 742.4,960.0 742.6,960.0 742.9,960.2 743.1,959.8 743.3,959.8 743.5,960.5 743.7,960.6 743.9,960.9 744.2,959.7 744.4,959.9 744.6,959.6 744.8,960.5 745.0,960.0 745.3,960.0 745.5,959.6 745.7,960.7 745.9,960.8 746.1,959.6 746.3,960.1 746.6,960.6 746.8,960.6 747.0,959.8 747.2,959.3 747.4,960.5 747.7,960.5 747.9,960.0 748.1,961.0 748.3,960.4 748.5,960.2 748.7,960.1 749.0,959.2 749.2,960.6 749.4,960.7 749.6,959.4 749.8,960.4 750.0,960.1 750.3,959.8 750.5,960.1 750.7,959.4 750.9,959.8 751.1,959.8 751.4,960.3 751.6,960.0 751.8,959.3 752.0,959.7 752.2,960.0 752.4,959.9 752.7,960.6 752.9,960.6 753.1,960.8 753.3,960.8 753.5,960.1 753.8,960.2 754.0,960.2 754.2,960.2 754.4,959.5 754.6,959.6 754.8,960.6 755.1,960.5 755.3,959.8 755.5,959.5 755.7,960.0 755.9,960.5 756.1,959.3 756.4,960.3 756.6,959.6 756.8,959.7 757.0,959.9 757.2,960.3 757.5,960.3 757.7,959.3 757.9,960.0 758.1,960.2 758.3,960.5 758.5,960.0 758.8,959.3 759.0,960.3 759.2,960.6 759.4,959.3 759.6,960.7 759.9,960.2 760.1,960.1 760.3,959.8 760.5,959.5 760.7,960.3 760.9,960.8 761.2,959.6 761.4,960.3 761.6,960.4 761.8,960.9 762.0,959.4 762.3,959.9 762.5,959.6 762.7,959.9 762.9,960.9 763.1,959.7 763.3,960.1 763.6,960.9 763.8,960.7 764.0,961.0 764.2,959.8 764.4,959.8 764.6,960.0 764.9,960.3 765.1,960.6 765.3,959.8 765.5,960.6 765.7,959.8 766.0,961.0 766.2,960.4 766.4,959.7 766.6,960.8 766.8,960.2 767.0,960.7 767.3,960.3 767.5,960.8 767.7,959.9 767.9,961.0 768.1,959.4 768.4,960.0 768.6,959.8 768.8,961.1 769.0,959.5 769.2,960.0 769.4,960.2 769.7,959.8 769.9,961.1 770.1,960.8 770.3,960.4 770.5,960.2 770.7,959.9 771.0,959.8 771.2,960.2 771.4,960.5 771.6,960.9 771.8,959.9 772.1,961.0 772.3,960.7 772.5,959.8 772.7,959.5 772.9,959.5 773.1,961.0 773.4,959.9 773.6,959.5 773.8,960.5 774.0,959.9 774.2,960.9 774.5,960.5 774.7,960.7 774.9,960.3 775.1,960.4 775.3,960.0 775.5,959.9 775.8,960.4 776.0,959.5 776.2,959.1 776.4,960.5 776.6,959.7 776.8,960.0 777.1,959.7 777.3,960.1 777.5,960.3 777.7,959.3 777.9,960.4 778.2,959.6 778.4,960.1 778.6,960.0 778.8,960.5 779.0,959.8 779.2,960.5 779.5,960.7 779.7,960.1 779.9,960.5 780.1,960.7 780.3,959.6 780.6,960.0 780.8,960.6 781.0,960.4 781.2,960.7 781.4,960.2 781.6,959.9 781.9,960.5 782.1,959.9 782.3,960.2 782.5,959.6 782.7,959.9 783.0,960.0 783.2,959.5 783.4,959.6 783.6,960.8 783.8,962.4 784.0,959.7 784.3,960.0 784.5,960.4 784.7,959.7 784.9,959.5 785.1,960.8 785.3,959.8 785.6,960.8 785.8,960.1 786.0,960.2 786.2,960.2 786.4,960.3 786.7,959.9 786.9,960.4 787.1,960.1 787.3,960.7 787.5,959.9 787.7,959.7 788.0,960.8 788.2,960.2 788.4,959.8 788.6,960.5 788.8,959.7 789.1,960.3 789.3,960.3 789.5,959.8 789.7,960.3 789.9,960.1 790.1,959.2 790.4,960.8 790.6,959.7 790.8,960.0 791.0,960.8 791.2,960.5 791.4,959.6 791.7,960.4 791.9,959.3 792.1,960.4 792.3,960.1 792.5,960.4 792.8,960.4 793.0,960.1 793.2,960.5 793.4,960.2 793.6,960.6 793.8,959.4 794.1,959.9 794.3,959.7 794.5,960.3 794.7,960.5 794.9,959.9 795.2,961.1 795.4,960.1 795.6,959.6 795.8,960.8 796.0,959.8 796.2,959.7 796.5,960.2 796.7,960.4 796.9,960.0 797.1,960.2 797.3,959.9 797.6,960.4 797.8,961.2 798.0,960.4 798.2,960.7 798.4,960.1 798.6,960.0 798.9,960.3 799.1,959.7 799.3,960.4 799.5,960.6 799.7,960.3 799.9,960.0 800.2,960.1 800.4,960.8 800.6,959.8 800.8,960.0 801.0,960.5 801.3,959.8 801.5,960.8 801.7,959.6 801.9,959.3 802.1,959.9 802.3,960.1 802.6,960.1 802.8,959.8 803.0,960.5 803.2,960.7 803.4,960.1 803.7,960.7 803.9,960.7 804.1,959.7 804.3,961.0 804.5,959.7 804.7,959.7 805.0,960.8 805.2,960.2 805.4,959.8 805.6,960.4 805.8,959.9 806.0,959.6 806.3,960.1 806.5,960.6 806.7,960.4 806.9,960.9 807.1,960.2 807.4,960.9 807.6,959.9 807.8,960.1 808.0,960.5 808.2,960.1 808.4,959.6 808.7,960.4 808.9,960.9 809.1,959.9 809.3,960.1 809.5,959.9 809.8,960.6 810.0,960.3 810.2,959.9 810.4,961.1 810.6,959.5 810.8,960.8 811.1,960.9 811.3,959.6 811.5,959.5 811.7,960.5 811.9,962.0 812.1,959.7 812.4,960.1 812.6,959.6 812.8,960.1 813.0,960.3 813.2,960.9 813.5,960.1 813.7,959.8 813.9,961.0 814.1,960.4 814.3,959.6 814.5,959.5 814.8,960.0 815.0,959.7 815.2,960.0 815.4,959.9 815.6,960.8 815.9,960.7 816.1,960.4 816.3,959.5 816.5,960.7 816.7,960.0 816.9,960.8 817.2,959.5 817.4,959.6 817.6,959.6 817.8,960.8 818.0,961.1 818.3,960.7 818.5,960.0 818.7,959.5 818.9,960.9 819.1,959.6 819.3,960.6 819.6,960.1 819.8,959.9 820.0,960.0 820.2,959.4 820.4,959.4 820.6,960.7 820.9,959.9 821.1,961.2 821.3,959.7 821.5,959.9 821.7,960.3 822.0,960.0 822.2,959.6 822.4,959.8 822.6,960.8 822.8,959.3 823.0,959.9 823.3,959.6 823.5,959.7 823.7,959.5 823.9,960.7 824.1,960.2 824.4,960.3 824.6,959.9 824.8,960.2 825.0,960.2 825.2,960.8 825.4,959.8 825.7,960.0 825.9,960.1 826.1,960.6 826.3,960.6 826.5,960.8 826.7,961.3 827.0,961.2 827.2,960.1 827.4,960.4 827.6,960.6 827.8,961.0 828.1,960.6 828.3,960.0 828.5,959.8 828.7,960.2 828.9,960.7 829.1,960.0 829.4,960.4 829.6,960.3 829.8,961.1 830.0,960.6 830.2,961.1 830.5,960.4 830.7,960.3 830.9,961.1 831.1,960.3 831.3,960.4 831.5,959.5 831.8,959.8 832.0,960.0 832.2,959.8 832.4,960.1 832.6,960.8 832.9,959.7 833.1,959.4 833.3,960.3 833.5,960.0 833.7,959.5 833.9,960.6 834.2,960.8 834.4,960.4 834.6,960.4 834.8,960.2 835.0,960.5 835.2,959.2 835.5,960.5 835.7,960.1 835.9,960.6 836.1,960.5 836.3,960.1 836.6,960.2 836.8,959.4 837.0,959.5 837.2,959.1 837.4,959.5 837.6,960.2 837.9,959.5 838.1,960.4 838.3,959.3 838.5,960.2 838.7,959.5 839.0,960.2 839.2,960.4 839.4,960.6 839.6,960.4 839.8,959.4 840.0,960.4 840.3,959.6 840.5,960.0 840.7,959.4 840.9,959.9 841.1,960.3 841.3,959.4 841.6,960.2 841.8,960.7 842.0,960.2 842.2,959.8 842.4,959.5 842.7,960.0 842.9,959.8 843.1,960.3 843.3,960.4 843.5,960.3 843.7,960.4 844.0,960.5 844.2,960.5 844.4,959.7 844.6,960.3 844.8,960.2 845.1,959.7 845.3,960.5 845.5,959.7 845.7,960.7 845.9,960.4 846.1,959.7 846.4,960.4 846.6,960.5 846.8,960.0 847.0,961.2 847.2,961.1 847.4,959.7 847.7,960.7 847.9,960.2 848.1,960.8 848.3,960.9 848.5,960.2 848.8,960.3 849.0,960.0 849.2,960.5 849.4,961.0 849.6,959.9 849.8,959.5 850.1,961.0 850.3,959.5 850.5,960.5 850.7,960.4 850.9,960.1 851.2,961.0 851.4,959.7 851.6,959.8 851.8,960.7 852.0,959.4 852.2,959.9 852.5,959.7 852.7,960.1 852.9,960.5 853.1,960.8 853.3,959.5 853.6,959.1 853.8,960.2 854.0,960.4 854.2,959.0 854.4,960.1 854.6,960.1 854.9,960.0 855.1,960.2 855.3,959.6 855.5,960.5 855.7,959.4 855.9,960.6 856.2,960.6 856.4,960.5 856.6,959.8 856.8,960.7 857.0,959.5 857.3,960.1 857.5,960.1 857.7,959.5 857.9,960.9 858.1,959.5 858.3,960.0 858.6,959.3 858.8,959.6 859.0,960.5 859.2,960.4 859.4,959.9 859.7,960.5 859.9,959.8 860.1,960.5 860.3,960.8 860.5,959.4 860.7,960.1 861.0,960.0 861.2,959.8 861.4,961.2 861.6,960.9 861.8,960.7 862.0,960.8 862.3,960.9 862.5,960.2 862.7,960.1 862.9,961.1 863.1,959.9 863.4,960.0 863.6,960.9 863.8,960.2 864.0,960.3 864.2,960.8 864.4,961.1 864.7,959.7 864.9,960.5 865.1,960.1 865.3,959.6 865.5,959.9 865.8,960.6 866.0,959.7 866.2,960.1 866.4,960.0 866.6,959.3 866.8,960.7 867.1,960.7 867.3,960.6 867.5,960.0 867.7,960.0 867.9,960.4 868.2,960.9 868.4,960.2 868.6,959.9 868.8,960.1 869.0,960.3 869.2,960.5 869.5,961.1 869.7,960.6 869.9,960.9 870.1,960.3 870.3,960.3 870.5,961.1 870.8,960.0 871.0,960.0 871.2,960.4 871.4,959.7 871.6,959.7 871.9,960.3 872.1,960.5 872.3,961.0 872.5,959.5 872.7,959.4 872.9,960.5 873.2,960.7 873.4,959.3 873.6,959.6 873.8,960.3 874.0,960.3 874.3,960.6 874.5,960.1 874.7,960.7 874.9,959.8 875.1,960.4 875.3,960.3 875.6,959.9 875.8,960.5 876.0,960.7 876.2,960.2 876.4,960.5 876.6,960.0 876.9,960.7 877.1,959.9 877.3,960.4 877.5,960.3 877.7,961.5 878.0,960.8 878.2,960.6 878.4,960.5 878.6,960.7 878.8,960.7 879.0,960.1 879.3,959.9 879.5,960.5 879.7,959.7 879.9,960.7 880.1,960.7 880.4,960.5 880.6,960.0 880.8,961.1 881.0,960.8 881.2,960.9 881.4,959.5 881.7,960.5 881.9,959.9 882.1,959.6 882.3,960.6 882.5,960.3 882.7,959.7 883.0,959.8 883.2,960.3 883.4,960.4 883.6,960.8 883.8,960.3 884.1,960.0 884.3,960.6 884.5,959.7 884.7,959.8 884.9,960.1 885.1,960.3 885.4,959.4 885.6,959.7 885.8,960.7 886.0,960.1 886.2,960.2 886.5,960.2 886.7,959.6 886.9,960.9 887.1,960.7 887.3,960.3 887.5,959.3 887.8,960.4 888.0,960.6 888.2,959.8 888.4,959.5 888.6,960.4 888.9,960.2 889.1,959.9 889.3,959.8 889.5,960.7 889.7,959.4 889.9,959.9 890.2,960.1 890.4,960.2 890.6,959.7 890.8,960.3 891.0,959.5 891.2,960.2 891.5,959.4 891.7,959.9 891.9,960.5 892.1,959.8 892.3,959.6 892.6,960.9 892.8,960.1 893.0,959.4 893.2,960.0 893.4,959.7 893.6,960.5 893.9,960.5 894.1,960.4 894.3,960.4 894.5,960.2 894.7,959.3 895.0,960.3 895.2,959.7 895.4,959.5 895.6,959.8 895.8,959.2 896.0,960.5 896.3,960.0 896.5,960.2 896.7,959.2 896.9,959.0 897.1,959.2 897.3,959.3 897.6,960.0 897.8,960.2 898.0,960.6 898.2,959.3 898.4,959.9 898.7,960.2 898.9,959.8 899.1,959.5 899.3,959.6 899.5,959.5 899.7,960.0 900.0,959.6 900.2,960.9 900.4,960.3 900.6,959.6 900.8,960.5 901.1,960.3 901.3,960.7 901.5,959.7 901.7,959.9 901.9,960.0 902.1,960.1 902.4,959.6 902.6,960.8 902.8,959.7 903.0,960.2 903.2,960.3 903.4,960.1 903.7,959.9 903.9,959.0 904.1,960.1 904.3,960.3 904.5,960.4 904.8,960.7 905.0,960.1 905.2,959.9 905.4,960.7 905.6,960.9 905.8,960.8 906.1,959.8 906.3,960.8 906.5,960.4 906.7,960.2 906.9,959.5 907.2,959.5 907.4,960.6 907.6,959.6 907.8,959.9 908.0,959.8 908.2,959.7 908.5,959.8 908.7,959.5 908.9,960.6 909.1,960.0 909.3,959.7 909.6,959.5 909.8,960.4 910.0,961.6 910.2,960.5 910.4,960.1 910.6,959.7 910.9,959.5 911.1,959.8 911.3,959.4 911.5,959.8 911.7,958.7 911.9,959.7 912.2,959.8 912.4,959.7 912.6,960.0 912.8,960.7 913.0,960.9 913.3,959.4 913.5,960.2 913.7,959.3 913.9,960.3 914.1,960.1 914.3,959.8 914.6,959.6 914.8,959.8 915.0,959.1 915.2,960.1 915.4,960.2 915.7,959.0 915.9,960.4 916.1,959.1 916.3,960.2 916.5,960.3 916.7,959.4 917.0,960.0 917.2,959.3 917.4,958.8 917.6,959.4 917.8,958.8 918.0,958.5 918.3,959.4 918.5,958.4 918.7,959.2 918.9,957.8 919.1,957.8 919.4,958.3 919.6,957.9 919.8,957.0 920.0,957.2 920.2,957.2 920.4,955.8 920.7,955.4 920.9,954.8 921.1,955.4 921.3,954.7 921.5,953.1 921.8,953.5 922.0,952.4 922.2,952.4 922.4,952.2 922.6,951.9 922.8,951.7 923.1,951.0 923.3,951.4 923.5,951.0 923.7,951.6 923.9,951.1 924.2,951.8 924.4,951.7 924.6,952.0 924.8,952.3 925.0,952.8 925.2,952.9 925.5,953.6 925.7,953.5 925.9,954.7 926.1,954.0 926.3,955.1 926.5,954.7 926.8,955.9 927.0,956.1 927.2,955.1 927.4,956.8 927.6,957.0 927.9,957.0 928.1,956.4 928.3,957.7 928.5,957.5 928.7,957.0 928.9,957.8 929.2,957.3 929.4,958.3 929.6,957.7 929.8,957.9 930.0,957.7 930.3,958.4 930.5,958.8 930.7,959.0 930.9,958.7 931.1,958.7 931.3,958.5 931.6,958.9 931.8,959.7 932.0,960.0 932.2,960.0 932.4,958.7 932.6,958.9 932.9,959.3 933.1,959.7 933.3,959.0 933.5,958.9 933.7,960.1 934.0,960.4 934.2,959.5 934.4,960.1 934.6,960.0 934.8,960.1 935.0,959.6 935.3,960.4 935.5,959.2 935.7,959.4 935.9,960.0 936.1,959.5 936.4,960.5 936.6,960.5 936.8,960.5 937.0,960.6 937.2,960.3 937.4,959.7 937.7,960.0 937.9,959.4 938.1,960.1 938.3,960.5 938.5,960.6 938.7,960.7 939.0,960.0 939.2,961.0 939.4,960.5 939.6,959.9 939.8,961.0 940.1,960.6 940.3,960.5 940.5,960.4 940.7,959.5 940.9,960.3 941.1,960.6 941.4,960.5 941.6,958.1 941.8,960.3 942.0,960.6 942.2,960.8 942.5,959.8 942.7,960.2 942.9,959.4 943.1,959.6 943.3,960.0 943.5,959.4 943.8,960.0 944.0,960.8 944.2,959.9 944.4,959.7 944.6,959.6 944.9,960.2 945.1,960.0 945.3,960.3 945.5,959.8 945.7,960.0 945.9,959.7 946.2,959.6 946.4,959.2 946.6,959.7 946.8,960.4 947.0,959.7 947.2,960.3 947.5,959.2 947.7,960.2 947.9,960.4 948.1,959.5 948.3,959.8 948.6,959.6 948.8,960.0 949.0,960.7 949.2,960.3 949.4,959.4 949.6,960.9 949.9,960.3 950.1,960.6 950.3,960.5 950.5,960.5 950.7,960.3 951.0,959.4 951.2,960.2 951.4,960.1 951.6,959.7 951.8,960.4 952.0,959.1 952.3,959.8 952.5,960.4 952.7,959.9 952.9,959.7 953.1,959.3 953.3,959.4 953.6,959.5 953.8,960.7 954.0,960.0 954.2,959.7 954.4,960.7 954.7,960.2 954.9,959.8 955.1,960.4 955.3,959.3 955.5,960.1 955.7,960.1 956.0,959.3 956.2,960.2 956.4,959.2 956.6,959.5 956.8,960.3 957.1,959.9 957.3,960.4 957.5,961.7 957.7,959.9 957.9,960.1 958.1,959.2 958.4,959.1 958.6,960.7 958.8,960.3 959.0,959.5 959.2,960.4 959.5,960.8 959.7,960.6 959.9,960.4 960.1,960.3 960.3,960.5 960.5,959.8 960.8,960.2 961.0,960.9 961.2,960.2 961.4,960.0 961.6,960.5 961.8,961.1 962.1,961.3 962.3,961.5 962.5,961.4 962.7,960.0 962.9,960.5 963.2,960.7 963.4,960.8 963.6,960.0 963.8,960.4 964.0,960.3 964.2,960.6 964.5,960.2 964.7,960.1 964.9,959.9 965.1,960.4 965.3,959.9 965.6,959.7 965.8,960.8 966.0,959.9 966.2,959.7 966.4,959.4 966.6,960.0 966.9,959.7 967.1,960.1 967.3,959.6 967.5,959.9 967.7,959.3 967.9,959.2 968.2,960.6 968.4,960.2 968.6,959.7 968.8,959.3 969.0,960.1 969.3,959.9 969.5,960.0 969.7,960.5 969.9,959.6 970.1,960.5 970.3,959.8 970.6,960.8 970.8,960.9 971.0,959.9 971.2,960.1 971.4,960.8 971.7,960.9 971.9,959.6 972.1,960.4 972.3,959.7 972.5,960.9 972.7,959.9 973.0,960.1 973.2,960.1 973.4,960.7 973.6,960.0 973.8,960.2 974.0,960.9 974.3,960.1 974.5,960.7 974.7,960.7 974.9,960.1 975.1,959.8 975.4,960.9 975.6,960.2 975.8,959.8 976.0,959.3 976.2,959.9 976.4,959.3 976.7,960.3 976.9,959.9 977.1,961.1 977.3,959.6 977.5,960.5 977.8,960.8 978.0,959.4 978.2,960.3 978.4,959.7 978.6,959.5 978.8,960.9 979.1,959.8 979.3,960.1 979.5,960.7 979.7,960.2 979.9,959.8 980.2,960.4 980.4,960.4 980.6,960.2 980.8,959.8 981.0,960.4 981.2,959.9 981.5,959.9 981.7,959.6 981.9,960.7 982.1,959.2 982.3,959.1 982.5,959.5 982.8,959.3 983.0,959.6 983.2,960.6 983.4,960.7 983.6,959.7 983.9,959.7 984.1,959.9 984.3,960.8 984.5,959.7 984.7,960.5 984.9,960.3 985.2,960.6 985.4,959.7 985.6,960.6 985.8,960.8 986.0,959.9 986.3,960.7 986.5,960.3 986.7,959.5 986.9,959.8 987.1,959.5 987.3,960.6 987.6,959.5 987.8,960.6 988.0,959.6 988.2,960.6 988.4,960.4 988.6,960.4 988.9,959.6 989.1,960.4 989.3,960.2 989.5,960.0 989.7,961.0 990.0,961.0 990.2,960.4 990.4,960.9 990.6,960.0 990.8,959.8 991.0,960.1 991.3,960.4 991.5,960.9 991.7,960.9 991.9,960.0 992.1,960.9 992.4,961.0 992.6,960.5 992.8,960.4 993.0,960.2 993.2,959.8 993.4,959.9 993.7,960.2 993.9,960.2 994.1,960.3 994.3,960.1 994.5,960.7 994.7,959.6 995.0,959.6 995.2,960.8 995.4,960.2 995.6,960.1 995.8,959.9 996.1,959.7 996.3,959.6 996.5,959.8 996.7,960.3 996.9,959.1 997.1,960.6 997.4,959.4 997.6,959.9 997.8,960.5 998.0,959.5 998.2,960.3 998.5,960.3 998.7,960.1 998.9,960.6 999.1,959.5 999.3,959.6 999.5,960.7 999.8,960.7 1000.0,959.4 1000.2,960.3 1000.4,959.4 1000.6,960.8 1000.9,960.7 1001.1,960.3 1001.3,959.8 1001.5,960.1 1001.7,959.9 1001.9,960.3 1002.2,960.3 1002.4,960.4 1002.6,960.5 1002.8,959.5 1003.0,959.5 1003.2,960.3 1003.5,960.2 1003.7,960.9 1003.9,959.4 1004.1,960.0 1004.3,960.7 1004.6,960.0 1004.8,959.4 1005.0,959.7 1005.2,960.7 1005.4,960.4 1005.6,960.6 1005.9,959.6 1006.1,960.3 1006.3,958.9 1006.5,959.2 1006.7,959.8 1007.0,959.9 1007.2,959.4 1007.4,960.2 1007.6,959.0 1007.8,958.9 1008.0,958.8 1008.3,959.6 1008.5,959.7 1008.7,959.8 1008.9,959.5 1009.1,958.6 1009.3,959.2 1009.6,958.7 1009.8,958.9 1010.0,958.5 1010.2,959.8 1010.4,959.2 1010.7,959.6 1010.9,960.3 1011.1,959.1 1011.3,959.2 1011.5,959.2 1011.7,958.9 1012.0,959.7 1012.2,959.8 1012.4,959.9 1012.6,960.4 1012.8,959.8 1013.1,959.9 1013.3,960.4 1013.5,960.4 1013.7,959.8 1013.9,959.9 1014.1,959.4 1014.4,959.5 1014.6,959.4 1014.8,959.4 1015.0,959.1 1015.2,959.6 1015.5,958.9 1015.7,959.0 1015.9,958.8 1016.1,959.7 1016.3,958.4 1016.5,960.0 1016.8,958.5 1017.0,959.1 1017.2,958.2 1017.4,959.1 1017.6,959.2 1017.8,958.5 1018.1,958.5 1018.3,959.3 1018.5,958.6 1018.7,958.2 1018.9,958.0 1019.2,958.9 1019.4,958.6 1019.6,957.9 1019.8,958.2 1020.0,957.5 1020.2,958.4 1020.5,958.3 1020.7,957.8 1020.9,957.6 1021.1,956.7 1021.3,957.7 1021.6,956.9 1021.8,957.1 1022.0,956.8 1022.2,956.9 1022.4,956.4 1022.6,955.7 1022.9,955.4 1023.1,954.4 1023.3,953.9 1023.5,954.9 1023.7,954.3 1023.9,952.9 1024.2,952.3 1024.4,953.3 1024.6,951.8 1024.8,952.2 1025.0,952.1 1025.3,951.1 1025.5,951.9 1025.7,951.0 1025.9,951.6 1026.1,950.6 1026.3,950.2 1026.6,949.1 1026.8,950.2 1027.0,948.4 1027.2,948.9 1027.4,948.8 1027.7,948.6 1027.9,949.1 1028.1,948.9 1028.3,949.1 1028.5,948.7 1028.7,948.4 1029.0,948.8 1029.2,947.8 1029.4,948.2 1029.6,949.3 1029.8,948.9 1030.0,949.6 1030.3,948.6 1030.5,949.4 1030.7,948.9 1030.9,950.4 1031.1,950.9 1031.4,950.4 1031.6,950.3 1031.8,951.3 1032.0,951.5 1032.2,952.3 1032.4,953.1 1032.7,953.7 1032.9,952.6 1033.1,953.2 1033.3,953.3 1033.5,954.0 1033.8,954.2 1034.0,954.4 1034.2,955.9 1034.4,955.1 1034.6,955.4 1034.8,955.4 1035.1,956.2 1035.3,956.1 1035.5,956.2 1035.7,956.8 1035.9,956.9 1036.2,956.8 1036.4,957.2 1036.6,956.6 1036.8,957.0 1037.0,957.5 1037.2,956.3 1037.5,956.9 1037.7,957.0 1037.9,956.9 1038.1,957.2 1038.3,957.3 1038.5,957.6 1038.8,957.7 1039.0,957.6 1039.2,956.8 1039.4,957.1 1039.6,957.7 1039.9,956.8 1040.1,957.4 1040.3,956.5 1040.5,957.9 1040.7,956.8 1040.9,958.7 1041.2,956.6 1041.4,956.7 1041.6,956.9 1041.8,956.8 1042.0,957.0 1042.3,955.7 1042.5,956.3 1042.7,954.9 1042.9,954.4 1043.1,954.4 1043.3,952.6 1043.6,950.6 1043.8,949.5 1044.0,948.2 1044.2,946.1 1044.4,941.5 1044.6,939.3 1044.9,935.7 1045.1,932.3 1045.3,928.9 1045.5,925.8 1045.7,925.3 1046.0,922.9 1046.2,923.7 1046.4,924.5 1046.6,927.5 1046.8,929.4 1047.0,933.6 1047.3,935.9 1047.5,937.6 1047.7,939.1 1047.9,940.9 1048.1,942.4 1048.4,942.4 1048.6,942.9 1048.8,941.3 1049.0,940.8 1049.2,940.7 1049.4,940.2 1049.7,938.8 1049.9,939.4 1050.1,941.0 1050.3,942.2 1050.5,943.2 1050.8,945.2 1051.0,947.3 1051.2,948.4 1051.4,950.5 1051.6,952.1 1051.8,953.7 1052.1,954.5 1052.3,955.4 1052.5,955.5 1052.7,956.0 1052.9,957.1 1053.1,957.7 1053.4,957.2 1053.6,958.0 1053.8,957.6 1054.0,958.0 1054.2,958.6 1054.5,958.3 1054.7,958.5 1054.9,959.1 1055.1,958.1 1055.3,959.2 1055.5,959.7 1055.8,959.3 1056.0,958.8 1056.2,959.3 1056.4,958.7 1056.6,959.6 1056.9,959.8 1057.1,959.1 1057.3,959.5 1057.5,959.8 1057.7,960.0 1057.9,959.8 1058.2,960.1 1058.4,960.3 1058.6,959.7 1058.8,959.2 1059.0,960.5 1059.2,959.3 1059.5,960.1 1059.7,960.5 1059.9,960.6 1060.1,959.9 1060.3,960.1 1060.6,960.6 1060.8,960.2 1061.0,959.5 1061.2,960.5 1061.4,960.2 1061.6,959.5 1061.9,959.5 1062.1,959.8 1062.3,959.8 1062.5,960.2 1062.7,959.7 1063.0,960.1 1063.2,959.5 1063.4,959.8 1063.6,959.6 1063.8,959.8 1064.0,960.3 1064.3,959.6 1064.5,960.1 1064.7,960.4 1064.9,959.3 1065.1,959.9 1065.3,960.6 1065.6,960.4 1065.8,960.6 1066.0,959.7 1066.2,960.4 1066.4,960.0 1066.7,959.6 1066.9,960.7 1067.1,960.0 1067.3,960.7 1067.5,960.7 1067.7,960.6 1068.0,959.9 1068.2,960.8 1068.4,959.8 1068.6,960.5 1068.8,959.4 1069.1,960.6 1069.3,959.3 1069.5,960.4 1069.7,960.4 1069.9,959.4 1070.1,960.2 1070.4,960.4 1070.6,960.6 1070.8,960.9 1071.0,959.6 1071.2,959.9 1071.5,959.8 1071.7,960.3 1071.9,959.3 1072.1,959.9 1072.3,959.3 1072.5,959.3 1072.8,960.3 1073.0,959.9 1073.2,960.5 1073.4,960.2 1073.6,960.6 1073.8,960.0 1074.1,959.2 1074.3,960.8 1074.5,959.5 1074.7,960.5 1074.9,959.4 1075.2,960.0 1075.4,959.6 1075.6,960.3 1075.8,959.4 1076.0,959.4 1076.2,960.1 1076.5,960.6 1076.7,960.0 1076.9,959.6 1077.1,961.0 1077.3,959.5 1077.6,959.8 1077.8,960.3 1078.0,959.8 1078.2,960.5 1078.4,960.1 1078.6,960.7 1078.9,959.7 1079.1,960.9 1079.3,961.0 1079.5,960.1 1079.7,960.1 1079.9,961.1 1080.2,960.4 1080.4,960.4 1080.6,960.7 1080.8,960.5 1081.0,960.9 1081.3,960.8 1081.5,960.9 1081.7,960.5 1081.9,960.6 1082.1,961.0 1082.3,961.0 1082.6,960.5 1082.8,960.5 1083.0,959.9 1083.2,960.2 1083.4,959.7 1083.7,960.2 1083.9,959.7 1084.1,960.0 1084.3,960.0 1084.5,960.2 1084.7,960.6 1085.0,959.6 1085.2,961.4 1085.4,960.5 1085.6,959.6 1085.8,959.5 1086.1,959.5 1086.3,960.4 1086.5,960.0 1086.7,959.5 1086.9,959.5 1087.1,960.0 1087.4,959.6 1087.6,960.8 1087.8,959.6 1088.0,960.6 1088.2,959.4 1088.4,960.0 1088.7,959.5 1088.9,959.8 1089.1,958.4 1089.3,961.0 1089.5,960.9 1089.8,960.5 1090.0,959.9 1090.2,960.2 1090.4,960.3 1090.6,961.2 1090.8,960.0 1091.1,960.7 1091.3,960.7 1091.5,961.0 1091.7,960.8 1091.9,960.3 1092.2,960.5 1092.4,960.5 1092.6,960.8 1092.8,960.6 1093.0,959.8 1093.2,961.0 1093.5,960.3 1093.7,960.6 1093.9,960.1 1094.1,960.2 1094.3,961.1 1094.5,959.6 1094.8,960.6 1095.0,959.9 1095.2,961.2 1095.4,960.9 1095.6,960.9 1095.9,960.8 1096.1,960.0 1096.3,960.2 1096.5,960.8 1096.7,960.1 1096.9,960.9 1097.2,960.6 1097.4,960.2 1097.6,960.2 1097.8,960.2 1098.0,960.0 1098.3,960.1 1098.5,960.2 1098.7,960.3 1098.9,960.8 1099.1,960.2 1099.3,960.4 1099.6,960.5 1099.8,960.7 1100.0,961.0 1100.2,960.6 1100.4,960.4 1100.6,960.6 1100.9,959.7 1101.1,960.7 1101.3,959.8 1101.5,960.9 1101.7,960.9 1102.0,960.4 1102.2,960.8 1102.4,959.5 1102.6,959.5 1102.8,960.2 1103.0,959.7 1103.3,959.5 1103.5,961.0 1103.7,960.1 1103.9,960.8 1104.1,959.9 1104.4,960.5 1104.6,959.5 1104.8,960.3 1105.0,960.5 1105.2,960.4 1105.4,960.2 1105.7,960.6 1105.9,959.8 1106.1,960.6 1106.3,959.9 1106.5,959.5 1106.8,960.0 1107.0,960.7 1107.2,959.8 1107.4,960.8 1107.6,960.1 1107.8,960.3 1108.1,959.6 1108.3,959.7 1108.5,960.5 1108.7,960.9 1108.9,959.9 1109.1,960.6 1109.4,960.8 1109.6,960.7 1109.8,960.8 1110.0,959.4 1110.2,960.4 1110.5,959.8 1110.7,959.4 1110.9,960.0 1111.1,960.7 1111.3,959.7 1111.5,959.7 1111.8,960.8 1112.0,960.3 1112.2,959.6 1112.4,959.4 1112.6,959.6 1112.9,959.5 1113.1,960.7 1113.3,960.5 1113.5,959.7 1113.7,960.2 1113.9,960.3 1114.2,960.9 1114.4,961.1 1114.6,959.6 1114.8,959.6 1115.0,960.7 1115.2,959.7 1115.5,960.3 1115.7,960.6 1115.9,960.4 1116.1,959.9 1116.3,960.1 1116.6,960.4 1116.8,959.9 1117.0,961.2 1117.2,960.1 1117.4,961.1 1117.6,960.0 1117.9,960.5 1118.1,961.0 1118.3,960.7 1118.5,959.9 1118.7,960.2 1119.0,960.3 1119.2,960.6 1119.4,961.3 1119.6,960.4 1119.8,960.4 1120.0,960.7 1120.3,960.1 1120.5,961.1 1120.7,959.7 1120.9,961.0 1121.1,961.3 1121.3,960.3 1121.6,961.0 1121.8,961.0 1122.0,961.1 1122.2,961.0 1122.4,960.8 1122.7,960.3 1122.9,960.6 1123.1,960.0 1123.3,960.8 1123.5,960.6 1123.7,960.0 1124.0,959.9 1124.2,960.2 1124.4,960.1 1124.6,960.2 1124.8,961.0 1125.1,960.3 1125.3,959.8 1125.5,961.2 1125.7,961.2 1125.9,960.9 1126.1,960.2 1126.4,961.0 1126.6,960.9 1126.8,960.5 1127.0,960.6 1127.2,960.7 1127.5,960.3 1127.7,960.8 1127.9,960.8 1128.1,960.7 1128.3,960.5 1128.5,960.0 1128.8,959.8 1129.0,960.9 1129.2,960.2 1129.4,960.8 1129.6,959.7 1129.8,959.7 1130.1,960.7 1130.3,960.6 1130.5,960.2 1130.7,960.3 1130.9,960.8 1131.2,960.3 1131.4,960.2 1131.6,959.8 1131.8,959.5 1132.0,959.8 1132.2,959.7 1132.5,960.5 1132.7,960.8 1132.9,960.4 1133.1,959.5 1133.3,959.4 1133.6,959.8 1133.8,960.1 1134.0,959.1 1134.2,958.9 1134.4,958.8 1134.6,959.0 1134.9,958.4 1135.1,957.3 1135.3,957.9 1135.5,957.6 1135.7,956.7 1135.9,954.8 1136.2,954.4 1136.4,953.6 1136.6,952.2 1136.8,950.4 1137.0,948.9 1137.3,947.7 1137.5,946.4 1137.7,945.6 1137.9,942.7 1138.1,942.9 1138.3,941.8 1138.6,942.5 1138.8,944.1 1139.0,945.1 1139.2,946.4 1139.4,947.0 1139.7,949.5 1139.9,949.6 1140.1,949.3 1140.3,951.7 1140.5,951.8 1140.7,952.3 1141.0,951.4 1141.2,950.9 1141.4,951.4 1141.6,951.6 1141.8,951.2 1142.1,950.3 1142.3,950.8 1142.5,951.1 1142.7,951.2 1142.9,951.9 1143.1,952.0 1143.4,953.2 1143.6,954.1 1143.8,954.0 1144.0,955.7 1144.2,955.6 1144.4,956.9 1144.7,956.5 1144.9,956.9 1145.1,957.2 1145.3,958.3 1145.5,957.5 1145.8,957.4 1146.0,959.2 1146.2,958.6 1146.4,958.7 1146.6,959.9 1146.8,958.9 1147.1,959.7 1147.3,959.7 1147.5,960.3 1147.7,960.0 1147.9,959.7 1148.2,959.5 1148.4,960.4 1148.6,959.7 1148.8,960.5 1149.0,960.4 1149.2,960.1 1149.5,960.9 1149.7,960.3 1149.9,960.3 1150.1,960.4 1150.3,959.5 1150.5,960.0 1150.8,959.3 1151.0,959.5 1151.2,959.3 1151.4,960.3 1151.6,960.0 1151.9,959.7 1152.1,960.0 1152.3,960.9 1152.5,959.5 1152.7,959.6 1152.9,960.7 1153.2,959.7 1153.4,960.6 1153.6,959.7 1153.8,959.8 1154.0,960.7 1154.3,960.9 1154.5,960.1 1154.7,960.6 1154.9,960.1 1155.1,961.1 1155.3,960.1 1155.6,960.7 1155.8,961.3 1156.0,960.2 1156.2,961.0 1156.4,960.6 1156.6,961.2 1156.9,961.2 1157.1,960.6 1157.3,960.3 1157.5,960.8 1157.7,960.7 1158.0,960.0 1158.2,961.0 1158.4,960.2 1158.6,959.7 1158.8,959.8 1159.0,959.8 1159.3,959.9 1159.5,959.7 1159.7,959.9 1159.9,960.7 1160.1,960.8 1160.4,959.7 1160.6,959.7 1160.8,959.9 1161.0,960.7 1161.2,961.3 1161.4,960.2 1161.7,960.1 1161.9,959.5 1162.1,960.1 1162.3,960.1 1162.5,960.7 1162.8,960.5 1163.0,960.2 1163.2,959.9 1163.4,959.2 1163.6,960.1 1163.8,960.6 1164.1,960.3 1164.3,960.2 1164.5,959.9 1164.7,959.1 1164.9,958.6 1165.1,958.6 1165.4,958.7 1165.6,958.2 1165.8,958.5 1166.0,959.5 1166.2,959.1 1166.5,958.9 1166.7,957.9 1166.9,958.4 1167.1,958.4 1167.3,959.1 1167.5,958.7 1167.8,958.0 1168.0,958.0 1168.2,957.8 1168.4,958.6 1168.6,959.0 1168.9,958.8 1169.1,959.6 1169.3,959.4 1169.5,959.2 1169.7,959.1 1169.9,959.6 1170.2,959.7 1170.4,960.0 1170.6,959.4 1170.8,959.6 1171.0,959.6 1171.2,959.4 1171.5,959.7 1171.7,959.7 1171.9,959.9 1172.1,960.2 1172.3,960.0 1172.6,960.6 1172.8,960.0 1173.0,960.8 1173.2,961.0 1173.4,960.3 1173.6,960.8 1173.9,959.7 1174.1,960.0 1174.3,961.1 1174.5,960.3 1174.7,960.2 1175.0,960.3 1175.2,959.8 1175.4,959.3 1175.6,960.5 1175.8,960.7 1176.0,959.6 1176.3,960.4 1176.5,959.7 1176.7,960.4 1176.9,960.1 1177.1,960.4 1177.4,960.8 1177.6,959.8 1177.8,960.7 1178.0,960.9 1178.2,960.5 1178.4,959.6 1178.7,959.6 1178.9,960.1 1179.1,959.7 1179.3,960.6 1179.5,959.5 1179.7,960.0 1180.0,960.4 1180.2,960.7 1180.4,960.9 1180.6,960.2 1180.8,959.6 1181.1,959.7 1181.3,960.4 1181.5,959.6 1181.7,960.7 1181.9,960.7 1182.1,960.6 1182.4,960.9 1182.6,960.1 1182.8,960.9 1183.0,959.9 1183.2,959.9 1183.5,960.3 1183.7,960.8 1183.9,959.4 1184.1,960.7 1184.3,959.9 1184.5,960.7 1184.8,960.6 1185.0,960.8 1185.2,960.2 1185.4,959.4 1185.6,959.6 1185.8,959.6 1186.1,960.0 1186.3,959.5 1186.5,959.7 1186.7,959.4 1186.9,959.9 1187.2,959.1 1187.4,959.3 1187.6,960.2 1187.8,959.3 1188.0,959.6 1188.2,960.1 1188.5,959.8 1188.7,959.5 1188.9,958.9 1189.1,960.2 1189.3,960.1 1189.6,959.9 1189.8,959.8 1190.0,959.8 1190.2,959.7 1190.4,958.8 1190.6,958.7 1190.9,958.6 1191.1,957.9 1191.3,958.0 1191.5,958.5 1191.7,959.6 1191.9,958.2 1192.2,957.8 1192.4,957.0 1192.6,956.9 1192.8,957.6 1193.0,957.2 1193.3,956.0 1193.5,955.7 1193.7,954.9 1193.9,954.6 1194.1,954.1 1194.3,952.8 1194.6,953.0 1194.8,950.2 1195.0,949.6 1195.2,947.1 1195.4,945.0 1195.7,943.4 1195.9,939.5 1196.1,936.7 1196.3,933.1 1196.5,929.2 1196.7,925.3 1197.0,921.6 1197.2,917.6 1197.4,915.7 1197.6,915.7 1197.8,915.0 1198.1,918.1 1198.3,921.4 1198.5,923.6 1198.7,927.0 1198.9,930.2 1199.1,933.1 1199.4,936.2 1199.6,938.4 1199.8,938.6 1200.0,939.4 1200.2,939.9 1200.4,940.4 1200.7,938.8 1200.9,937.9 1201.1,936.6 1201.3,936.0 1201.5,935.4 1201.8,935.0 1202.0,935.1 1202.2,936.1 1202.4,937.3 1202.6,939.0 1202.8,941.9 1203.1,942.3 1203.3,945.3 1203.5,946.6 1203.7,948.6 1203.9,950.1 1204.2,951.9 1204.4,952.9 1204.6,953.4 1204.8,955.2 1205.0,955.2 1205.2,955.8 1205.5,956.1 1205.7,956.2 1205.9,957.6 1206.1,957.5 1206.3,957.9 1206.5,958.7 1206.8,958.8 1207.0,958.4 1207.2,959.1 1207.4,958.6 1207.6,959.1 1207.9,958.7 1208.1,958.6 1208.3,959.1 1208.5,958.7 1208.7,959.3 1208.9,958.9 1209.2,959.5 1209.4,959.1 1209.6,959.7 1209.8,959.8 1210.0,960.5 1210.3,960.6 1210.5,960.1 1210.7,961.4 1210.9,960.6 1211.1,960.9 1211.3,960.6 1211.6,959.9 1211.8,960.5 1212.0,960.3 1212.2,960.9 1212.4,960.6 1212.6,961.1 1212.9,959.5 1213.1,960.5 1213.3,959.7 1213.5,960.2 1213.7,960.8 1214.0,961.2 1214.2,959.9 1214.4,960.9 1214.6,959.7 1214.8,959.9 1215.0,959.7 1215.3,960.9 1215.5,959.4 1215.7,960.5 1215.9,960.2 1216.1,960.4 1216.4,959.4 1216.6,960.1 1216.8,960.4 1217.0,960.0 1217.2,962.2 1217.4,959.8 1217.7,959.8 1217.9,960.7 1218.1,960.0 1218.3,960.9 1218.5,960.4 1218.8,961.0 1219.0,960.9 1219.2,960.8 1219.4,961.3 1219.6,960.1 1219.8,960.5 1220.1,959.8 1220.3,960.8 1220.5,961.0 1220.7,961.1 1220.9,960.4 1221.1,961.0 1221.4,960.0 1221.6,959.9 1221.8,960.6 1222.0,960.9 1222.2,959.6 1222.5,960.3 1222.7,960.2 1222.9,959.5 1223.1,959.6 1223.3,960.7 1223.5,960.8 1223.8,960.2 1224.0,959.7 1224.2,960.9 1224.4,959.9 1224.6,959.5 1224.9,961.9 1225.1,960.4 1225.3,960.5 1225.5,959.9 1225.7,959.8 1225.9,959.6 1226.2,960.3 1226.4,960.0 1226.6,960.5 1226.8,960.8 1227.0,960.6 1227.2,959.5 1227.5,960.5 1227.7,959.6 1227.9,960.1 1228.1,960.0 1228.3,960.5 1228.6,959.6 1228.8,960.0 1229.0,961.1 1229.2,959.6 1229.4,960.1 1229.6,960.4 1229.9,960.0 1230.1,960.2 1230.3,960.7 1230.5,960.2 1230.7,960.6 1231.0,961.2 1231.2,959.9 1231.4,960.9 1231.6,959.6 1231.8,960.2 1232.0,960.7 1232.3,961.1 1232.5,960.3 1232.7,960.6 1232.9,960.4 1233.1,959.8 1233.4,959.9 1233.6,960.6 1233.8,961.1 1234.0,960.0 1234.2,960.8 1234.4,960.7 1234.7,960.2 1234.9,960.6 1235.1,959.6 1235.3,959.9 1235.5,960.1 1235.7,960.4 1236.0,959.4 1236.2,959.3 1236.4,960.8 1236.6,960.1 1236.8,960.6 1237.1,960.8 1237.3,959.3 1237.5,959.5 1237.7,960.5 1237.9,958.9 1238.1,960.4 1238.4,960.3 1238.6,959.9 1238.8,959.3 1239.0,959.9 1239.2,958.9 1239.5,959.5 1239.7,958.9 1239.9,959.7 1240.1,960.0 1240.3,959.0 1240.5,960.5 1240.8,959.1 1241.0,959.3 1241.2,959.5 1241.4,959.1 1241.6,960.0 1241.8,959.9 1242.1,959.6 1242.3,959.5 1242.5,959.8 1242.7,959.3 1242.9,959.7 1243.2,960.0 1243.4,959.6 1243.6,959.0 1243.8,959.7 1244.0,958.7 1244.2,959.2 1244.5,959.1 1244.7,958.5 1244.9,959.1 1245.1,959.3 1245.3,957.5 1245.6,957.3 1245.8,957.5 1246.0,957.2 1246.2,958.3 1246.4,957.0 1246.6,956.7 1246.9,957.2 1247.1,957.5 1247.3,957.2 1247.5,956.8 1247.7,955.3 1247.9,954.8 1248.2,954.3 1248.4,954.5 1248.6,953.2 1248.8,953.2 1249.0,951.5 1249.3,951.9 1249.5,950.0 1249.7,950.7 1249.9,947.9 1250.1,947.4 1250.3,946.9 1250.6,945.2 1250.8,942.7 1251.0,942.6 1251.2,941.5 1251.4,939.9 1251.7,938.4 1251.9,936.5 1252.1,936.0 1252.3,934.9 1252.5,934.9 1252.7,934.0 1253.0,934.2 1253.2,934.2 1253.4,933.7 1253.6,935.4 1253.8,936.0 1254.1,935.4 1254.3,937.2 1254.5,937.5 1254.7,939.2 1254.9,939.1 1255.1,940.7 1255.4,941.2 1255.6,940.0 1255.8,941.8 1256.0,942.0 1256.2,942.0 1256.4,942.3 1256.7,942.8 1256.9,944.0 1257.1,943.8 1257.3,944.9 1257.5,945.6 1257.8,945.6 1258.0,946.9 1258.2,947.4 1258.4,948.1 1258.6,949.4 1258.8,949.2 1259.1,949.6 1259.3,950.7 1259.5,952.1 1259.7,952.9 1259.9,952.6 1260.2,953.5 1260.4,953.7 1260.6,955.3 1260.8,956.0 1261.0,956.3 1261.2,955.8 1261.5,956.9 1261.7,956.2 1261.9,956.3 1262.1,957.4 1262.3,957.4 1262.5,957.7 1262.8,957.2 1263.0,957.7 1263.2,958.3 1263.4,958.5 1263.6,959.0 1263.9,959.2 1264.1,958.6 1264.3,958.8 1264.5,958.7 1264.7,958.6 1264.9,959.0 1265.2,959.3 1265.4,960.0 1265.6,959.6 1265.8,959.8 1266.0,960.0 1266.3,960.2 1266.5,960.5 1266.7,959.3 1266.9,959.4 1267.1,959.4 1267.3,960.4 1267.6,959.9 1267.8,960.7 1268.0,960.1 1268.2,959.3 1268.4,959.6 1268.7,960.0 1268.9,959.6 1269.1,960.5 1269.3,959.7 1269.5,960.1 1269.7,959.8 1270.0,960.0 1270.2,960.8 1270.4,960.4 1270.6,961.2 1270.8,959.9 1271.0,960.0 1271.3,959.8 1271.5,960.0 1271.7,960.2 1271.9,960.4 1272.1,960.1 1272.4,960.0 1272.6,960.3 1272.8,959.7 1273.0,960.9 1273.2,959.5 1273.4,960.4 1273.7,960.2 1273.9,960.4 1274.1,961.2 1274.3,960.2 1274.5,960.5 1274.8,960.1 1275.0,960.4 1275.2,960.0 1275.4,961.2 1275.6,960.9 1275.8,960.9 1276.1,962.5 1276.3,959.9 1276.5,960.8 1276.7,960.1 1276.9,960.8 1277.1,960.0 1277.4,961.6 1277.6,959.9 1277.8,960.6 1278.0,959.9 1278.2,960.3 1278.5,960.4 1278.7,961.2 1278.9,960.9 1279.1,960.6 1279.3,960.9 1279.5,959.8 1279.8,960.4 1280.0,960.3 1280.2,960.9 1280.4,960.0 1280.6,961.4 1280.9,960.5 1281.1,961.5 1281.3,961.5 1281.5,960.8 1281.7,960.0 1281.9,960.3 1282.2,960.6 1282.4,961.1 1282.6,960.7 1282.8,961.5 1283.0,961.4 1283.2,960.5 1283.5,961.5 1283.7,960.7 1283.9,960.0 1284.1,960.0 1284.3,960.5 1284.6,960.6 1284.8,960.2 1285.0,961.3 1285.2,960.4 1285.4,961.2 1285.6,960.4 1285.9,960.8 1286.1,960.8 1286.3,961.4 1286.5,960.8 1286.7,960.5 1287.0,961.5 1287.2,961.2 1287.4,960.4 1287.6,960.6 1287.8,960.5 1288.0,961.6 1288.3,960.9 1288.5,961.7 1288.7,961.2 1288.9,961.5 1289.1,961.5 1289.4,961.0 1289.6,960.6 1289.8,960.8 1290.0,961.0 1290.2,961.6 1290.4,960.5 1290.7,961.2 1290.9,960.5 1291.1,961.1 1291.3,961.3 1291.5,960.1 1291.7,961.2 1292.0,961.4 1292.2,961.4 1292.4,961.3 1292.6,960.4 1292.8,960.0 1293.1,960.3 1293.3,961.2 1293.5,961.0 1293.7,960.7 1293.9,960.0 1294.1,960.2 1294.4,960.9 1294.6,961.4 1294.8,961.0 1295.0,960.5 1295.2,960.0 1295.5,960.3 1295.7,961.0 1295.9,960.6 1296.1,961.0 1296.3,960.2 1296.5,961.0 1296.8,961.0 1297.0,960.2 1297.2,961.5 1297.4,961.4 1297.6,960.4 1297.8,961.2 1298.1,961.6 1298.3,961.0 1298.5,961.4 1298.7,960.5 1298.9,960.4 1299.2,960.7 1299.4,961.5 1299.6,960.8 1299.8,961.7 1300.0,960.4 1300.2,961.0 1300.5,961.0 1300.7,961.7 1300.9,961.5 1301.1,961.7 1301.3,961.5 1301.6,960.8 1301.8,961.7 1302.0,961.6 1302.2,961.6 1302.4,961.2 1302.6,961.0 1302.9,960.5 1303.1,961.5 1303.3,961.0 1303.5,961.7 1303.7,960.6 1304.0,961.0 1304.2,960.9 1304.4,961.2 1304.6,961.7 1304.8,960.4 1305.0,960.7 1305.3,960.5 1305.5,960.2 1305.7,960.1 1305.9,961.6 1306.1,960.6 1306.3,960.4 1306.6,961.5 1306.8,961.3 1307.0,960.8 1307.2,961.5 1307.4,961.8 1307.7,961.1 1307.9,961.7 1308.1,961.7 1308.3,961.5 1308.5,961.4 1308.7,961.9 1309.0,961.2 1309.2,961.9 1309.4,960.5 1309.6,961.5 1309.8,960.6 1310.1,961.0 1310.3,961.2 1310.5,961.3 1310.7,961.3 1310.9,960.5 1311.1,960.3 1311.4,960.5 1311.6,961.3 1311.8,960.6 1312.0,961.8 1312.2,961.6 1312.4,961.0 1312.7,961.5 1312.9,960.5 1313.1,961.3 1313.3,960.7 1313.5,961.4 1313.8,960.9 1314.0,961.3 1314.2,961.6 1314.4,960.8 1314.6,960.5 1314.8,960.6 1315.1,961.7 1315.3,961.8 1315.5,961.2 1315.7,960.4 1315.9,961.2 1316.2,960.7 1316.4,960.4 1316.6,961.3 1316.8,961.6 1317.0,961.1 1317.2,961.2 1317.5,961.8 1317.7,960.2 1317.9,961.6 1318.1,961.7 1318.3,961.6 1318.5,961.2 1318.8,961.7 1319.0,961.1 1319.2,960.8 1319.4,961.0 1319.6,960.2 1319.9,960.3 1320.1,961.1 1320.3,961.3 1320.5,960.4 1320.7,961.5 1320.9,960.5 1321.2,959.2 1321.4,961.1 1321.6,961.7 1321.8,961.3 1322.0,961.9 1322.3,961.6 1322.5,961.3 1322.7,961.9 1322.9,961.0 1323.1,961.5 1323.3,961.6 1323.6,960.8 1323.8,960.9 1324.0,962.0 1324.2,960.9 1324.4,961.8 1324.7,960.5 1324.9,960.8 1325.1,960.7 1325.3,960.4 1325.5,961.5 1325.7,960.6 1326.0,961.2 1326.2,960.5 1326.4,961.3 1326.6,961.1 1326.8,961.0 1327.0,961.4 1327.3,960.9 1327.5,961.5 1327.7,961.6 1327.9,960.7 1328.1,960.8 1328.4,961.4 1328.6,960.6 1328.8,960.4 1329.0,961.3 1329.2,959.8 1329.4,960.3 1329.7,961.2 1329.9,961.1 1330.1,961.0 1330.3,961.7 1330.5,960.3 1330.8,960.6 1331.0,960.5 1331.2,961.3 1331.4,961.6 1331.6,961.1 1331.8,960.4 1332.1,961.1 1332.3,960.3 1332.5,960.3 1332.7,960.6 1332.9,961.6 1333.1,961.5 1333.4,962.0 1333.6,961.2 1333.8,960.7 1334.0,961.0 1334.2,960.6 1334.5,961.0 1334.7,961.3 1334.9,961.5 1335.1,962.0 1335.3,961.0 1335.5,960.6 1335.8,961.8 1336.0,960.8 1336.2,961.1 1336.4,960.8 1336.6,961.7 1336.9,962.0 1337.1,960.8 1337.3,961.4 1337.5,960.4 1337.7,961.4 1337.9,960.6 1338.2,960.8 1338.4,961.3 1338.6,961.2 1338.8,961.6 1339.0,960.4 1339.2,960.8 1339.5,960.7 1339.7,961.0 1339.9,961.8 1340.1,962.0 1340.3,961.9 1340.6,960.6 1340.8,960.6 1341.0,960.7 1341.2,961.3 1341.4,961.7 1341.6,961.2 1341.9,960.5 1342.1,961.6 1342.3,961.5 1342.5,961.0 1342.7,961.3 1343.0,960.9 1343.2,960.9 1343.4,961.5 1343.6,961.1 1343.8,961.0 1344.0,960.6 1344.3,961.8 1344.5,961.2 1344.7,961.7 1344.9,961.2 1345.1,960.4 1345.4,960.4 1345.6,960.7 1345.8,960.9 1346.0,960.7 1346.2,960.9 1346.4,961.8 1346.7,960.2 1346.9,960.3 1347.1,961.4 1347.3,961.3 1347.5,960.5 1347.7,960.3 1348.0,960.8 1348.2,961.4 1348.4,960.7 1348.6,961.2 1348.8,961.2 1349.1,962.0 1349.3,961.5 1349.5,961.1 1349.7,961.3 1349.9,960.8 1350.1,961.9 1350.4,961.1 1350.6,961.0 1350.8,961.2 1351.0,961.8 1351.2,961.5 1351.5,960.8 1351.7,961.7 1351.9,962.0 1352.1,961.9 1352.3,961.1 1352.5,960.8 1352.8,961.2 1353.0,960.9 1353.2,962.0 1353.4,961.5 1353.6,960.9 1353.8,961.8 1354.1,961.4 1354.3,960.6 1354.5,960.8 1354.7,961.0 1354.9,962.0 1355.2,961.6 1355.4,960.8 1355.6,961.9 1355.8,961.1 1356.0,962.1 1356.2,961.4 1356.5,960.6 1356.7,961.2 1356.9,961.6 1357.1,961.3 1357.3,961.6 1357.6,960.7 1357.8,960.5 1358.0,960.5 1358.2,961.3 1358.4,960.7 1358.6,961.7 1358.9,961.7 1359.1,960.6 1359.3,960.6 1359.5,961.5 1359.7,961.6 1360.0,961.9 1360.2,960.9 1360.4,960.4 1360.6,960.2 1360.8,961.3 1361.0,961.8 1361.3,960.9 1361.5,960.4 1361.7,960.4 1361.9,961.8 1362.1,960.9 1362.3,960.4 1362.6,960.4 1362.8,961.3 1363.0,960.8 1363.2,961.3 1363.4,961.1 1363.7,960.4 1363.9,960.9 1364.1,960.5 1364.3,960.9 1364.5,960.1 1364.7,960.0 1365.0,959.6 1365.2,959.4 1365.4,959.8 1365.6,959.9 1365.8,959.6 1366.1,958.6 1366.3,958.7 1366.5,958.4 1366.7,957.6 1366.9,958.0 1367.1,956.7 1367.4,956.0 1367.6,956.3 1367.8,955.2 1368.0,955.1 1368.2,955.4 1368.4,954.0 1368.7,955.1 1368.9,955.3 1369.1,955.2 1369.3,955.5 1369.5,956.6 1369.8,957.1 1370.0,957.9 1370.2,957.9 1370.4,958.8 1370.6,960.7 1370.8,958.7 1371.1,959.7 1371.3,959.6 1371.5,960.3 1371.7,959.8 1371.9,959.0 1372.2,958.5 1372.4,959.6 1372.6,959.1 1372.8,959.2 1373.0,957.5 1373.2,958.0 1373.5,958.0 1373.7,957.7 1373.9,957.9 1374.1,958.1 1374.3,958.3 1374.5,959.6 1374.8,959.8 1375.0,959.7 1375.2,959.8 1375.4,960.7 1375.6,960.2 1375.9,961.0 1376.1,959.9 1376.3,960.4 1376.5,960.2 1376.7,960.2 1376.9,961.5 1377.2,961.4 1377.4,960.8 1377.6,960.5 1377.8,961.6 1378.0,960.9 1378.3,961.6 1378.5,961.5 1378.7,961.7 1378.9,961.6 1379.1,962.2 1379.3,961.0 1379.6,962.0 1379.8,961.5 1380.0,961.7 1380.2,962.3 1380.4,960.7 1380.7,961.1 1380.9,961.8 1381.1,962.0 1381.3,961.0 1381.5,961.3 1381.7,961.8 1382.0,962.0 1382.2,962.0 1382.4,960.8 1382.6,961.2 1382.8,961.2 1383.0,961.3 1383.3,961.9 1383.5,961.3 1383.7,961.0 1383.9,961.4 1384.1,961.6 1384.4,961.4 1384.6,961.9 1384.8,961.9 1385.0,961.5 1385.2,961.8 1385.4,960.6 1385.7,961.5 1385.9,960.5 1386.1,960.8 1386.3,961.5 1386.5,961.4 1386.8,961.7 1387.0,961.7 1387.2,960.9 1387.4,961.2 1387.6,961.7 1387.8,960.7 1388.1,961.7 1388.3,960.4 1388.5,961.0 1388.7,960.5 1388.9,959.3 1389.1,961.6 1389.4,961.9 1389.6,960.9 1389.8,960.7 1390.0,960.9 1390.2,961.8 1390.5,960.8 1390.7,961.8 1390.9,961.1 1391.1,961.1 1391.3,962.1 1391.5,961.0 1391.8,962.2 1392.0,961.5 1392.2,962.3 1392.4,961.9 1392.6,962.0 1392.9,961.6 1393.1,962.2 1393.3,961.7 1393.5,961.3 1393.7,960.7 1393.9,960.9 1394.2,962.0 1394.4,962.1 1394.6,960.5 1394.8,960.9 1395.0,961.0 1395.3,960.5 1395.5,960.4 1395.7,961.8 1395.9,961.8 1396.1,961.9 1396.3,961.0 1396.6,962.0 1396.8,962.1 1397.0,961.8 1397.2,961.2 1397.4,961.2 1397.6,961.4 1397.9,962.1 1398.1,961.3 1398.3,961.1 1398.5,960.6 1398.7,961.0 1399.0,960.8 1399.2,961.2 1399.4,961.3 1399.6,960.8 1399.8,960.6 1400.0,961.5 1400.3,960.8 1400.5,961.5 1400.7,961.4 1400.9,961.9 1401.1,960.9 1401.4,962.2 1401.6,962.0 1401.8,961.4 1402.0,961.2 1402.2,961.0 1402.4,961.6 1402.7,961.1 1402.9,961.4 1403.1,960.9 1403.3,961.8 1403.5,961.6 1403.7,961.7 1404.0,962.1 1404.2,961.6 1404.4,961.3 1404.6,961.1 1404.8,961.4 1405.1,961.2 1405.3,961.2 1405.5,961.0 1405.7,960.9 1405.9,962.0 1406.1,962.1 1406.4,961.5 1406.6,961.5 1406.8,960.8 1407.0,961.2 1407.2,962.0 1407.5,962.1 1407.7,960.6 1407.9,961.8 1408.1,960.7 1408.3,961.8 1408.5,960.7 1408.8,961.7 1409.0,961.9 1409.2,960.5 1409.4,960.3 1409.6,961.1 1409.8,960.9 1410.1,961.8 1410.3,960.8 1410.5,960.3 1410.7,961.6 1410.9,961.3 1411.2,961.2 1411.4,961.4 1411.6,961.9 1411.8,960.9"/>
</g>
<g font-size="54" text-anchor="middle">
<text x="105.8" y="1133.6" letter-spacing="2.3">20</text>
<text x="321.7" y="1133.6" letter-spacing="1.2">30</text>
<text x="540.3" y="1133.6" letter-spacing="0.9">40</text>
<text x="758.0" y="1133.6" letter-spacing="0.4">50</text>
<text x="975.9" y="1133.6" letter-spacing="0.4">60</text>
<text x="1193.4" y="1133.6" letter-spacing="1.6">70</text>
<text x="1411.2" y="1133.6" letter-spacing="1.2">80</text>
</g>
<text x="758.1" y="1192.7" font-size="58.67" letter-spacing="0.78" text-anchor="middle">2-Theta(degree)</text>
<text transform="translate(58.5,542.7) rotate(-90)" font-size="58.67" letter-spacing="0.58" text-anchor="middle">Intensity(a.u.)</text>
<text x="130.6" y="764.5" font-size="36" letter-spacing="0.95">Irradiated</text>
<text x="146.4" y="921.7" font-size="36" letter-spacing="1.05">Pristine</text>
<g font-size="47">
<text x="1141.3" y="127.7">Mg</text>
<text x="1141.3" y="189.8">HA</text>
<text x="1141.3" y="252">MgO</text>
<text x="1141.3" y="315.2">Mg<tspan font-size="30" dy="11">3</tspan><tspan dy="-11">(PO</tspan><tspan font-size="30" dy="11">4</tspan><tspan dy="-11">)</tspan><tspan font-size="30" dy="11">2</tspan></text>
</g>
<g class="s">
<text transform="translate(1113.30,114.35) scale(1.074,1)" x="-15.09" y="11.24" font-size="30.17">♣</text>
<text transform="translate(1114.60,176.50) scale(1.202,1)" x="-13.98" y="10.62" font-size="27.96">♦</text>
<text transform="translate(1113.50,238.65) scale(0.999,1)" x="-15.72" y="11.95" font-size="31.45">♥</text>
<text transform="translate(1113.70,301.35) scale(1.052,1)" x="-14.89" y="11.76" font-size="29.78">♠</text>
<text transform="translate(374.70,363.25) scale(1.045,1)" x="-11.70" y="9.25" font-size="23.41">♠</text>
<text transform="translate(374.30,390.90) scale(1.056,1)" x="-12.37" y="9.40" font-size="24.73">♦</text>
<text transform="translate(372.70,420.30) scale(1.026,1)" x="-12.72" y="9.47" font-size="25.43">♣</text>
<text transform="translate(421.70,518.85) scale(1.017,1)" x="-12.77" y="9.52" font-size="25.55">♣</text>
<text transform="translate(470.20,466.05) scale(1.061,1)" x="-11.81" y="9.33" font-size="23.63">♠</text>
<text transform="translate(468.20,495.00) scale(0.964,1)" x="-12.29" y="9.34" font-size="24.58">♥</text>
<text transform="translate(469.60,520.45) scale(1.021,1)" x="-12.77" y="9.52" font-size="25.55">♣</text>
<text transform="translate(613.15,770.50) scale(0.954,1)" x="-12.29" y="9.34" font-size="24.58">♥</text>
<text transform="translate(717.30,775.60) scale(0.997,1)" x="-12.26" y="9.32" font-size="24.52">♦</text>
<text transform="translate(923.20,752.50) scale(1.049,1)" x="-10.86" y="8.25" font-size="21.72">♦</text>
<text transform="translate(1029.00,775.45) scale(1.025,1)" x="-12.74" y="9.68" font-size="25.48">♦</text>
<text transform="translate(1047.55,772.10) scale(0.926,1)" x="-12.41" y="9.43" font-size="24.82">♥</text>
<text transform="translate(1141.20,717.55) scale(1.014,1)" x="-11.63" y="8.84" font-size="23.25">♥</text>
<text transform="translate(1141.60,743.20) scale(1.086,1)" x="-11.43" y="9.03" font-size="22.86">♠</text>
<text transform="translate(1200.80,650.65) scale(1.030,1)" x="-11.81" y="9.33" font-size="23.63">♠</text>
<text transform="translate(1200.70,677.35) scale(1.074,1)" x="-12.31" y="9.17" font-size="24.62">♣</text>
<text transform="translate(1256.40,689.80) scale(1.079,1)" x="-12.25" y="9.13" font-size="24.51">♣</text>
</g>
</svg></body></html>
